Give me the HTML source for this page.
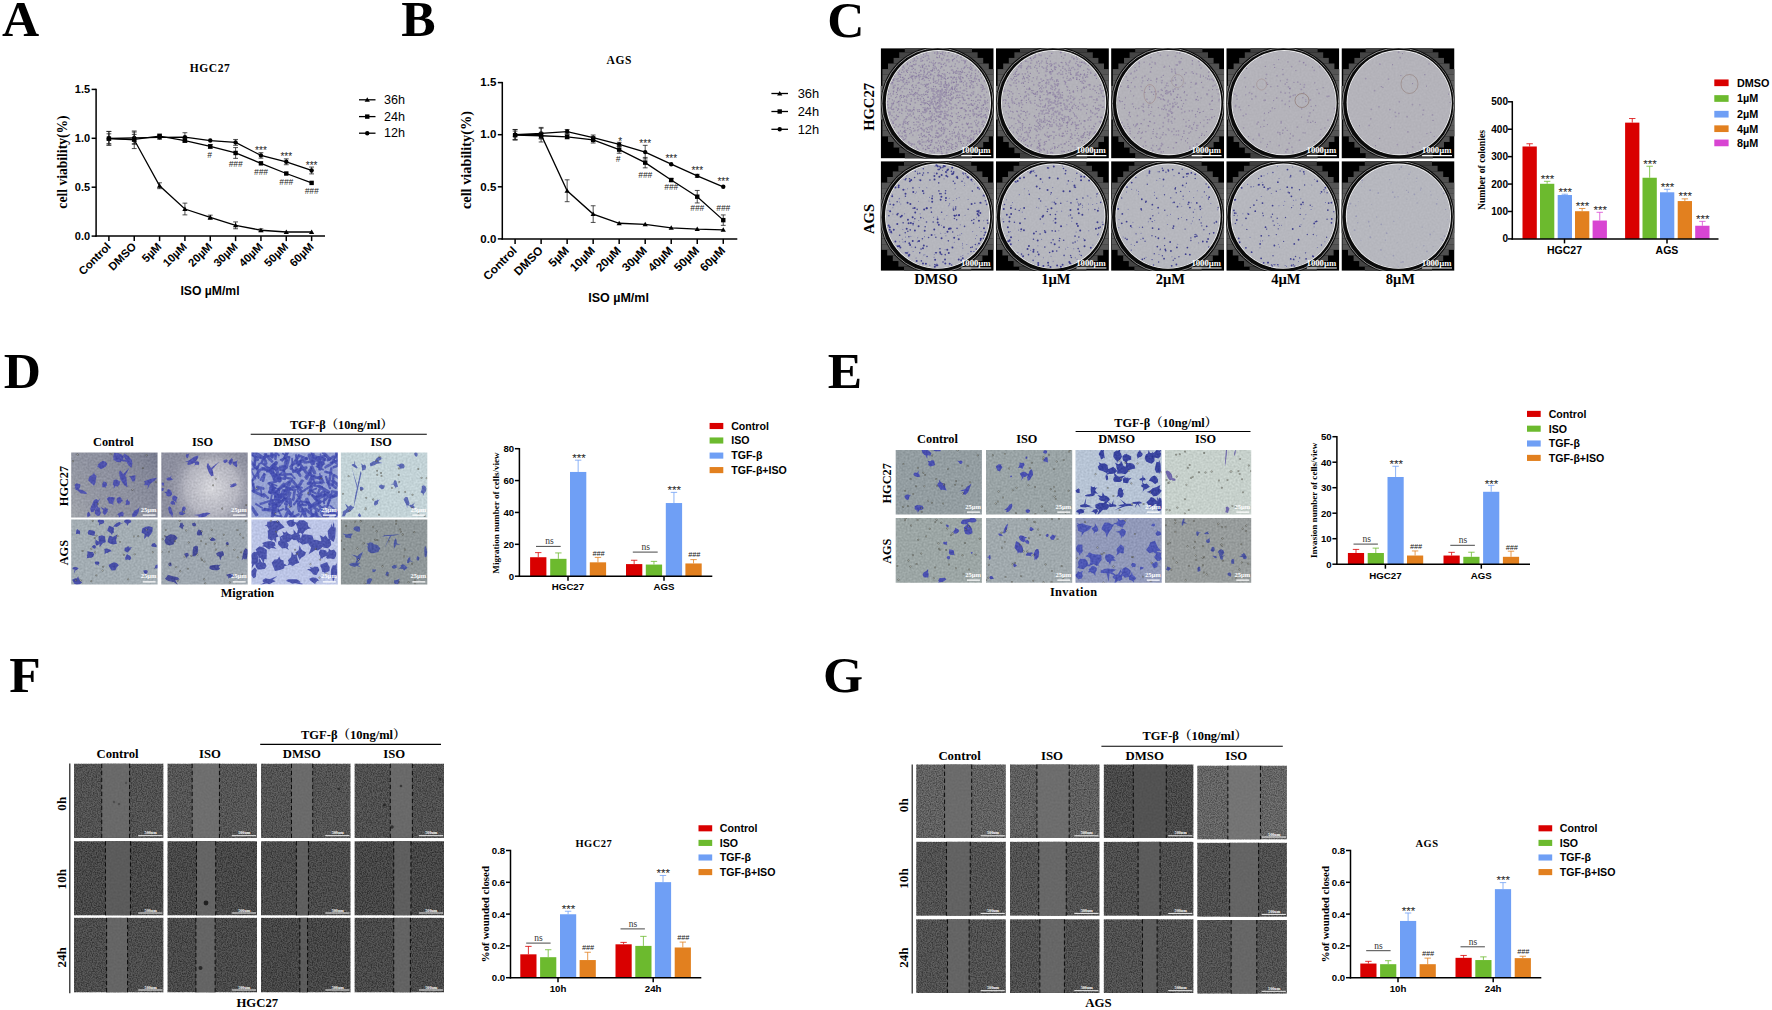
<!DOCTYPE html>
<html lang="en"><head><meta charset="utf-8"><title>Figure</title>
<style>
html,body{margin:0;padding:0;background:#fff}
svg{display:block}
.sn{font-family:"Liberation Sans", Arial, sans-serif;font-weight:400}
.sb{font-family:"Liberation Sans", Arial, sans-serif;font-weight:700}
.tn{font-family:"Liberation Serif", "Noto Serif CJK SC", "Times New Roman", serif;font-weight:400}
.tb{font-family:"Liberation Serif", "Noto Serif CJK SC", "Times New Roman", serif;font-weight:700}
</style></head><body>
<svg width="1772" height="1010" viewBox="0 0 1772 1010">
<defs>

<filter id="fW" x="0" y="0" width="1" height="1" color-interpolation-filters="sRGB">
<feTurbulence type="fractalNoise" baseFrequency="0.8" numOctaves="2" seed="3" result="n"/>
<feColorMatrix in="n" type="matrix" values="1.5 0 0 0 0  1.5 0 0 0 0  1.5 0 0 0 0  0 0 0 0 1" result="g"/>
<feComposite in="SourceGraphic" in2="g" operator="arithmetic" k1="0" k2="1" k3="0.24" k4="-0.18"/>
</filter>
<filter id="fW2" x="0" y="0" width="1" height="1" color-interpolation-filters="sRGB">
<feTurbulence type="fractalNoise" baseFrequency="0.85" numOctaves="2" seed="8" result="n"/>
<feColorMatrix in="n" type="matrix" values="1.5 0 0 0 0  1.5 0 0 0 0  1.5 0 0 0 0  0 0 0 0 1" result="g"/>
<feComposite in="SourceGraphic" in2="g" operator="arithmetic" k1="0" k2="1" k3="0.26" k4="-0.195"/>
</filter>
<filter id="fGap" x="0" y="0" width="1" height="1" color-interpolation-filters="sRGB">
<feTurbulence type="fractalNoise" baseFrequency="0.5" numOctaves="1" seed="5" result="n"/>
<feColorMatrix in="n" type="matrix" values="1 0 0 0 0  1 0 0 0 0  1 0 0 0 0  0 0 0 0 1" result="g"/>
<feComposite in="SourceGraphic" in2="g" operator="arithmetic" k1="0" k2="1" k3="0.06" k4="-0.03"/>
</filter>
<filter id="fMicro" x="0" y="0" width="1" height="1" color-interpolation-filters="sRGB">
<feTurbulence type="fractalNoise" baseFrequency="0.5" numOctaves="2" seed="2" result="n"/>
<feColorMatrix in="n" type="matrix" values="1 0 0 0 0  1 0 0 0 0  1 0 0 0 0  0 0 0 0 1" result="g"/>
<feComposite in="SourceGraphic" in2="g" operator="arithmetic" k1="0" k2="1" k3="0.16" k4="-0.08"/>
</filter>
<filter id="fPlate" x="0" y="0" width="1" height="1" color-interpolation-filters="sRGB">
<feTurbulence type="fractalNoise" baseFrequency="0.5" numOctaves="1" seed="9" result="n"/>
<feColorMatrix in="n" type="matrix" values="1 0 0 0 0  1 0 0 0 0  1 0 0 0 0  0 0 0 0 1" result="g"/>
<feComposite in="SourceGraphic" in2="g" operator="arithmetic" k1="0" k2="1" k3="0.05" k4="-0.025" result="c"/>
<feComposite in="c" in2="SourceGraphic" operator="in"/>
</filter>
<filter id="fSoft" x="-0.1" y="-0.1" width="1.2" height="1.2"><feGaussianBlur stdDeviation="0.35"/></filter>
<filter id="fSoft2" x="-0.05" y="-0.05" width="1.1" height="1.1"><feGaussianBlur stdDeviation="0.3"/></filter>

<linearGradient id="gD11" gradientUnits="userSpaceOnUse" x1="157" y1="452" x2="71" y2="517"><stop offset="0" stop-color="#6e7288" stop-opacity="0.75"/><stop offset="0.5" stop-color="#8a8e9c" stop-opacity="0.2"/><stop offset="1" stop-color="#b0b4b4" stop-opacity="0.6"/></linearGradient>
<radialGradient id="gD12" gradientUnits="userSpaceOnUse" cx="212" cy="488" r="48"><stop offset="0" stop-color="#dcdce0" stop-opacity="0.95"/><stop offset="0.55" stop-color="#c4c4cc" stop-opacity="0.7"/><stop offset="1" stop-color="#8a8c9c" stop-opacity="0"/></radialGradient>
</defs>
<rect width="1772" height="1010" fill="#fff"/>
<clipPath id="pc0"><rect x="880.7" y="48.2" width="113" height="110.2"/></clipPath>
<g clip-path="url(#pc0)">
<rect x="880.7" y="48.2" width="113" height="110.2" fill="#000"/>
<rect x="921.6" y="41.1" width="33.6" height="5.65" fill="#373737"/>
<rect x="904.8" y="46.7" width="67.2" height="5.65" fill="#3e3e3e"/>
<rect x="899.2" y="52.3" width="78.4" height="5.65" fill="#444444"/>
<rect x="893.6" y="57.9" width="89.6" height="5.65" fill="#4a4a4a"/>
<rect x="888" y="63.5" width="100.8" height="5.65" fill="#505050"/>
<rect x="882.4" y="69.1" width="112" height="5.65" fill="#555555"/>
<rect x="882.4" y="74.7" width="112" height="5.65" fill="#5a5a5a"/>
<rect x="882.4" y="80.3" width="112" height="5.65" fill="#5e5e5e"/>
<rect x="876.8" y="85.9" width="123.2" height="5.65" fill="#626262"/>
<rect x="876.8" y="91.5" width="123.2" height="5.65" fill="#656565"/>
<rect x="876.8" y="97.1" width="123.2" height="5.65" fill="#676767"/>
<rect x="876.8" y="102.7" width="123.2" height="5.65" fill="#676767"/>
<rect x="876.8" y="108.3" width="123.2" height="5.65" fill="#656565"/>
<rect x="876.8" y="113.9" width="123.2" height="5.65" fill="#626262"/>
<rect x="882.4" y="119.5" width="112" height="5.65" fill="#5e5e5e"/>
<rect x="882.4" y="125.1" width="112" height="5.65" fill="#5a5a5a"/>
<rect x="882.4" y="130.7" width="112" height="5.65" fill="#555555"/>
<rect x="888" y="136.3" width="100.8" height="5.65" fill="#505050"/>
<rect x="893.6" y="141.9" width="89.6" height="5.65" fill="#4a4a4a"/>
<rect x="899.2" y="147.5" width="78.4" height="5.65" fill="#444444"/>
<rect x="904.8" y="153.1" width="67.2" height="5.65" fill="#3e3e3e"/>
<rect x="921.6" y="158.7" width="33.6" height="5.65" fill="#373737"/>
<circle cx="937.6" cy="103.5" r="56.9" fill="#0c0c0c"/>
<circle cx="937.5" cy="103.6" r="55.6" fill="none" stroke="#909090" stroke-width="1.0"/>
<circle cx="938.4" cy="102.7" r="54.0" fill="#0a0a0a"/>
<circle cx="938.4" cy="102.7" r="52.6" fill="#f0f0f2"/>
<circle cx="938.4" cy="102.7" r="51.9" fill="#b4b3ba" filter="url(#fPlate)"/>
<path d="M920.4 67.02h0M953.83 59h0M942.07 88.97h0M893.23 103.46h0M891.13 95.92h0M930.69 136.1h0M899.95 74.42h0M951.42 148.46h0M946.28 92.14h0M975.04 81.2h0M918.83 135.01h0M905.77 111.04h0M952.6 89.66h0M943.28 58.02h0M956.84 95.3h0M919.41 111.44h0M933.62 82.24h0M968.49 123.04h0M912.25 110.31h0M940.98 141.04h0M961.85 81.03h0M930.03 128.98h0M902.83 101.57h0M891.31 119.89h0M965.44 110.16h0M976.77 83.66h0M958.36 112.34h0M946.57 98.22h0M935.75 119.48h0M893.5 123.29h0M971.3 80.69h0M926.73 119.94h0M889.61 98.79h0M900.52 76.91h0M927.26 140.66h0M895.54 97.51h0M943.45 141.88h0M971.03 139.9h0M915.75 94.04h0M923.97 141.96h0M905.31 75.31h0M911.15 101.16h0M947.51 78.45h0M925.04 109.48h0M984.71 122.17h0M939.98 114.72h0M956.41 57.12h0M979.23 131.31h0M976.68 133.14h0M927.4 92.38h0M897.88 116.42h0M908.64 68.19h0M922.05 56.97h0M897.67 88.76h0M950.06 66.78h0M913.08 87.1h0M924.52 64.15h0M934.92 101.05h0M922.32 78.66h0M972.01 68.1h0M941.29 66.58h0M942.81 54.36h0M941.27 151.6h0M975.53 122.75h0M913.99 89.08h0M904.37 130.49h0M941.73 131.22h0M920.99 74.39h0M974.44 133.98h0M970.93 127.22h0M910.47 104.5h0M923.64 54.56h0M913.79 122.38h0M985.06 97.31h0M984.9 88.87h0M909.83 74.78h0M907.4 72.49h0M951.08 143.61h0M973.19 100.6h0M954.03 133.32h0M895.96 119.11h0M980.28 131.55h0M963.96 100.45h0M905.54 132.25h0M921.28 133.44h0M986.6 92.05h0M928.32 148.36h0M961.37 68.97h0M902.24 136.07h0M923.11 107.67h0M986.52 118h0M941.12 147.02h0M931.64 140.69h0M971.73 73.17h0M913.04 81.54h0M911.88 111.53h0M913.81 94.42h0M923.46 98.42h0M946.92 144.02h0M930.29 145.39h0M938.57 105.95h0M940.8 53.51h0M932.28 70.31h0M904.91 99.99h0M961.41 108.47h0M920.62 104.58h0M944.07 131.75h0M898.14 108.86h0M912.7 79.9h0M966.23 103.49h0M944.71 129.27h0M980.56 96.9h0M949.9 103.27h0M939.64 122.4h0M933.53 106.1h0M936.16 147.82h0M958.76 141.18h0M944.48 148h0M973.15 65.62h0M899.73 96.78h0M894.71 76.19h0M894.77 120.02h0M967.42 143.28h0M903.08 124.79h0M954.78 66.21h0M928 101.4h0M903.8 95.7h0M939.99 86.26h0M907.31 84.15h0M943.92 96.61h0M951.07 103.95h0M898.01 78.74h0M914.94 64.84h0M930.45 144.75h0M971 78.03h0M945.61 123.18h0M957.63 95.07h0M952.14 133.53h0M933.68 86.26h0M943.82 146.31h0M914.68 64.81h0M941.15 75.97h0M919.19 82.77h0M964.92 81.23h0M938.41 69.78h0M962.22 107.92h0M906.66 100.12h0M970.99 95.77h0M937.89 136.9h0M927.47 103.38h0M922.32 136.66h0M959.53 116.6h0M928.66 87.12h0M894.53 127.32h0M913.42 68.28h0M976.27 120.13h0M916.11 76.35h0M917.25 98.56h0M903.4 97.16h0M986.7 107.51h0M918.94 88.04h0M935.81 102.98h0M907.84 103.18h0M896.47 92.43h0M918.39 75.39h0M947.15 105.68h0M964.01 118.8h0M960.47 141.44h0M927.11 84.93h0M961.31 117.34h0M978.46 115.71h0M962.3 134.61h0M901.54 105.13h0M938.85 136.93h0M969.54 136.06h0M946.99 142.85h0M957.09 122.46h0M900.9 88.46h0M944.38 115.76h0M951.3 121.16h0M937.31 51.94h0M968.82 128.07h0M938.7 106.3h0M954.68 58.35h0M962.6 77.37h0M894.91 78.74h0M961.84 72.57h0M937.78 90.7h0M936.25 121.47h0M965.68 114.65h0M952.99 59.52h0M902.37 77.55h0M963.26 82.71h0M945.33 52.87h0M893.5 79.07h0M955.98 122.34h0M956.36 81.33h0M940.09 99.09h0M934.96 63.71h0M978.63 71.96h0M889.09 98.51h0M933.23 79.06h0M908.83 111.03h0M901.79 105.16h0M971.13 103.59h0M977.94 123.48h0M910.95 143.35h0M936.98 54.14h0M887.67 101.85h0M933.37 82.46h0M901.68 86.75h0M919.6 137.47h0M981.98 124.47h0M979.44 81.22h0M925.34 91.75h0M924.16 95.35h0M916.49 147.22h0M912.78 78.76h0M939.52 71h0M925.46 149.32h0M977.67 134.58h0M951.78 144.95h0M983.44 107.73h0M962.15 97.68h0M964.22 117.47h0M916.55 56.61h0M935.56 86.72h0M917.73 127.13h0M954.34 82.35h0M944.26 91.9h0M904.4 68.12h0M938.1 74.09h0M933.29 65.87h0M922.25 60.91h0M911.74 78h0M945.51 142.28h0M963.92 93.79h0M929.6 105.17h0M925.82 86.16h0M893.64 79.96h0M938.75 115.95h0M975.48 73.67h0M915 76.99h0M928.16 97.17h0M978.84 99.97h0M927.31 146.32h0M971.68 139.03h0M940.69 121.31h0M983.52 125.36h0M953.46 129.76h0M934.04 107.96h0M911.07 145.62h0M953.27 82.65h0M900.38 77.33h0M952.33 123h0M940.9 111.17h0M926.96 74.45h0M948.73 52.67h0M918.12 98.68h0M985.3 117.48h0M977.62 100.18h0M911.29 76.85h0M938.23 120.53h0M930.23 77.89h0M955.5 146.15h0M921.85 94.58h0M957.06 71.84h0M968.76 127.14h0M938.9 72.57h0M971.1 75.19h0M909.93 129.32h0M917.44 148.89h0M937.97 70.74h0M910.12 94.22h0M955.29 148.56h0M902.26 91.81h0M893.45 91.8h0M982.51 85.25h0M955.2 90.29h0M925.51 85.5h0M915.9 87.52h0M923.75 135.56h0M971.31 95.8h0M892.33 99.99h0M925.39 145.57h0M907.03 88.83h0M929.28 134.57h0M981.33 77.87h0M963.67 143.43h0M921.95 79.43h0M985.18 114.66h0M914.09 124.84h0M919.64 79.77h0M980.96 116.39h0M911.2 100.16h0M926.8 77.26h0M931.24 102.03h0M969.32 127.07h0M971.39 130.58h0M949.36 85.1h0M919.96 88.58h0M907.47 128.54h0M890.76 108.08h0M914.37 60.19h0M897.15 102.54h0M959.84 97.28h0M911.23 94.2h0M950.7 120.49h0M963.74 138.16h0M955.2 63.98h0M973.24 81.62h0M945.24 89.72h0M962.73 71.96h0M912.59 76.67h0M946.4 84.95h0M939.15 75.25h0M969.92 118.37h0M935.82 135.31h0M899.48 70.97h0M986.74 111.2h0M982.36 89.64h0M975.82 97.5h0M913.87 131.09h0M948.23 114.96h0M909.54 89.28h0M901.75 72.45h0M913.35 112.86h0M953.9 72.39h0M956.62 70.52h0M919.21 72.39h0M968.58 107.61h0M927.7 107.82h0M952.62 60.92h0M904.03 122.67h0M929.18 80.55h0M918.74 149.02h0M919.22 109.5h0M923.8 94.16h0M924.48 71.75h0M961.7 72.41h0M930.61 135.44h0M928.82 141.83h0M934.4 68.21h0M888.82 107.97h0M952.78 144.58h0M896.4 115.19h0M925.2 103.16h0M902.21 80.55h0M940.56 146.19h0M898.42 101.73h0M907.47 64.54h0M936.64 57.05h0M981.95 91.24h0M979.71 115h0M971.57 67.98h0M967.61 74.3h0M928.64 138.1h0M972.04 70.3h0M909.59 92.45h0M940.23 90.8h0M899.88 76.85h0M961.38 143.3h0M891.5 109.07h0M948.57 107.82h0M951.38 82.9h0M930.23 111.14h0M930.81 118.93h0M932.96 96.4h0M889.69 114.85h0M937.33 75.64h0M965.34 131.31h0M934.14 69.95h0M935.66 62.54h0M900.43 95.61h0M896.67 96.77h0M939.44 55.77h0M952.34 60.01h0M962.26 131.07h0M939.57 57.15h0M938.8 90.22h0M962.12 134.89h0M937.57 149.37h0M894 87.46h0M964.58 67.83h0M978.93 79.7h0M970.66 66.27h0M938.63 145.61h0M908.59 78.47h0M939.01 84.21h0M956.76 143.11h0M904.55 131.81h0M899.06 105.84h0M952.33 88.37h0M976.52 108.34h0M946.58 141.8h0M951.66 91.89h0M968.82 78.66h0M988.53 110.61h0M924.12 129.75h0M932.5 69.66h0M971.09 77.52h0M947.18 119.43h0M950.26 95.77h0M939.7 143.12h0M900.79 74.83h0M898.17 88.1h0M910.22 111.24h0M947.51 72.47h0M951.07 100.13h0M912.19 66.86h0M897.09 116.83h0M976.35 131.54h0M928.38 78.61h0M944.77 87.4h0M953.28 96.95h0M983.08 126.57h0M912.7 143.94h0M891.8 105.92h0M928.79 75.89h0M888.56 107.9h0M907.69 113.75h0M939.11 117.17h0M970.43 69.45h0M918.92 82.29h0M967.32 124.71h0M963.46 99.15h0M963.11 97.84h0M910.39 62.36h0M921.59 128.21h0M958.34 137.99h0M960.03 78.78h0M943.9 96.16h0M967.88 105.08h0M914.41 117.21h0M913.91 75.73h0M963.56 85.01h0M977.25 85.18h0M911.74 144.35h0M951.76 122.41h0M935.28 137.42h0M958.6 139.24h0M931.98 125.66h0M945.59 83.05h0M908.96 115.23h0M922.55 66.1h0M958.09 116.38h0M958.53 126.9h0M894.02 111.95h0M924.44 135.15h0M898.25 72.62h0M973.94 134.59h0M952.11 135.92h0M951.84 80.97h0M964.7 72.55h0M919.92 94.91h0M916.18 124.75h0M924.91 84.39h0M985.82 103.08h0M974.31 114.79h0M890.47 93.8h0M931.91 130.6h0M922.74 123.62h0M942.27 73.73h0M971.08 69.01h0M887.75 101.76h0M937.53 133.03h0M906.16 102.15h0M922.78 136.61h0M916.3 73.54h0M958.79 102.53h0M898.53 116.65h0M958.55 132.02h0M951.47 87.94h0M928.31 91.93h0M908.37 78.5h0M979.4 102.82h0M926.06 141.94h0M911.17 98.7h0M941.62 128.71h0M964.26 117.65h0M922.92 84.98h0M903.17 137.77h0M954.97 127.43h0M904.63 96.45h0M966.35 110.79h0M900.18 98.82h0M977.76 75.92h0M906.88 82.41h0M959.16 137.82h0M903.1 67.54h0M912.6 84.97h0M940.67 68.05h0M920.83 70.94h0M897.69 90.87h0M962.24 96.05h0M907.35 116.8h0M898.22 72.7h0M926.99 55.07h0M928.08 132.44h0M958.17 102.75h0M951.93 98.95h0M901.79 113.3h0M928.66 127.32h0M980.1 95.55h0M945.96 128.16h0M930.34 74.96h0M961.11 141.54h0M966.41 123.15h0M974.42 121.05h0M952.87 97.99h0M919.29 115.81h0M897.3 94.48h0M967.26 124.48h0M951.65 77.16h0M930.59 98.12h0M950.82 93.44h0M956.31 146.67h0M906.01 118.49h0M966.83 91.33h0M937.36 151.21h0M891.2 107.13h0M903.74 131.5h0M983.43 104.66h0M897.63 110.32h0M942.59 124.91h0M939.65 116.93h0M972.02 104.92h0M929.24 148.48h0M908.77 121.54h0M927.41 129.55h0M923.63 57.39h0M915.34 92.45h0M888.66 94.38h0M930.28 122.96h0M923.29 78.7h0M910.24 127.38h0M983.36 105.47h0M909.67 133.51h0M927.36 73.27h0M900.51 130.97h0M970.04 116.43h0M935.25 109.04h0M923.39 116.89h0M970.98 135.01h0M935.14 81.68h0M943.33 64.39h0M972.51 87.86h0M974.24 78.93h0M925.74 77.51h0M930.85 70.6h0M916.04 76.64h0M918.15 100.61h0M931.09 116.73h0M954.68 88.64h0M979.87 131.73h0M901.65 136.56h0M954.34 77.15h0M911.18 130.94h0M922.71 67.2h0M979.7 132.51h0M949.48 131.45h0M955.62 142.96h0M967.84 137.33h0M907.47 122.4h0M941.55 127.42h0M932.12 141.81h0M944.03 78.63h0M911.23 65.84h0M937.69 57.57h0M935.04 66.36h0M937.52 102.51h0M942.44 139.79h0M935.13 109.09h0M955.29 137.51h0M925.62 94.4h0M952.41 116.61h0M890.22 113.91h0M957.06 146.8h0M939.49 101.13h0M960.7 115.5h0M921.91 139.66h0M924.72 100.1h0M941.01 130.35h0M908.84 96.08h0M930.47 108.22h0M971.79 81.53h0M971.89 92.86h0M938.78 79.37h0M939.06 151.24h0M954.2 132.54h0M921.12 84.01h0M917.88 111.54h0M952.18 131.75h0M977.81 107.34h0M892.38 82.3h0M981.47 113.81h0M954.55 132.24h0M980.28 114.12h0M950.33 115.66h0M958.47 112.54h0M956.9 73.32h0M955.47 98.4h0M965.25 61.96h0M966.46 145.02h0M954.31 89.3h0M971.37 131.98h0M944.75 77.97h0M918.17 94.71h0M919.85 95.61h0M952.89 147.04h0M892.88 109.6h0M970.12 110.4h0M981.18 97.23h0M888.74 91.17h0M947.8 147.43h0M987.54 100.19h0M929.45 62.03h0M953.17 73.29h0M960.82 76.36h0M962.27 70.75h0M960.23 139.03h0M961.88 60.21h0M951.55 124.08h0M934.37 146.89h0M919.09 126.15h0M904.26 139.59h0M937 57.71h0M924.87 110.36h0M932.14 120.78h0M902.11 133.09h0M924.43 117.51h0M951.66 94.32h0M926.72 131.95h0M945.23 81.48h0M959.17 136.16h0M921.23 113.52h0M948.74 83.14h0M931.1 142.37h0M925.8 121.59h0M948.8 143.18h0M969.82 80.55h0M930.48 111.55h0M970.69 142.3h0M970.26 140.23h0M945.75 79.59h0M974.29 134.08h0M957.27 144.99h0M922.75 60.29h0M943.89 133.09h0M907.78 128.27h0M949.32 120.86h0M934.86 72.71h0M913.33 128.37h0M968.21 98.58h0M966.22 75.4h0M946.53 143.27h0M977.76 104.93h0M936.01 111.83h0M906.63 71.25h0M905.77 123.25h0M924.38 109.28h0M928.43 104.46h0M898.15 116.27h0M967.77 67.56h0M948.34 86.85h0M940.39 53.7h0M975.81 101.3h0M945.27 78.34h0M966.93 95.13h0M907.84 70.07h0M944.26 140.58h0M934.14 148.4h0M948.42 92.21h0M913.59 109.29h0M952.77 149.35h0M955.75 91.78h0M933.12 67.92h0M913.45 87.58h0M967.67 124.12h0M956.48 82.14h0M947.75 129.06h0M898.07 84.7h0M913.57 64.29h0M936.49 68.83h0M911.67 66.23h0M960.6 71.54h0M901.58 97.31h0M973.38 115.82h0M933.53 86.33h0M971.42 100.4h0M951.5 66.19h0M960.24 108.15h0M914.53 93.68h0M903.21 79.31h0M973.1 85.79h0M904.45 101.78h0M919.81 143.9h0M955.6 73.18h0M936.1 80.85h0M913.65 72.21h0M897.27 81.18h0M961.55 81.6h0M969.78 86.44h0M972.36 105.42h0M906.29 96.08h0M980.5 73.91h0" stroke="#735f94" stroke-width="1.25" stroke-linecap="round" fill="none" opacity="0.6"/>
<path d="M945.69 65.71h0M905.71 130.34h0M960.03 71.7h0M949.49 102.24h0M915.29 72.66h0M949.89 123.93h0M970.24 111.18h0M962.18 93.31h0M961.05 57.26h0M970.15 85.86h0M973.34 139.95h0M937.69 53.18h0M980.32 100.31h0M976.42 78.81h0M906.31 136.59h0M924.82 68.31h0M925.23 112.4h0M887.77 104.73h0M932.86 104.3h0M899.64 124.63h0M970.75 140.05h0M920.1 124.28h0M926.28 128.38h0M984.8 102.17h0M939.76 105.82h0M942.22 53.71h0M912.9 135.11h0M958.73 71.54h0M889.11 112.86h0M946.22 105.04h0M959.11 62.11h0M976.17 124.89h0M937.75 102.78h0M915.88 64.07h0M928.76 65.6h0M947.78 139.6h0M902.35 110.14h0M963.6 68.39h0M927.03 94.57h0M973.12 105.32h0M927.73 147.8h0M966.7 86.2h0M911.87 85.85h0M931.82 151.88h0M970.6 138.23h0M892.77 104.48h0M912.78 94.74h0M951.96 88.84h0M941.55 58.68h0M931.56 103.19h0M983.05 116.31h0M970.01 141.98h0M952.87 78.76h0M956.64 79.54h0M942.72 146.07h0M950.79 77.21h0M940.48 95.92h0M984.48 80.98h0M918.51 117.78h0M899.6 112.34h0M985.01 104.11h0M914.73 99.27h0M941.86 66.77h0M917.31 93.15h0M916.76 76.48h0M896.28 107.43h0M973.12 113.94h0M945.57 118.07h0M907.86 124.2h0M934.4 107.61h0M949.93 99.53h0M919.03 76.36h0M909.95 103.97h0M926.46 111.46h0M975.38 75.98h0M944.19 101.82h0M917.5 130.51h0M976.34 96.57h0M893.64 91.24h0M932.26 126.76h0M898.46 74.61h0M903.09 86.04h0M923.32 120.62h0M950.29 138.47h0M971.23 104.52h0M962.8 127.56h0M964.94 100.17h0M967.52 124.01h0M965.55 111.47h0M938.18 149.99h0M945.75 94.31h0M967.39 140.8h0M949.37 90.39h0M933.52 98.4h0M961.2 81.54h0M927.23 108.36h0M926.6 84.51h0M967.74 138.43h0M938.35 96.98h0M906.13 82.67h0M902.12 110.41h0M946.74 60.59h0M981.34 84.7h0M973.49 137.26h0M930.88 144.66h0M945.04 102.43h0M942.33 153.63h0M940.18 104.46h0M957.33 91.41h0M923.86 112.38h0M923.18 148.48h0M956.44 105.28h0M897.41 89.87h0M928.27 108.97h0M945.97 141.52h0M985.87 101.34h0M932.28 115.43h0M941.48 134.98h0M904.75 84.11h0M939.69 62.89h0M978.72 122.11h0M978.07 94.61h0M903.28 81.23h0M939.59 103.2h0M906.52 70.24h0M951.7 113.24h0M952.35 55.92h0M929.35 132.1h0M918.65 122.19h0M973.37 111.51h0M955.58 71.7h0M938.18 108.14h0M914.49 117.7h0M941.62 153.5h0M946.01 93.61h0M964.92 62.5h0M940.7 135.72h0M949.95 134.03h0M966.05 84.59h0M960.42 87.76h0M904.61 78.85h0M946.81 87.26h0M933.27 91.01h0M946.85 149.67h0M932.23 114.98h0M919.47 143.46h0M970.68 82.64h0M948.88 149.71h0M937.95 148.66h0M912.13 91.44h0M960.73 74.23h0M918.9 141.06h0M936.8 132.62h0M912.17 69.33h0M923.93 70.67h0M944.69 63.34h0M941.85 91.01h0M928.51 58.29h0M899.9 136h0M923.2 76.63h0M906.84 80.58h0M955.19 86.49h0M903.23 123.74h0M896.77 79.16h0M932.61 137.07h0M969.56 67.87h0M923.37 125.44h0M925.82 149.55h0M938.89 74.83h0M933.57 64.98h0M959.5 78.25h0M979.24 111.65h0M924.91 76.77h0M949.46 73.32h0M939.73 107.05h0M914.94 130.47h0M926.63 118.8h0M945.32 83.36h0M927.15 60.39h0M905.39 138.57h0M920.11 119.33h0M898.44 109.04h0M924.24 102.74h0M917.65 58.34h0M919.11 74.74h0M900.19 124.85h0M916.16 92.83h0M980.19 130.8h0M900.81 79.86h0M955.12 87.52h0M929.46 118.96h0M958.76 76.99h0M973.83 87.59h0M951.57 70.17h0M962.32 124.43h0M903.86 71.84h0M918.27 90.51h0M891.31 83.38h0M952.54 69.96h0M973.09 109.87h0M960.54 77.63h0M931.75 121.54h0M972.56 130.96h0M974.59 113.67h0M898.66 132.48h0M963.9 60.4h0M958.3 91.83h0M963.7 136.3h0M916.04 60.79h0M984.02 94.93h0M982.37 122.28h0M962.79 136.42h0M951.49 97.87h0M892.85 122.96h0M931.08 103.91h0M959.12 133.95h0M913.99 107.44h0M986.37 116.75h0M942.89 77.12h0M893.37 88.17h0M929.37 72.18h0M919.04 65.56h0M959.55 120.11h0M911.61 76.3h0M939.97 97.08h0M982.94 87.52h0M917.9 142.01h0M901.8 109.17h0M921.39 134.93h0M943.33 129.32h0M904.59 119.72h0M948.49 98.73h0M965.6 136.55h0M899 81.17h0M924.14 72.7h0M893.47 80.31h0M907.44 123.31h0M933.09 63.15h0M920.46 99.5h0M924.4 68.78h0M895.88 124.89h0M987.48 109.21h0M898.42 101.56h0M931.68 71h0M942.8 52.45h0M981.28 117.47h0M951.46 147.18h0M954 77.29h0M912.44 65.77h0M973.1 81.88h0M906.28 116.81h0M904.52 131.79h0M972.17 127.47h0M920.69 70.46h0M971.65 84.32h0M924.96 107.93h0M925.04 136.57h0M945.23 115.8h0M971.08 123.71h0M937.83 102.65h0M903.39 82.22h0M946.69 59.8h0M957.61 68.32h0M932.59 150.71h0M932.22 71.1h0M973.23 139.01h0M967.72 95.08h0M916.25 119.22h0M939.89 94.65h0M921.91 96.43h0M955.38 136.02h0M917.52 96.89h0M944.88 87.18h0M920.38 98.66h0M985.6 114.95h0M956.43 113.85h0M917.66 109.97h0M984.68 100.73h0M953.46 82.19h0M922.4 142.06h0M956.66 97.32h0M896.01 119.1h0M925.32 110.95h0M929.85 105.76h0M945.02 92.11h0M978.26 107.62h0M913.21 61.31h0M941.55 77.31h0M937.3 108.22h0M910.45 110.13h0M898.85 104.05h0M947.44 59.8h0M929 59.11h0M932.22 139.85h0M943.57 124.63h0M964.66 63.31h0M927.36 69.1h0M985.42 109.14h0M966.5 65.58h0M911.51 89.65h0M888.85 112.34h0M909.08 82.25h0M959.6 95.13h0M978.12 115.08h0M976.43 109.13h0M904.47 127.78h0M922.19 129.64h0M956.85 135.98h0M899.84 89.72h0M949.01 61.78h0M943.39 133.67h0M956.31 77.62h0M907.04 97.26h0M972.96 111.02h0M898.58 133.43h0M906.23 108.24h0M916.94 121.83h0M926.22 66.34h0M976.77 106.63h0M957.77 134.2h0M922.29 67.03h0M938.58 140.83h0M905.93 135.23h0M956.75 91.72h0M935.92 67.78h0M973.67 91.81h0M976.52 114.03h0M895.06 85.25h0M909.41 142.97h0M947.52 56.06h0M904.65 88.49h0M935.11 110.57h0M926.94 87.75h0M934.25 152.41h0M955.87 79.47h0M915.24 102.7h0M914.08 109.75h0M941.28 149.4h0M944.6 130.39h0M976.46 130.73h0M952 116.46h0M924.39 80.38h0M968.58 140.8h0M983.23 121.23h0M918.37 129.61h0M962.88 103.61h0M952.22 87.41h0M943.59 93.09h0M893.48 86.06h0M936.51 89.14h0M912.18 75.6h0M922.99 65.46h0M933.61 97.13h0M945.42 82.51h0M918.11 83.13h0M961.56 107.94h0M983.11 86.4h0M981.45 111.22h0M946.63 152.52h0M923.78 130.75h0M931.07 140.34h0M894.22 101.12h0M979.19 79.79h0M904.12 78.99h0M959.29 73.91h0M928.14 72.08h0M948.92 139.91h0M953.54 71.7h0M948.72 59.71h0M970.03 141.08h0M922.17 65.57h0M906.53 106.48h0M976.77 117h0M920.69 128.18h0M953.62 93.02h0M956.69 86.12h0M893.17 93.94h0M891.95 115.61h0M921.49 102.12h0M948.4 77.87h0M934.66 52.99h0M981.86 109.26h0M950.05 125.61h0M920.94 61.15h0M903.26 66.18h0M965.71 60.78h0M970.49 94.85h0M942.35 111.74h0M944.02 118.78h0M948.78 85.41h0M963.04 77.95h0M960.01 129.61h0M966.61 83.21h0M933.61 80.04h0M940.78 147.76h0M935.92 118.58h0M966.42 88.65h0M964.62 60.79h0M893.45 102.89h0M944.05 70.18h0M983.34 88.97h0M902.56 69.73h0M962.7 145.77h0M966.82 76.39h0M987.69 102.59h0M952.31 86.78h0M969.11 98.62h0M920.4 143.94h0M898.32 126.55h0M893.99 117.57h0M928.37 139.91h0M893.43 109.26h0M929.19 145.54h0M983.87 115.69h0M910.2 77.35h0M914.11 95.93h0M910.95 72.37h0M964.89 117.28h0M909.44 109.81h0M903.32 139.81h0M976.14 78.92h0M964.11 135.69h0M916.18 85.48h0M936.92 142.66h0M903.82 121.38h0M948.37 97.9h0M946.5 141.83h0M908.74 141.9h0M924.13 131.3h0M975.53 70.23h0M902.71 126.82h0M957.08 60.82h0M922 145.47h0M960.51 141.74h0M911.28 132.55h0M957.76 55.47h0M938.89 75.27h0M931.3 62.32h0M919.65 141.39h0M899.61 101.41h0M901.18 95.39h0M905.59 121.65h0M902.42 127.05h0M938.47 63.08h0M923.44 102.32h0M981.19 87.31h0M977.56 126.35h0M915.2 69.71h0M914.35 58.64h0M891.71 103.59h0M929.01 108.49h0M957.63 118.35h0M942.89 107.69h0M976.63 124.96h0M928.11 84.13h0M930.14 151.03h0M926.86 90.99h0M929.2 66.22h0M949.42 146.27h0M913.33 114.03h0M925.83 76.21h0M907.58 63.47h0M973.46 131.72h0M958.25 84.75h0M953.34 107.7h0M974.52 103.74h0M911.26 115.94h0M963.27 90.32h0M960.08 91.82h0M941.08 114.23h0M956.51 84.52h0M951.57 107.1h0M910.12 114.2h0M914.38 144.47h0M935.67 125.34h0M940.65 100.31h0M909.91 66.12h0M982.07 105.64h0M940.85 105.51h0M970.42 75.99h0M904.91 135.6h0M934.34 117.06h0M926.26 136.64h0M970.88 64.17h0M903.02 77.3h0M897.81 88.05h0M969.39 104.88h0M933.58 60.59h0M958.33 97.52h0M936.19 133.18h0M964.85 66.92h0M956.81 89.1h0M940.51 75.89h0M925.19 86.36h0M926.25 53.42h0M907.83 109.91h0M960.7 79.66h0M920.41 76.32h0M952.31 139.38h0M907.91 94.85h0M968.27 114.75h0M925.28 56.09h0M932.53 89.13h0M960.12 81.77h0M928.99 117.84h0M970.17 87.61h0M926.68 110.74h0M925.35 119.62h0M920.97 58.83h0M964.57 90.37h0M941.04 102.35h0M979.41 128.97h0M889.92 112.18h0M934.57 98.83h0M973.11 94h0M935.7 142.59h0M932.25 101.81h0M939.61 135.88h0M955.81 127.27h0M928.35 55.75h0M956.78 108.2h0M965.92 130.28h0M899.37 74.16h0M964.29 109.28h0M892.92 121.2h0M959.97 100.94h0M892.9 122.22h0M930.01 111.28h0M921.47 104.56h0M915.37 78.41h0M919.29 77.66h0M975.08 108.39h0M939.52 94.55h0M892.53 82.72h0M975.88 133.56h0M974.85 77.87h0M942.17 89.8h0M934.74 101.57h0M946.96 88.98h0M969.21 72.07h0M981.26 108.44h0M892.53 83.72h0M941.78 93.39h0M945.04 84.67h0M936.56 130.68h0M935.56 126.56h0M941.43 79.16h0M922.7 111.88h0M924.89 112.54h0M945.38 107.13h0M936.98 96.57h0M940.16 95.71h0M934.77 94.61h0M946.34 90.48h0M940.97 81.74h0M933.57 78.08h0M937.06 111.94h0M940.47 92.59h0M942.55 94.99h0M940.92 105.2h0M942.07 59.93h0M929.57 113.43h0M937.67 137.62h0M936.81 91.63h0M948.52 109.84h0M951.26 109.09h0M937.02 112.61h0M933.06 93.36h0M934.64 97.05h0M943.67 92.79h0M940.58 92.5h0M944.38 55.39h0M936.99 103.47h0M931.1 117.36h0M939.86 121.76h0M944.91 111.24h0M937.39 82.85h0M936.91 93.14h0M940.09 93.06h0M959.07 74.44h0M946.35 92.98h0M936.76 115.91h0M938.42 80.78h0M941.2 97.49h0M924.48 103.95h0M931.26 88.48h0M941.66 105.62h0M936.44 136.33h0M941.24 90.62h0M940 98.71h0M923.5 74.83h0M929 134.6h0M937.16 96.16h0M934.58 116.8h0M938.59 128.69h0M943.73 127.69h0M937.61 106.86h0M935.48 97.93h0M926.71 91.17h0M931.98 90.01h0M946.61 104.99h0M946.67 114.77h0M944.61 117.17h0M934.31 113.85h0M936.23 92.01h0M946.46 136.16h0M931.8 129.17h0M944.01 86.81h0M940.24 106.78h0M940.93 94.86h0M929.73 101.21h0M944.21 113.56h0M942.86 118.75h0M931.71 100.01h0M940.7 117.06h0M939.45 109.19h0M939.3 135.07h0M923.67 100.3h0M955.1 104.56h0M926.05 102.89h0M928.73 89.58h0M939.91 128.77h0M941.52 111.65h0M945.27 103.98h0M932.62 99.1h0M940.67 96.17h0M933.9 94.82h0M928.28 83.93h0M937.79 94.79h0M938.65 123.68h0M940.42 100.17h0M930.49 83.05h0M940.93 86.41h0M941.29 83.13h0M939.31 99.51h0M945.11 94.28h0M935.89 104.72h0M938.77 128.34h0M936.67 91.92h0M936.25 108.46h0M939.98 112.04h0M929.08 141.23h0M950.8 100.19h0M930.26 103.23h0M941.2 64.18h0M938.49 76.52h0M941.49 123.3h0M945.36 76.06h0M947.71 115.52h0M935.97 108.91h0M948.62 95.27h0M938.29 91.55h0M946.19 65.47h0M947.96 84.87h0M944.64 74.11h0M932.09 90.92h0M943.98 74.18h0M942.46 90.31h0M946.76 95.61h0M941.68 97.89h0M950.48 94.81h0M938.23 133.15h0M938.92 111.92h0M933.43 103.97h0M923.12 102.42h0M934.04 76.12h0M928.86 119.37h0M941.27 75.9h0M950.62 89.32h0M935.92 104.73h0M930.74 74.24h0M933.38 120.03h0M944.81 74.86h0M946.51 101.26h0M941.77 101.54h0M941.19 84.34h0M932.28 89.2h0M935.92 110.83h0M930.21 126.78h0M934.14 91.07h0M943.14 107.8h0M936.12 83.19h0M931.66 74.56h0M946.1 118.42h0M950.98 108.86h0M940.64 113.09h0M944.81 96.46h0M940.77 135.94h0M926.99 77.7h0M931.91 113.03h0M946.4 95.16h0M942.93 99.91h0M940.42 91.86h0M938.22 100.62h0M946.02 137.22h0M926.17 109.42h0M938.37 116.54h0M945.55 113.47h0M943.85 85.15h0M926.91 128.03h0M946.55 85.11h0M947.1 111.62h0M921.86 115.42h0M931.75 119.79h0M933.81 88.53h0M927.98 97.15h0" stroke="#7d6a9c" stroke-width="1.8" stroke-linecap="round" fill="none" opacity="0.42"/>
<text class="tb" x="975.8" y="153.2" font-size="8.7" text-anchor="middle" fill="#fff">1000µm</text>
<line x1="961.3" y1="155.6" x2="991.2" y2="155.6" stroke="#fff" stroke-width="1.1"/>
</g>
<clipPath id="pc1"><rect x="995.9" y="48.2" width="113" height="110.2"/></clipPath>
<g clip-path="url(#pc1)">
<rect x="995.9" y="48.2" width="113" height="110.2" fill="#000"/>
<rect x="1036.8" y="41.1" width="33.6" height="5.65" fill="#373737"/>
<rect x="1020" y="46.7" width="67.2" height="5.65" fill="#3e3e3e"/>
<rect x="1014.4" y="52.3" width="78.4" height="5.65" fill="#444444"/>
<rect x="1008.8" y="57.9" width="89.6" height="5.65" fill="#4a4a4a"/>
<rect x="1003.2" y="63.5" width="100.8" height="5.65" fill="#505050"/>
<rect x="997.6" y="69.1" width="112" height="5.65" fill="#555555"/>
<rect x="997.6" y="74.7" width="112" height="5.65" fill="#5a5a5a"/>
<rect x="997.6" y="80.3" width="112" height="5.65" fill="#5e5e5e"/>
<rect x="992" y="85.9" width="123.2" height="5.65" fill="#626262"/>
<rect x="992" y="91.5" width="123.2" height="5.65" fill="#656565"/>
<rect x="992" y="97.1" width="123.2" height="5.65" fill="#676767"/>
<rect x="992" y="102.7" width="123.2" height="5.65" fill="#676767"/>
<rect x="992" y="108.3" width="123.2" height="5.65" fill="#656565"/>
<rect x="992" y="113.9" width="123.2" height="5.65" fill="#626262"/>
<rect x="997.6" y="119.5" width="112" height="5.65" fill="#5e5e5e"/>
<rect x="997.6" y="125.1" width="112" height="5.65" fill="#5a5a5a"/>
<rect x="997.6" y="130.7" width="112" height="5.65" fill="#555555"/>
<rect x="1003.2" y="136.3" width="100.8" height="5.65" fill="#505050"/>
<rect x="1008.8" y="141.9" width="89.6" height="5.65" fill="#4a4a4a"/>
<rect x="1014.4" y="147.5" width="78.4" height="5.65" fill="#444444"/>
<rect x="1020" y="153.1" width="67.2" height="5.65" fill="#3e3e3e"/>
<rect x="1036.8" y="158.7" width="33.6" height="5.65" fill="#373737"/>
<circle cx="1052.8" cy="103.5" r="56.9" fill="#0c0c0c"/>
<circle cx="1052.7" cy="103.6" r="55.6" fill="none" stroke="#909090" stroke-width="1.0"/>
<circle cx="1053.6" cy="102.7" r="54.0" fill="#0a0a0a"/>
<circle cx="1053.6" cy="102.7" r="52.6" fill="#f0f0f2"/>
<circle cx="1053.6" cy="102.7" r="51.9" fill="#b4b3ba" filter="url(#fPlate)"/>
<path d="M1095.21 102.51h0M1039.67 151.37h0M1072.36 108.57h0M1048.26 128.36h0M1093.57 126.09h0M1035.73 65.6h0M1017.27 111.65h0M1061.45 56.37h0M1042.58 127.98h0M1068.06 80.31h0M1080.42 81.36h0M1058.13 94.6h0M1084.76 120.74h0M1041.39 150.02h0M1075.03 122.2h0M1030.86 68.14h0M1061.28 136h0M1083.61 87.09h0M1016.8 104.33h0M1077.96 69.04h0M1034.38 57.07h0M1032.92 90.74h0M1021.63 83.22h0M1035.3 96.39h0M1013.58 78.19h0M1042.76 91h0M1048.51 137.15h0M1067.61 131.18h0M1034.67 67.14h0M1079.87 99.66h0M1059.6 120.14h0M1079.42 79.74h0M1039.57 145.37h0M1056.6 81.07h0M1066.91 78.14h0M1086.98 109.49h0M1038.64 147.66h0M1029.64 76.47h0M1009.64 107.66h0M1079.53 120.9h0M1044.68 134.15h0M1013.87 82.97h0M1068.4 150.46h0M1067.29 122.32h0M1081.67 91.92h0M1037.43 91.72h0M1084.85 87.34h0M1021.48 140.68h0M1056.85 104.87h0M1070.91 143.73h0M1016.15 86.22h0M1009.24 93.83h0M1053.82 138.67h0M1070.75 110.65h0M1043.76 110.23h0M1030.48 137.94h0M1083.08 137.28h0M1017.95 120.23h0M1079.57 102.76h0M1078.44 135.5h0M1068.81 141.4h0M1015.92 123.56h0M1074.43 114.18h0M1030.61 58.48h0M1064.16 135.84h0M1030.4 73.38h0M1025.38 61.19h0M1084.48 88.36h0M1073.98 58.98h0M1088.2 84.83h0M1016.68 79.71h0M1008.54 97.15h0M1059.21 134.11h0M1013.8 74.54h0M1066.83 86.36h0M1036.33 109.7h0M1024.77 132.69h0M1023.86 137.39h0M1085.15 106.49h0M1005.4 103.18h0M1045.82 58.04h0M1066.89 125.65h0M1062.28 92.49h0M1054.84 111.77h0M1025.63 140.27h0M1100.75 85.27h0M1051.34 65.27h0M1048.9 121.37h0M1074.9 98.07h0M1037.42 71.01h0M1043.67 80.48h0M1022.35 126.82h0M1055.26 96.43h0M1022.71 123.52h0M1022.61 78.75h0M1059.76 123.27h0M1076.34 125.13h0M1076.29 116.01h0M1029.46 87.92h0M1019.22 116.21h0M1038.81 143.48h0M1084.72 98.11h0M1018.23 131.06h0M1050.66 152.84h0M1051.17 135.6h0M1060.08 103.51h0M1023.89 77.35h0M1075.08 148.21h0M1102.71 96.24h0M1077.35 90.86h0M1085.47 137.59h0M1024.37 111.42h0M1087.36 131.93h0M1049.89 56.02h0M1093.36 106.19h0M1009.75 84.65h0M1066.33 142.08h0M1052.02 116.95h0M1023.52 76.48h0M1095.07 90.7h0M1013.13 112.02h0M1015.4 72.03h0M1049.14 111.44h0M1067.54 123.85h0M1047.43 58.5h0M1076.54 57.09h0M1050.6 92.5h0M1071.27 124.54h0M1027.01 117.98h0M1073.23 99.81h0M1063.73 58.01h0M1025.88 91.69h0M1083.04 135.79h0M1067.28 127.39h0M1024.94 120.27h0M1097.58 116.87h0M1096.45 78.47h0M1079.88 62.21h0M1021.61 134.08h0M1019.14 103.94h0M1013.31 132.03h0M1059.31 135.54h0M1053.85 114.95h0M1063.26 133.31h0M1058.25 81.34h0M1087.29 134.54h0M1049.31 64.08h0M1068.94 72.77h0M1046.35 62.88h0M1102.29 107.41h0M1038.53 61.21h0M1077.12 138.44h0M1040.07 82.54h0M1080.42 66.71h0M1064.48 151.61h0M1073.27 112.79h0M1055.66 98.16h0M1044.14 114.05h0M1068.78 145.26h0M1077.38 133.01h0M1072.08 138.47h0M1046.53 141.35h0M1047.65 123.8h0M1028.32 82.31h0M1038.12 84.76h0M1012.18 96.86h0M1079.43 79.62h0M1028.02 93.75h0M1036.09 130.34h0M1081.7 142.54h0M1083.71 105.97h0M1034.56 115.68h0M1040.02 106.51h0M1056.76 118.02h0M1057.53 147.46h0M1044.15 144.99h0M1031.87 144.25h0M1020.52 96.36h0M1072.7 122.18h0M1078.74 128.57h0M1027.9 77.88h0M1023.88 78.12h0M1101.05 117.34h0M1062.91 118.66h0M1063.6 122.62h0M1033.56 58.13h0M1039.45 66.14h0M1014.03 102.06h0M1030.45 130.24h0M1033.48 93.39h0M1072.97 97.07h0M1076.93 61.29h0M1097.78 86.59h0M1087.2 74.72h0M1089.88 133.65h0M1071.05 79.98h0M1069.88 111.59h0M1070.08 70.06h0M1102.93 90.74h0M1069.16 109.81h0M1039.66 125.45h0M1016.64 132.13h0M1028.22 89.03h0M1055.96 62.99h0M1027.88 132.95h0M1031.66 90.51h0M1080.66 74.49h0M1022.32 73.98h0M1041.76 88.94h0M1068.05 99.82h0M1070.32 137.08h0M1047.3 63.44h0M1049.51 124.32h0M1051.51 69.36h0M1026.08 96.6h0M1039.41 99.55h0M1098.22 108.3h0M1078.56 109.13h0M1098.95 105.24h0M1027 69.04h0M1090.87 73.31h0M1010.99 78.71h0M1096.94 98.71h0M1077.24 59.21h0M1048.8 84.08h0M1023.49 119.35h0M1039.42 63.83h0M1103.08 100.82h0M1069.23 104.2h0M1005 99.67h0M1078.17 106.49h0M1026.42 102.6h0M1064.32 118.15h0M1017.32 133.73h0M1090.12 89.18h0M1025.69 112.71h0M1047.37 65.96h0M1022.07 128.14h0M1062.11 147.61h0M1043.58 121.01h0M1026.32 100.35h0M1054.79 148.52h0M1052.79 152.97h0M1065.99 73.71h0M1087.73 72.24h0M1035.39 93.19h0M1037.57 119.94h0M1004.85 89.82h0M1019.06 136.22h0M1028.85 98.02h0M1059.92 124.34h0M1016.57 76.17h0M1055.87 111.02h0M1026.45 68.72h0M1062.35 97.84h0M1044.29 142.39h0M1070.13 139.51h0M1098.77 93.27h0M1032.1 81.13h0M1045.43 105.7h0M1089.25 134.08h0M1069.28 104.01h0M1014.42 76.51h0M1069.76 111.52h0M1084.37 143.45h0M1060.79 70.15h0M1073.23 77.73h0M1026.68 89.03h0M1056.04 120.83h0M1010 127.36h0M1066.3 99.81h0M1071.19 133.32h0M1003.48 100.18h0M1071.79 124.07h0M1068.68 70.02h0M1026.3 95.61h0M1044.31 149.87h0M1094.49 75.36h0M1077.64 88.36h0M1070.29 129.98h0M1015.54 74.35h0M1024.47 78.79h0M1044.01 94.6h0M1010.45 111.12h0M1098.81 110.57h0M1038.85 123.59h0M1047.18 69.53h0M1051.73 53.4h0M1071.58 68.05h0M1040.28 149.97h0M1080.86 136.99h0M1068.12 116.45h0M1022.56 129.9h0M1033.25 77.74h0M1086.46 113.04h0M1062.68 71.87h0M1004.03 106.26h0M1076.66 79.44h0M1020.2 122.72h0M1029.6 124.27h0M1036.77 104.98h0M1035.22 94.26h0M1051.44 78.02h0M1066.28 122.8h0M1029.37 132.52h0M1076.98 86.52h0M1052.76 70.85h0M1097.44 108.87h0M1073.29 90.97h0M1075.78 75.05h0M1083.97 133.56h0M1012.13 111.51h0M1022.05 123.93h0M1084.67 132.47h0M1026.13 61.14h0M1070.31 109.35h0M1016.62 71.3h0M1062.03 62.63h0M1067.29 76.22h0M1028.92 94.88h0M1056.99 125.64h0M1025.08 81.32h0M1067.89 122.24h0M1065.32 143.77h0M1023.41 83.4h0M1070.21 78.25h0M1018.58 74.73h0M1081.33 136.12h0M1083.68 83.25h0M1034.74 125.31h0M1008.19 113.86h0M1055 67.06h0M1049.69 71.81h0M1014.72 103.39h0M1055.78 88.68h0M1075.71 105.69h0M1081.75 62.46h0M1009.66 91.15h0M1051.92 77.42h0M1070.82 74.28h0M1035.02 100.34h0M1075.3 130.33h0M1040.48 97.27h0M1065.74 62.33h0M1049.08 116.68h0M1015.68 99.21h0M1065.8 82.26h0M1009.5 128.32h0M1081.27 96.3h0M1011.26 91.85h0M1007.74 81.04h0M1080.98 65.4h0M1019.26 105.96h0M1087.64 68.88h0M1020.25 129.78h0M1046.02 86.15h0M1015.1 76.42h0M1029.03 127.29h0M1050.82 149.34h0M1064.23 81.11h0M1050.05 124.78h0M1077.51 64.85h0M1037.13 76.94h0M1028.58 99.55h0M1089.83 84.43h0M1020.16 127.71h0M1037.41 70.76h0M1045.26 135.57h0M1090.7 110.35h0M1064.49 143.52h0M1099.8 85.03h0M1089.22 135.29h0M1029.68 88.99h0M1040.79 87.66h0M1041.16 62.87h0M1025.71 144.55h0M1044.46 116.58h0M1093.18 128.82h0M1027.47 145.58h0M1076.91 128.74h0M1085.59 77.48h0M1069.54 90.5h0M1088.32 65.25h0M1057.6 85.98h0M1086.37 86.89h0M1088.74 138.25h0M1071.68 118.28h0M1058.48 98.17h0M1037.18 131.61h0M1082.44 140.5h0M1024.38 86.39h0M1027.98 61.86h0M1083.91 74.81h0M1078.24 71.88h0M1049.72 92.67h0M1034.17 116.22h0M1093.94 99.68h0M1094.45 126.59h0M1034.34 140.92h0M1061.09 62.42h0M1062.54 136.35h0M1055.49 101.07h0M1045.06 141.58h0M1070.52 72.85h0M1039.53 88.73h0M1100.48 122.72h0M1006.07 111.99h0M1046.69 124.93h0M1046.38 61.04h0M1056.02 135.45h0M1083.12 88.05h0M1025.22 127.72h0M1084.44 73.98h0M1046.8 90.5h0M1075.05 146.62h0M1023.12 82.44h0M1036.13 126.43h0M1021.59 107.49h0M1053.63 119.91h0M1083.77 70.34h0M1095.52 107.95h0M1080.12 140.36h0M1039.47 146.03h0M1053.85 143.44h0M1054.7 146.91h0M1059.73 66.28h0M1067 133.71h0M1045.82 113.14h0M1028.98 79.81h0M1045.45 104.05h0M1050.36 61.04h0M1075.77 128.08h0M1026.73 77.72h0M1055.3 69.53h0M1064.12 144h0M1023.14 111.44h0M1076.16 128.17h0M1075.28 124.22h0M1030.35 137.28h0M1098.99 96.84h0M1083.94 120.85h0M1017.02 98.61h0M1036.84 129.94h0M1027.55 71.92h0M1018.98 93.52h0M1065.68 82.59h0M1019.05 73.93h0M1034.77 103.17h0M1021.26 100.63h0M1047.45 151.04h0M1052.19 148.16h0M1050.68 71.83h0M1063 66.38h0M1043.73 87.79h0M1045.95 87.57h0M1073.09 91.65h0M1061.02 52.26h0M1089.32 126.05h0M1038.73 115.98h0M1096.55 92.65h0M1046.71 82.08h0M1059.14 119.33h0M1017.35 88.99h0" stroke="#735f94" stroke-width="1.25" stroke-linecap="round" fill="none" opacity="0.6"/>
<path d="M1089.53 132.44h0M1062.8 120.81h0M1037.25 148.16h0M1058.65 92.74h0M1021.14 63.4h0M1094.23 133.41h0M1051.52 102.26h0M1039.64 143.08h0M1038.25 105.97h0M1097.48 116.92h0M1051.24 85.59h0M1042.06 113.85h0M1082.83 78.23h0M1040.36 91.22h0M1039.58 144.91h0M1057.58 79.79h0M1036.47 135.55h0M1018.87 122.11h0M1017.51 74.9h0M1077.46 125.2h0M1058.8 145.82h0M1046.86 71.32h0M1078.95 139.35h0M1041.92 61.12h0M1091.71 128.61h0M1063.51 151.43h0M1074.89 116h0M1020.99 113.87h0M1039.36 151.65h0M1046.9 91.55h0M1028.39 75.38h0M1074.64 69.5h0M1020.89 67.16h0M1038.37 126.94h0M1008.52 105.79h0M1047.42 132.43h0M1061.33 97.75h0M1092.58 113.02h0M1036.94 92.06h0M1096 108.92h0M1017.06 69.49h0M1041.67 122.19h0M1082.83 104.22h0M1044.82 120h0M1060.74 126.04h0M1044.28 149.71h0M1065.37 83.93h0M1040.99 79.09h0M1094.87 132.56h0M1083.05 135.53h0M1035.03 129.02h0M1029.31 114.03h0M1018.69 139.25h0M1052.45 79.72h0M1017.74 129.38h0M1061.09 144.32h0M1062.44 95.27h0M1081.92 62.12h0M1030.77 63.22h0M1091.54 96.75h0M1076.74 77.82h0M1077.14 117.9h0M1012.47 102.07h0M1076.27 73.52h0M1069.37 80h0M1040.37 145.62h0M1046.11 110.03h0M1085.13 129.12h0M1049.13 139.86h0M1043.51 148.69h0M1050.82 63.72h0M1079.06 66.41h0M1071.95 57.07h0M1103.5 106.88h0M1078.17 65h0M1067.59 90.08h0M1027.96 134.89h0M1005.9 100.44h0M1049.98 99.53h0M1075.95 126.12h0M1037.58 146.93h0M1021.44 65.56h0M1085.76 63.87h0M1021.5 102.71h0M1036.87 68.34h0M1097.54 100.03h0M1082.81 77.17h0M1095.77 74.2h0M1095.14 114.23h0M1066.97 106.07h0M1089.86 96.93h0M1084.83 121.3h0M1078.61 75.31h0M1049.85 135.7h0M1018.9 121.49h0M1059.13 93.01h0M1019.64 65.61h0M1050.56 102h0M1029.87 89.17h0M1059.12 129.46h0M1062.73 68.17h0M1093.06 89.18h0M1016.84 111.11h0M1101.31 90.95h0M1058.45 83.68h0M1015.17 80.65h0M1066.83 109.14h0M1099.41 121.65h0M1039.53 148.63h0M1067.3 107.12h0M1090.65 120.06h0M1039.33 113.41h0M1059.03 72.63h0M1054.36 63.68h0M1088.02 119.98h0M1072.43 146.31h0M1007.53 95.19h0M1060.6 52.5h0M1044.99 143.84h0M1062.75 135.85h0M1020.82 136.66h0M1029.83 141.59h0M1055.19 84.66h0M1101.27 93h0M1073.78 58.48h0M1013.79 127.87h0M1030.14 66.72h0M1039.72 119.24h0M1069.28 68.07h0M1076.7 107.94h0M1039.19 143.59h0M1028.57 66.08h0M1018.66 66.87h0M1062.65 133.45h0M1018.86 102.99h0M1061.21 108.88h0M1044.68 107.15h0M1045.7 75.8h0M1079.85 76.32h0M1086.71 76.28h0M1011.96 100.4h0M1042.1 85.89h0M1080.69 74.32h0M1070.97 136.91h0M1048.76 103.02h0M1096.9 113.33h0M1010.9 85.49h0M1011.58 117.91h0M1045.79 83.13h0M1054.84 147.32h0M1027.48 67.41h0M1033.71 84.74h0M1095.49 123.77h0M1046.33 68.56h0M1089.11 117.83h0M1018.5 115.49h0M1008.47 103.4h0M1036.77 62.07h0M1078.38 124.85h0M1054.69 68.78h0M1070.93 95.88h0M1070.08 60.95h0M1025.26 92.31h0M1036.73 78.81h0M1071.04 74.35h0M1043.46 121.96h0M1046.52 67.52h0M1009.7 107.1h0M1012.71 102.94h0M1052.42 71.43h0M1070.96 102.25h0M1085.16 81.44h0M1050.89 66.04h0M1051.93 64.58h0M1072.58 122.88h0M1061.59 151.38h0M1084.35 63.14h0M1035.41 57.09h0M1062.08 125.49h0M1038.06 122.68h0M1039.98 124.39h0M1011.85 125.81h0M1090.87 116.67h0M1075.76 63.37h0M1041.4 120.23h0M1038.64 140.99h0M1095.39 131.94h0M1090.91 111.72h0M1101.57 117.43h0M1099.37 109.43h0M1022.59 104.62h0M1051.86 86.08h0M1040.69 103.77h0M1062.6 74.34h0M1030.85 103h0M1054 94.4h0M1070.38 70.55h0M1056.85 79.79h0M1081.2 123.52h0M1082.32 104.48h0M1027.94 146.2h0M1054.71 89.94h0M1032.18 92.69h0M1074.93 135.26h0M1051.82 126.32h0M1024.26 97.8h0M1039.08 82.91h0M1039.24 128.73h0M1077.45 72.79h0M1026.39 131.76h0M1069.4 120.7h0M1067.42 122.48h0M1030.38 57.82h0M1039.35 54.91h0M1100.81 105.23h0M1070.99 150.38h0M1084.71 75.03h0M1036.93 62.7h0M1083.82 126.93h0M1052.34 89.34h0M1030.08 101.39h0M1075.27 143.11h0M1047.39 94.65h0M1021.24 67.73h0M1031.21 145.84h0M1089.65 85.48h0M1046.16 71.25h0M1081.47 89.89h0M1047.42 92.22h0M1063.34 77.69h0M1004.57 91.46h0M1040.49 129.4h0M1036.53 121.05h0M1066.33 70.86h0M1064.94 81.63h0M1022.96 139.02h0M1095.43 75.45h0M1062.39 110.33h0M1035.41 55.32h0M1035.75 117.46h0M1064.02 103.73h0M1015 73.35h0M1034.32 94.16h0M1039.62 143.82h0M1027.07 139.14h0M1027.39 111.62h0M1041.05 55.48h0M1083.89 134.43h0M1030.01 130.92h0M1051.47 152.47h0M1008.06 90.47h0M1025.78 115.47h0M1082 137.67h0M1058.54 91.18h0M1084.22 62.29h0M1029.07 128.52h0M1047.51 153.08h0M1011.79 98.8h0M1040.2 95.81h0M1054.4 81.17h0M1074.24 104.35h0M1054.68 102.06h0M1040.5 139.61h0M1023.91 141.29h0M1039.06 85.89h0M1065.33 109.17h0M1031.52 60.23h0M1100.12 89.35h0M1014.19 118.69h0M1056.87 85.08h0M1036.07 137.96h0M1037.11 94.26h0M1100.29 88.48h0M1043.59 68.15h0M1070.21 119.54h0M1048.12 93.08h0M1026.28 132.33h0M1049.23 136.62h0M1040.82 126.56h0M1100.67 121.33h0M1071.56 102.4h0M1050.77 71.79h0M1020.18 117.54h0M1073.41 78.04h0M1068.37 65.52h0M1065.15 69.14h0M1054.57 83.69h0M1058.78 65.3h0M1051.9 114.62h0M1016.27 83.15h0M1071.86 107.42h0M1065.53 131.31h0M1060.9 74.31h0M1047.73 136.44h0M1060.42 128.57h0M1039.7 97.43h0M1069.22 62.48h0M1065.03 54.99h0M1076.91 78.95h0M1088.94 69.71h0M1087.11 104.82h0M1047.47 136.45h0M1072.86 106.05h0M1090.64 72.35h0M1094.33 86.23h0M1066.29 63.95h0M1018.82 81.5h0M1030.99 145.63h0M1103.66 96.59h0M1083.83 80.31h0M1077.33 74.87h0M1058.93 114.18h0M1073.97 99.02h0M1082.84 98.2h0M1031.24 127.72h0M1087.45 76.92h0M1073.53 92.08h0M1025.4 73.81h0M1100 89.23h0M1054.61 102.83h0M1078.65 141.12h0M1038.98 73.03h0M1038.01 126.43h0M1069.75 93.1h0M1056.12 67.35h0M1096.38 99.82h0M1054.3 132.03h0M1022.72 125.44h0M1038.61 134.63h0M1012.14 79.8h0M1067.46 100.9h0M1041.02 110.74h0M1024.75 96.3h0M1028.45 136.5h0M1058.93 113.07h0M1066.48 64.42h0M1081.93 81.45h0M1090.68 131.97h0M1071.81 134.91h0M1047.13 120.42h0M1012.79 93.7h0M1054.58 66.84h0M1025.11 140.16h0M1042.15 66.82h0M1021.2 110.62h0M1021.91 100.15h0M1057.45 96.53h0M1053.98 137.12h0M1080.94 109.85h0M1057.47 73.84h0M1082.33 82.91h0M1076.79 74.93h0M1061.04 117.85h0M1040.48 100.65h0M1009.17 117.35h0M1073.15 67.28h0M1058.78 126.52h0M1064.37 119.98h0M1055.15 96.72h0M1053.63 107.82h0M1053.55 107.92h0M1048.3 101.56h0M1051.19 118.68h0M1045.07 122.34h0M1053.01 92.46h0M1053.75 102.86h0M1052 107.84h0M1049.63 72.72h0M1058.39 100.39h0M1065.06 107.23h0M1039.84 121.4h0M1048.87 109.9h0M1068.87 118.92h0M1046.08 99.3h0M1042.55 111.9h0M1057.47 83.81h0M1056.72 116.32h0M1059.16 89.72h0M1048.84 82.25h0M1044.71 106.05h0M1053.87 122.4h0M1055.49 95.49h0M1043.79 126.41h0M1054.73 100.32h0M1046.69 83.49h0M1057.95 84.73h0M1057.62 111.23h0M1050.98 74.01h0M1056.43 124.1h0M1047.93 79.96h0M1061.09 103.22h0M1049.31 121.13h0M1051.7 108.31h0M1050.84 88.43h0M1055.11 86.65h0M1041.4 91.93h0M1062.08 119h0M1068.54 117.26h0M1064.69 104.99h0M1050.61 108.56h0M1047.08 113h0M1050.52 105.12h0M1047.75 98.65h0M1060.34 97.29h0M1048.97 105.54h0M1059.65 97.78h0M1045.57 75.15h0M1044.4 118.44h0M1052.99 108.75h0M1060.98 105.56h0M1056.91 92.55h0M1042.55 111.24h0M1052.94 110.35h0M1046.29 98.54h0M1067.44 87.03h0M1054.27 122.45h0M1052.01 102.94h0M1038.98 113.65h0M1050.57 122.05h0M1052.98 94.75h0M1056.59 96.95h0M1050.07 126.27h0M1060.34 102.7h0M1059.15 114.45h0M1057.59 101.66h0M1054.1 107.6h0M1057.48 106.72h0M1049.82 99.68h0M1056.74 84.78h0M1053.54 113.32h0M1054.76 96.24h0M1053.44 93.01h0M1060.34 94.76h0M1042.18 81.18h0M1055.66 104.35h0M1050.36 79.48h0M1052.58 87.21h0M1049.1 100.91h0M1048.35 106.02h0M1048.53 93.35h0M1052.04 124.79h0M1064.41 116.35h0M1048.55 101.03h0M1059.86 114.1h0M1042.44 100.04h0M1048.53 113.18h0M1057.97 92.2h0M1068.28 96.44h0M1070.34 98.2h0M1053.02 131.86h0M1049.99 93.27h0M1063.71 100.32h0M1056.88 80.49h0M1065.86 116.95h0M1056.05 112.45h0M1050.17 93.25h0M1042.84 106.97h0M1062.08 114.88h0M1059.9 112.49h0M1047.3 79.78h0M1057.99 103.66h0M1060.35 96.51h0M1047.56 108.19h0" stroke="#7d6a9c" stroke-width="1.8" stroke-linecap="round" fill="none" opacity="0.42"/>
<text class="tb" x="1091" y="153.2" font-size="8.7" text-anchor="middle" fill="#fff">1000µm</text>
<line x1="1076.5" y1="155.6" x2="1106.4" y2="155.6" stroke="#fff" stroke-width="1.1"/>
</g>
<clipPath id="pc2"><rect x="1111.1" y="48.2" width="113" height="110.2"/></clipPath>
<g clip-path="url(#pc2)">
<rect x="1111.1" y="48.2" width="113" height="110.2" fill="#000"/>
<rect x="1152" y="41.1" width="33.6" height="5.65" fill="#373737"/>
<rect x="1135.2" y="46.7" width="67.2" height="5.65" fill="#3e3e3e"/>
<rect x="1129.6" y="52.3" width="78.4" height="5.65" fill="#444444"/>
<rect x="1124" y="57.9" width="89.6" height="5.65" fill="#4a4a4a"/>
<rect x="1118.4" y="63.5" width="100.8" height="5.65" fill="#505050"/>
<rect x="1112.8" y="69.1" width="112" height="5.65" fill="#555555"/>
<rect x="1112.8" y="74.7" width="112" height="5.65" fill="#5a5a5a"/>
<rect x="1112.8" y="80.3" width="112" height="5.65" fill="#5e5e5e"/>
<rect x="1107.2" y="85.9" width="123.2" height="5.65" fill="#626262"/>
<rect x="1107.2" y="91.5" width="123.2" height="5.65" fill="#656565"/>
<rect x="1107.2" y="97.1" width="123.2" height="5.65" fill="#676767"/>
<rect x="1107.2" y="102.7" width="123.2" height="5.65" fill="#676767"/>
<rect x="1107.2" y="108.3" width="123.2" height="5.65" fill="#656565"/>
<rect x="1107.2" y="113.9" width="123.2" height="5.65" fill="#626262"/>
<rect x="1112.8" y="119.5" width="112" height="5.65" fill="#5e5e5e"/>
<rect x="1112.8" y="125.1" width="112" height="5.65" fill="#5a5a5a"/>
<rect x="1112.8" y="130.7" width="112" height="5.65" fill="#555555"/>
<rect x="1118.4" y="136.3" width="100.8" height="5.65" fill="#505050"/>
<rect x="1124" y="141.9" width="89.6" height="5.65" fill="#4a4a4a"/>
<rect x="1129.6" y="147.5" width="78.4" height="5.65" fill="#444444"/>
<rect x="1135.2" y="153.1" width="67.2" height="5.65" fill="#3e3e3e"/>
<rect x="1152" y="158.7" width="33.6" height="5.65" fill="#373737"/>
<circle cx="1168" cy="103.5" r="56.9" fill="#0c0c0c"/>
<circle cx="1167.9" cy="103.6" r="55.6" fill="none" stroke="#909090" stroke-width="1.0"/>
<circle cx="1168.8" cy="102.7" r="54.0" fill="#0a0a0a"/>
<circle cx="1168.8" cy="102.7" r="52.6" fill="#f0f0f2"/>
<circle cx="1168.8" cy="102.7" r="51.9" fill="#b4b3ba" filter="url(#fPlate)"/>
<path d="M1188.85 127.27h0M1184.15 92.72h0M1175.91 104.28h0M1219.14 99.18h0M1203.46 76.19h0M1193.61 124.67h0M1207.57 78.96h0M1198.18 100.18h0M1149.64 89.26h0M1199.35 137.73h0M1204.02 120.02h0M1135.1 67.51h0M1175.75 73.27h0M1152.1 62.07h0M1133.52 124.88h0M1140.56 138.26h0M1151.33 138.35h0M1148.63 78.94h0M1158.05 52.84h0M1162.21 90.43h0M1127.87 124.14h0M1177.18 103.11h0M1142.86 80.9h0M1216.84 89.64h0M1200.44 122.68h0M1173.89 134.67h0M1133.48 106.77h0M1144.87 92.39h0M1137.25 123.99h0M1176.27 131.24h0M1181.91 112.84h0M1175.62 84.93h0M1212.53 89.53h0M1128.14 85.66h0M1189.89 146.78h0M1183.69 119.31h0M1163.22 98.79h0M1195.34 84.07h0M1128.92 114.93h0M1200.38 76.97h0M1187.57 142.82h0M1168.08 85.77h0M1163.24 132.66h0M1182.26 69.33h0M1125.47 97.85h0M1119.52 100.73h0M1159.81 149.13h0M1159.97 138.45h0M1197.39 111.52h0M1142 82.75h0M1167.93 91.98h0M1183.68 103.25h0M1150.71 113.62h0M1160.92 137.09h0M1203.24 111.48h0M1177.02 52.88h0M1156.9 78.34h0M1181.14 58.29h0M1173.12 89.98h0M1167.98 92.93h0M1128.14 126.36h0M1199.5 112.73h0M1129.53 112.83h0M1207.48 119.56h0M1145.96 145.63h0M1143 110.57h0M1156.42 81.85h0M1195.5 114.61h0M1151.61 107.1h0M1212.58 109.52h0M1211.06 109.45h0M1164.71 108.04h0M1181.4 100.45h0M1182.52 106.11h0M1189.75 148.38h0M1183.94 133.39h0M1142.03 90.56h0M1140.84 123.63h0M1171.74 113.49h0M1150.97 111.56h0M1170.44 91.02h0M1153.07 133.71h0M1135.58 108.68h0M1168.09 147.3h0M1134.38 137.53h0M1158.29 107.59h0M1151.38 67.52h0M1131.37 82.63h0M1189.32 110.92h0M1130.15 133.51h0M1169.55 66.23h0M1201.55 135.48h0M1200.52 75.02h0M1196.03 130.62h0M1182.47 136.68h0M1149.74 121.45h0M1187.64 138.35h0M1175.63 79.77h0M1143.42 107.07h0M1208.58 76.36h0M1188.96 120.4h0M1130.15 131.15h0M1196.02 82.91h0M1127.73 80.4h0M1196.56 99.3h0M1201.03 67.91h0M1128.59 87.27h0M1125.2 128.54h0M1127.03 119.85h0M1126.23 76.83h0M1185.52 140.88h0M1159.52 97.55h0M1120.88 86.41h0M1142.44 132.2h0M1190.69 131.76h0M1172.04 123.08h0M1130.7 90.95h0M1147.64 80.44h0M1193.25 73.49h0M1150.95 80.46h0M1206 116.85h0M1166.82 90.42h0M1163.65 109.53h0M1205.85 77.8h0M1144.13 62.14h0M1169 130.14h0M1133.7 95.8h0M1218.94 100.78h0M1156.78 137.39h0M1208.87 90.04h0M1130.32 116.66h0M1193.37 145.95h0M1185.16 83.05h0M1170.33 81.01h0M1163.28 99.44h0M1212.37 100.45h0M1211.84 117.04h0M1206.87 93.84h0M1204.35 135.35h0M1155.95 136.29h0M1139.53 128.51h0M1165.58 93.61h0M1137.79 133.37h0M1192.4 60.7h0M1156.05 93.98h0M1176.62 142.59h0M1214.29 116.31h0M1155.06 62.58h0M1124.73 104.63h0M1177.31 97.31h0M1218.11 93.87h0M1153.57 94.33h0M1178.1 107.07h0M1161.22 77.15h0M1149.93 102.04h0M1163.31 151.68h0M1175.25 72.75h0M1153.04 131.57h0M1208.58 75.76h0M1197.45 96.73h0M1172.63 106.06h0M1185.92 122.03h0M1156.57 145.53h0M1201.5 82.46h0M1124.54 108.15h0M1184.57 74.53h0M1122.18 101.38h0M1181.63 80.13h0M1163.25 75.41h0M1136.7 70.14h0M1201.06 97.93h0M1190.82 87.12h0M1200.16 112.49h0M1184.54 91.74h0M1175.12 71.08h0M1172.12 116.88h0M1127.94 85.78h0M1141.27 137.77h0M1119.02 97.04h0M1206.47 131.58h0M1191.16 82.41h0M1141.44 123.58h0M1148.22 125.5h0M1153.47 129.33h0M1176.26 134.94h0M1173.43 91.28h0" stroke="#735f94" stroke-width="1.25" stroke-linecap="round" fill="none" opacity="0.6"/>
<path d="M1196.38 83.8h0M1138.98 131.73h0M1173.94 128.83h0M1167.71 55.34h0M1196.52 73.89h0M1144.17 119.63h0M1195.8 116.64h0M1163 126.49h0M1186.06 72.65h0M1172.39 112.7h0M1192.18 71.81h0M1149.46 86.65h0M1127.5 87.21h0M1192.26 110.63h0M1135.38 126.38h0M1129.63 128.37h0M1143.43 104.23h0M1145.3 141.95h0M1213.6 80.56h0M1194.34 122.69h0M1175.05 77.65h0M1150.51 71.88h0M1161.67 143.39h0M1209.65 79.43h0M1139.38 63.53h0M1155.23 63.82h0M1136.06 77.16h0M1176.81 97.2h0M1148.87 105.35h0M1196.82 125.6h0M1152.81 145.42h0M1198.57 109.01h0M1166.3 85.28h0M1179.87 61.68h0M1142.04 106.34h0M1202.96 87.43h0M1168.63 119.59h0M1137.36 115.63h0M1161.16 152.01h0M1136.88 124.27h0M1171.69 69.43h0M1198.93 61.44h0M1181.37 139.59h0M1130.64 73.82h0M1195.87 99.66h0M1212.97 86.14h0M1158.37 149.46h0M1152.84 150.36h0M1208.76 72.07h0M1173.48 147.79h0M1196.82 128.18h0M1179.1 61.82h0M1197.78 125.51h0M1150.14 121.57h0M1159.66 128.33h0M1156.99 133.69h0M1165.9 134.62h0M1148.48 107.31h0M1120.28 101.6h0M1186.92 95.04h0M1189.66 125.95h0M1179.63 53.21h0M1212.12 96.42h0M1178.51 134.86h0M1212.07 79.25h0M1139.15 66.57h0M1209.45 119.54h0M1177.29 65.01h0M1159.94 148.33h0M1203.67 126.38h0M1122.02 122.67h0M1168.08 101.81h0M1132.54 103.95h0M1199.67 65.04h0M1207.24 94.52h0M1144.9 76.05h0M1164.69 117.77h0M1175.94 142.56h0M1169.97 103.99h0M1149.71 64.27h0M1160.44 55.14h0M1211.81 101.1h0M1207.51 122.88h0M1192.29 129.12h0M1148.53 126.12h0M1138.76 108.31h0M1178.54 130.86h0M1134.85 86.77h0M1201.94 133.83h0M1139.18 62.5h0M1191.66 127.78h0M1183.94 131.27h0M1170.43 109.07h0M1211.83 117.85h0M1184.74 111.77h0M1168.18 128.95h0M1176.22 64.78h0M1161.22 94.66h0M1161.88 108.93h0M1154.67 91.57h0M1161.32 89.56h0M1158.09 97.48h0M1178.18 89.11h0M1146.92 99.15h0M1150.8 57.56h0M1142.34 77.64h0M1189.05 133.03h0M1165.7 91.2h0M1141.57 133.18h0M1129.39 112.28h0M1164.63 66.43h0M1123.88 126.39h0M1185.73 99.99h0M1180.72 61.79h0M1177.85 94.62h0M1143.21 146.51h0M1192.33 64.04h0M1141.1 86.62h0M1176.25 84.79h0M1162.63 134.73h0M1136.28 125.2h0M1151.49 148.13h0M1214.97 85.07h0M1179.64 62.92h0M1159.65 115.3h0M1182.92 86.61h0M1174.98 69.09h0M1148.98 114.8h0M1209.75 104.26h0M1143.73 111.48h0M1145.87 131.55h0M1133.65 78.38h0M1162.53 144.41h0M1134.61 71.26h0M1131.16 73.44h0M1151.66 91.98h0M1195.34 92.87h0M1166.25 92.12h0M1196.82 143.91h0M1161.19 145.75h0M1171.39 121.3h0M1156.67 79.35h0M1154.45 123h0M1164.79 105.42h0M1169.97 110.93h0M1163.34 122.73h0M1168.33 100.38h0M1166.98 83.13h0M1173.73 106.24h0M1171.91 131.41h0M1162.88 96.02h0M1168.85 114.8h0M1167.59 116.1h0M1171.92 71.71h0M1164.14 67.21h0M1166.85 93.83h0M1172.83 103.51h0M1168.36 121.51h0M1172.86 80.4h0M1164.09 106.11h0M1180.44 97.44h0M1167.64 105.08h0M1174.15 99.22h0M1170.81 93.76h0M1165.04 87.61h0M1173.3 91.53h0M1172.56 107.4h0M1175.46 56.42h0M1162.2 80.58h0M1167.68 113.98h0M1186.12 126.2h0M1178.08 107h0M1166.16 109.55h0M1153.91 116.07h0M1168.86 110.89h0M1161.76 82.63h0M1164.4 99.98h0M1171.19 94.84h0M1171.19 111.94h0M1160.87 99.02h0M1158.15 91.65h0M1174.99 88.9h0M1181.54 109.05h0M1174.88 102.42h0M1174.72 118.77h0M1169.53 91.95h0" stroke="#7d6a9c" stroke-width="1.8" stroke-linecap="round" fill="none" opacity="0.42"/>
<ellipse cx="1150" cy="94" rx="6" ry="9.5" fill="none" stroke="#9a7a7a" stroke-width="0.6" opacity="0.8"/>
<ellipse cx="1177.5" cy="81" rx="6" ry="6.5" fill="none" stroke="#9a8a90" stroke-width="0.6" opacity="0.8"/>
<text class="tb" x="1206.2" y="153.2" font-size="8.7" text-anchor="middle" fill="#fff">1000µm</text>
<line x1="1191.7" y1="155.6" x2="1221.6" y2="155.6" stroke="#fff" stroke-width="1.1"/>
</g>
<clipPath id="pc3"><rect x="1226.3" y="48.2" width="113" height="110.2"/></clipPath>
<g clip-path="url(#pc3)">
<rect x="1226.3" y="48.2" width="113" height="110.2" fill="#000"/>
<rect x="1267.2" y="41.1" width="33.6" height="5.65" fill="#373737"/>
<rect x="1250.4" y="46.7" width="67.2" height="5.65" fill="#3e3e3e"/>
<rect x="1244.8" y="52.3" width="78.4" height="5.65" fill="#444444"/>
<rect x="1239.2" y="57.9" width="89.6" height="5.65" fill="#4a4a4a"/>
<rect x="1233.6" y="63.5" width="100.8" height="5.65" fill="#505050"/>
<rect x="1228" y="69.1" width="112" height="5.65" fill="#555555"/>
<rect x="1228" y="74.7" width="112" height="5.65" fill="#5a5a5a"/>
<rect x="1228" y="80.3" width="112" height="5.65" fill="#5e5e5e"/>
<rect x="1222.4" y="85.9" width="123.2" height="5.65" fill="#626262"/>
<rect x="1222.4" y="91.5" width="123.2" height="5.65" fill="#656565"/>
<rect x="1222.4" y="97.1" width="123.2" height="5.65" fill="#676767"/>
<rect x="1222.4" y="102.7" width="123.2" height="5.65" fill="#676767"/>
<rect x="1222.4" y="108.3" width="123.2" height="5.65" fill="#656565"/>
<rect x="1222.4" y="113.9" width="123.2" height="5.65" fill="#626262"/>
<rect x="1228" y="119.5" width="112" height="5.65" fill="#5e5e5e"/>
<rect x="1228" y="125.1" width="112" height="5.65" fill="#5a5a5a"/>
<rect x="1228" y="130.7" width="112" height="5.65" fill="#555555"/>
<rect x="1233.6" y="136.3" width="100.8" height="5.65" fill="#505050"/>
<rect x="1239.2" y="141.9" width="89.6" height="5.65" fill="#4a4a4a"/>
<rect x="1244.8" y="147.5" width="78.4" height="5.65" fill="#444444"/>
<rect x="1250.4" y="153.1" width="67.2" height="5.65" fill="#3e3e3e"/>
<rect x="1267.2" y="158.7" width="33.6" height="5.65" fill="#373737"/>
<circle cx="1283.2" cy="103.5" r="56.9" fill="#0c0c0c"/>
<circle cx="1283.1" cy="103.6" r="55.6" fill="none" stroke="#909090" stroke-width="1.0"/>
<circle cx="1284" cy="102.7" r="54.0" fill="#0a0a0a"/>
<circle cx="1284" cy="102.7" r="52.6" fill="#f0f0f2"/>
<circle cx="1284" cy="102.7" r="51.9" fill="#b4b3ba" filter="url(#fPlate)"/>
<path d="M1262.98 138.58h0M1303.33 62.68h0M1303.05 132.75h0M1274.65 67.47h0M1300.25 84.22h0M1246.57 68.43h0M1274.03 64.57h0M1272.26 107.95h0M1289.33 92.86h0M1266.61 146.99h0M1311.11 106.35h0M1313.39 110.11h0M1244.91 77.7h0M1265.81 93.25h0M1287.91 61.91h0M1305.03 132.91h0M1314.26 141.64h0M1265.33 66.47h0M1310.73 122.44h0M1270.87 86.69h0M1248.6 136.62h0M1279.98 134.59h0M1267.62 84.43h0M1285.35 127.8h0M1323.11 87.7h0M1303.77 92.86h0M1320.94 129.28h0M1289.65 88.65h0M1260.88 142.04h0M1314.75 82.79h0M1315.68 105.66h0M1289.52 106.74h0M1274.83 108.56h0M1301.63 117.09h0M1315.35 122.38h0M1312.5 67.2h0M1287.19 130.33h0M1248.87 105.51h0M1324.96 127.99h0M1273.57 100.55h0M1312.88 121.14h0M1263.99 126.39h0M1282.65 133.18h0M1270.09 141.7h0M1302.87 97.66h0M1290.41 133.86h0M1286.98 149.74h0M1305.88 101.62h0M1319.76 66.81h0M1267.41 124.56h0M1317.05 89.71h0M1240.7 109.85h0M1265.8 78.29h0M1278.65 59.59h0M1289.99 97.02h0M1264.42 113.2h0M1268.34 151.29h0M1245.54 86.92h0M1245.79 94.78h0M1260.87 57.37h0M1286.88 82.32h0M1301.76 108.94h0M1293.95 82.25h0M1308 122.03h0M1305.9 99.75h0M1280.31 80.82h0M1237 99.23h0M1295.88 70.62h0M1320.14 135.01h0M1282.81 69.56h0M1260.61 126.98h0M1268.59 112.68h0M1267.45 144.46h0" stroke="#735f94" stroke-width="1.25" stroke-linecap="round" fill="none" opacity="0.6"/>
<path d="M1266.55 82.81h0M1293.14 135.98h0M1239.34 107.09h0M1287.56 149.4h0M1290.2 88.45h0M1291.93 147.04h0M1259.14 135.5h0M1234.78 94.15h0M1270.43 111.06h0M1257.08 124h0M1299.59 61.32h0M1304.09 87.2h0M1279.79 132.81h0M1287.32 79.7h0M1285.89 151.89h0M1307.53 120.05h0M1319.05 93.39h0M1290.02 138.34h0M1253.25 139.38h0M1235.41 106.49h0M1291.65 66.55h0M1327.13 96.5h0M1251.81 93.66h0M1293.34 95.45h0M1305.79 65.08h0M1259.01 134.13h0M1309.98 112.81h0M1277 75.84h0M1292.99 151.82h0M1303.88 62.6h0M1255.69 96.49h0M1265.18 100.16h0M1249.49 92.71h0M1304.47 84.72h0M1314.29 70.44h0M1243.28 115.7h0M1279.19 145.43h0M1243.64 127.87h0M1301.36 89.45h0M1246.01 114.13h0M1310.39 99.9h0M1281.19 121.68h0M1295.18 94.86h0M1251.92 98.98h0M1289.09 143.22h0M1334.57 108.5h0M1266.48 74.36h0M1297.33 127.07h0M1258.22 122.15h0M1328.85 96.22h0M1299.55 140.16h0M1253.68 86.91h0M1264.19 100.3h0M1309.02 116.04h0M1327.93 120.04h0M1236.64 95.71h0M1235.66 105.36h0M1280.83 92.24h0M1288.47 86.9h0M1290.38 96.72h0M1277.62 86.16h0M1283.01 130.18h0M1289.3 101.03h0M1277.78 132.44h0M1282.09 100.68h0M1281.09 122.92h0M1285.21 93.08h0M1285.27 84.07h0M1276.76 98.01h0M1264.21 120.29h0M1297.67 82.18h0M1283.03 74.42h0M1285.18 104.24h0" stroke="#7d6a9c" stroke-width="1.8" stroke-linecap="round" fill="none" opacity="0.42"/>
<ellipse cx="1261.6" cy="84.5" rx="5" ry="5.5" fill="none" stroke="#a08a8a" stroke-width="0.6" opacity="0.8"/>
<ellipse cx="1302" cy="100.5" rx="7" ry="7" fill="none" stroke="#7a5a50" stroke-width="0.6" opacity="0.8"/>
<text class="tb" x="1321.4" y="153.2" font-size="8.7" text-anchor="middle" fill="#fff">1000µm</text>
<line x1="1306.9" y1="155.6" x2="1336.8" y2="155.6" stroke="#fff" stroke-width="1.1"/>
</g>
<clipPath id="pc4"><rect x="1341.5" y="48.2" width="113" height="110.2"/></clipPath>
<g clip-path="url(#pc4)">
<rect x="1341.5" y="48.2" width="113" height="110.2" fill="#000"/>
<rect x="1382.4" y="41.1" width="33.6" height="5.65" fill="#373737"/>
<rect x="1365.6" y="46.7" width="67.2" height="5.65" fill="#3e3e3e"/>
<rect x="1360" y="52.3" width="78.4" height="5.65" fill="#444444"/>
<rect x="1354.4" y="57.9" width="89.6" height="5.65" fill="#4a4a4a"/>
<rect x="1348.8" y="63.5" width="100.8" height="5.65" fill="#505050"/>
<rect x="1343.2" y="69.1" width="112" height="5.65" fill="#555555"/>
<rect x="1343.2" y="74.7" width="112" height="5.65" fill="#5a5a5a"/>
<rect x="1343.2" y="80.3" width="112" height="5.65" fill="#5e5e5e"/>
<rect x="1337.6" y="85.9" width="123.2" height="5.65" fill="#626262"/>
<rect x="1337.6" y="91.5" width="123.2" height="5.65" fill="#656565"/>
<rect x="1337.6" y="97.1" width="123.2" height="5.65" fill="#676767"/>
<rect x="1337.6" y="102.7" width="123.2" height="5.65" fill="#676767"/>
<rect x="1337.6" y="108.3" width="123.2" height="5.65" fill="#656565"/>
<rect x="1337.6" y="113.9" width="123.2" height="5.65" fill="#626262"/>
<rect x="1343.2" y="119.5" width="112" height="5.65" fill="#5e5e5e"/>
<rect x="1343.2" y="125.1" width="112" height="5.65" fill="#5a5a5a"/>
<rect x="1343.2" y="130.7" width="112" height="5.65" fill="#555555"/>
<rect x="1348.8" y="136.3" width="100.8" height="5.65" fill="#505050"/>
<rect x="1354.4" y="141.9" width="89.6" height="5.65" fill="#4a4a4a"/>
<rect x="1360" y="147.5" width="78.4" height="5.65" fill="#444444"/>
<rect x="1365.6" y="153.1" width="67.2" height="5.65" fill="#3e3e3e"/>
<rect x="1382.4" y="158.7" width="33.6" height="5.65" fill="#373737"/>
<circle cx="1398.4" cy="103.5" r="56.9" fill="#0c0c0c"/>
<circle cx="1398.3" cy="103.6" r="55.6" fill="none" stroke="#909090" stroke-width="1.0"/>
<circle cx="1399.2" cy="102.7" r="54.0" fill="#0a0a0a"/>
<circle cx="1399.2" cy="102.7" r="52.6" fill="#f0f0f2"/>
<circle cx="1399.2" cy="102.7" r="51.9" fill="#b4b3ba" filter="url(#fPlate)"/>
<path d="M1433.02 120.38h0M1412.55 83.56h0M1375.4 145.71h0M1402.48 53.62h0M1382.9 87.26h0M1359.5 125.78h0M1430.82 132.27h0M1429.02 63.95h0M1434.19 136.35h0M1400.85 75.58h0M1448.55 94.01h0M1426.91 133.52h0M1407.48 152.47h0M1424.81 74.72h0M1381.27 86.5h0M1392.55 64.69h0M1450.04 102.3h0M1419.83 104.76h0M1426.51 86h0M1390.35 127.68h0M1419.91 142.32h0M1379.71 138.29h0" stroke="#735f94" stroke-width="1.25" stroke-linecap="round" fill="none" opacity="0.6"/>
<path d="M1423.44 110.19h0M1389.81 109.55h0M1379.92 64.2h0M1422.85 114.53h0M1369.15 125.39h0M1432.5 114.88h0M1371.34 109.3h0M1388.44 79.09h0M1412.72 146.92h0M1365.69 78.6h0M1400.15 57.64h0M1378.99 106.8h0M1397.34 144.56h0M1407.11 116.75h0M1407.9 131.86h0M1370.82 118.85h0M1398.6 52.23h0M1374.56 90.66h0M1399.34 101.85h0M1398.87 113.38h0M1395.94 116.41h0M1395.25 112.3h0M1412.44 104.59h0" stroke="#7d6a9c" stroke-width="1.8" stroke-linecap="round" fill="none" opacity="0.42"/>
<ellipse cx="1409.5" cy="84" rx="8.5" ry="9.5" fill="none" stroke="#8a7068" stroke-width="0.6" opacity="0.8"/>
<text class="tb" x="1436.6" y="153.2" font-size="8.7" text-anchor="middle" fill="#fff">1000µm</text>
<line x1="1422.1" y1="155.6" x2="1452" y2="155.6" stroke="#fff" stroke-width="1.1"/>
</g>
<clipPath id="pc5"><rect x="880.7" y="161.2" width="113" height="109.6"/></clipPath>
<g clip-path="url(#pc5)">
<rect x="880.7" y="161.2" width="113" height="109.6" fill="#000"/>
<rect x="920.8" y="154.6" width="33.6" height="5.65" fill="#373737"/>
<rect x="904" y="160.2" width="67.2" height="5.65" fill="#3e3e3e"/>
<rect x="898.4" y="165.8" width="78.4" height="5.65" fill="#444444"/>
<rect x="892.8" y="171.4" width="89.6" height="5.65" fill="#4a4a4a"/>
<rect x="887.2" y="177" width="100.8" height="5.65" fill="#505050"/>
<rect x="881.6" y="182.6" width="112" height="5.65" fill="#555555"/>
<rect x="881.6" y="188.2" width="112" height="5.65" fill="#5a5a5a"/>
<rect x="881.6" y="193.8" width="112" height="5.65" fill="#5e5e5e"/>
<rect x="876" y="199.4" width="123.2" height="5.65" fill="#626262"/>
<rect x="876" y="205" width="123.2" height="5.65" fill="#656565"/>
<rect x="876" y="210.6" width="123.2" height="5.65" fill="#676767"/>
<rect x="876" y="216.2" width="123.2" height="5.65" fill="#676767"/>
<rect x="876" y="221.8" width="123.2" height="5.65" fill="#656565"/>
<rect x="876" y="227.4" width="123.2" height="5.65" fill="#626262"/>
<rect x="881.6" y="233" width="112" height="5.65" fill="#5e5e5e"/>
<rect x="881.6" y="238.6" width="112" height="5.65" fill="#5a5a5a"/>
<rect x="881.6" y="244.2" width="112" height="5.65" fill="#555555"/>
<rect x="887.2" y="249.8" width="100.8" height="5.65" fill="#505050"/>
<rect x="892.8" y="255.4" width="89.6" height="5.65" fill="#4a4a4a"/>
<rect x="898.4" y="261" width="78.4" height="5.65" fill="#444444"/>
<rect x="904" y="266.6" width="67.2" height="5.65" fill="#3e3e3e"/>
<rect x="920.8" y="272.2" width="33.6" height="5.65" fill="#373737"/>
<circle cx="936.8" cy="217" r="56.9" fill="#0c0c0c"/>
<circle cx="936.7" cy="217.1" r="55.6" fill="none" stroke="#909090" stroke-width="1.0"/>
<circle cx="937.6" cy="216.2" r="54.0" fill="#0a0a0a"/>
<circle cx="937.6" cy="216.2" r="52.6" fill="#f0f0f2"/>
<circle cx="937.6" cy="216.2" r="51.9" fill="#b6b7be" filter="url(#fPlate)"/>
<g filter="url(#fSoft2)">
<path d="M936.87 165.39h0M978.54 211.83h0M937.71 222.46h0M916.68 261.12h0M950.73 228.49h0M943.75 165.9h0M906.97 252.99h0M971.6 204.09h0M913.08 223.78h0M910.38 204.11h0M952.23 167.72h0M914.91 230.53h0M940.12 252.33h0M907.94 219.75h0M911.21 180.12h0M908.8 255.7h0M895.46 187.49h0M940.64 167.82h0M892.2 196.23h0M944.81 166.22h0M940.63 199.85h0M926.93 208.35h0M941.55 238.36h0M908.62 223.2h0M910.13 244.97h0M959.03 215.11h0M958.72 239.18h0M954.89 215.74h0M932.19 201.63h0M888.7 225.48h0M897.25 214.57h0M961.22 260.26h0M937.61 219.28h0M919.14 240.98h0M907.57 202.8h0M925.88 263.79h0M945.32 263.56h0M947.28 249.75h0M945.99 171.91h0M924.7 230.81h0M980.34 202.79h0M977.86 187.85h0M936.27 265.34h0M949.7 263.8h0M895.41 241.39h0M967.56 177.08h0M922.99 248.31h0M977.6 213.95h0M901.9 215.84h0M962.76 258.15h0M934.39 176.12h0M980.71 239.05h0M948.79 253.08h0M947.27 170.25h0M903.33 189.64h0M938.84 224.64h0M934.54 179.5h0M941.43 196.68h0M893.54 204.81h0M912.73 241.12h0M900.66 216.83h0M977.33 211.17h0M889.66 229.7h0M905.51 193.66h0M937.77 166.16h0M909.33 254.78h0M900.37 247.54h0M941.62 175.11h0M932.09 198.56h0M957.16 177.4h0M985.33 232.5h0M899.21 246.03h0M934.81 266.86h0M898.59 187.17h0M948.89 228.89h0M913.29 192.1h0M897.88 246.13h0M943.96 227.29h0M898.75 185.42h0M939.36 176.74h0M953.24 173.23h0M937.33 265.31h0M922.97 263.6h0M910.89 222.89h0M924.16 209.51h0M945.98 197.94h0M918.6 226.32h0M934.25 229.46h0M912.66 217.23h0M909.33 243.29h0M922.84 191.02h0M893.78 229.65h0M968.2 177.41h0M931.61 234.89h0M923.8 245.51h0M946.32 175.65h0M945.04 259.56h0M980.36 213.02h0M915.25 212.55h0M936.35 165.32h0M906.71 228.83h0M935.11 259.85h0M947.49 231.78h0M890.16 211.26h0M948.01 169.62h0M978.96 220.79h0M958.72 259.61h0M952.45 247.6h0M889.81 227.37h0M983.99 228.23h0M897.25 223.96h0M920.42 180.35h0M891.22 232.2h0M978.96 243.6h0M971.4 179.7h0M936.78 173.41h0M978.71 215.44h0M954.18 237.64h0M914.66 208.06h0M909.85 181.23h0" stroke="#2e2e88" stroke-width="2" stroke-linecap="round" fill="none" opacity="0.88"/>
<path d="M953.75 171.91h0M917.74 173.87h0M975.37 244.53h0M923.3 168.76h0M954.44 218.43h0M957.58 178.27h0M973.53 223.17h0M959.06 215.43h0M942.94 167.38h0M953.32 181.27h0M915.42 247.34h0M948.33 240.87h0M971.76 220.55h0M972.32 191.11h0M923.45 172.97h0M956.57 215.16h0M956.65 219.74h0M912.94 187.89h0M921.35 260.91h0M897.16 201.82h0M888.89 215.71h0M923.68 193.33h0M926.25 208.56h0M940.35 253.79h0M952.69 232.04h0M981.01 238.61h0M934.81 264.57h0M951.41 171.39h0M962 181.19h0M983.32 238.35h0M970.75 247.51h0M954.86 183.33h0M919.76 252.87h0M984.15 235.2h0M985.35 200.69h0M973.87 219.56h0M931.46 212.13h0M914.84 218.8h0M968.13 209.26h0M984.18 196.05h0M891.12 231.5h0M913.11 208.18h0M930.98 207.85h0M939.72 193.79h0M905.96 178.65h0M922.4 238.82h0M915.27 171.25h0M917.17 209.35h0M941.02 193.81h0M928.57 237.47h0M933.16 222.03h0M953.18 208.95h0M976.23 249.08h0M905.24 232.75h0M979.3 189.01h0M905.2 179.86h0M945.61 190.78h0M955.55 208.91h0M953.61 210.16h0M905.48 252.85h0M951.8 174.13h0M974.82 203.23h0M938.92 190.89h0M899.64 235.31h0M971 251.59h0M949.43 228.42h0M929.92 179.99h0M914.58 177.56h0M945.23 254.64h0M945.45 193.39h0M907.86 231.29h0M919.78 173.28h0M939.95 248.71h0M905.45 196.32h0M910.23 229.89h0M980.5 240.55h0M898.02 213.44h0M926.48 222.03h0M938.15 169.53h0M945.74 200.57h0M925.18 226.74h0M903.13 222.84h0M987.81 223.13h0M939.86 166.44h0M936.46 252.78h0M963.04 173.26h0M928 172.78h0M908.89 236.81h0M957 228.21h0M983.64 195.29h0M927.1 256.47h0M964.54 226.42h0M921.06 249.1h0M972.32 247.08h0M926.89 246.41h0M941.65 254.39h0M987.36 220.4h0M965.45 173.62h0M909.5 178.8h0M955.75 207.04h0M943.02 262.04h0M941.65 212.32h0M957.02 176.5h0M922.62 175.08h0M890.18 204.27h0M905.24 241.67h0M935.55 252.82h0M920.79 217.65h0M932.37 195.98h0M926.55 207.99h0M935.86 237.27h0M954.17 215.52h0M986.58 204.39h0M951.63 264.94h0M939.36 169.39h0M938.73 182.92h0M978.95 210.53h0M947.57 176.63h0M952.71 174.17h0M918.13 241.21h0" stroke="#2e2e88" stroke-width="1.6" stroke-linecap="round" fill="none" opacity="0.82"/>
<path d="M979.45 227.16h0M905.46 237.02h0M892.89 207.71h0M934.27 254.26h0M962.56 243.27h0M949.73 203.44h0M940.72 233.27h0M972.18 181.56h0M903 241.97h0M973.34 251.46h0M888.19 225.26h0M936.87 263.75h0M944.24 218.95h0M919.3 187.6h0M949.26 198.26h0M945.08 249.65h0M966.17 175.37h0M910.87 236.24h0M960.24 224.8h0M917.23 241.95h0M903.97 179.56h0M920.12 213.85h0M963.07 172.56h0M913.03 225.32h0M907.57 188.77h0M923.66 255.05h0M913.98 221.72h0M982.78 195.92h0M888.09 210.29h0M916.07 258.08h0M917.61 237.8h0M911.88 247.05h0M934.09 257.27h0M961.61 233.62h0M937.48 217h0M913.18 251.42h0M957.77 235.47h0M945.08 233.21h0M891.94 233.07h0M934.28 173.02h0M968.05 253.82h0M981.7 203.09h0M983.66 220.75h0M984.36 234.43h0M959.14 197.6h0M945.87 235.68h0M899.55 198.33h0M944.05 178.86h0M935.05 166.57h0M889.34 231.94h0M899.66 241.68h0M918.74 220.5h0M949.57 204.67h0M929.58 197.36h0M976.68 235.53h0M966.82 244.47h0M892.9 213.99h0M948.63 205.66h0M941.47 225.23h0M915.34 193.19h0M899.37 201.92h0M917.54 171.9h0M937.85 166.66h0M934.83 234.77h0M899.09 198.85h0M974.17 251.52h0M972.71 231.62h0M986.11 202h0M906.84 175.85h0M955.22 188.75h0M908.16 254.15h0M957.13 228.62h0M974.69 183.95h0M946.85 215.41h0M940.98 193.48h0M975.46 238.62h0M938.45 224.72h0M933.52 217.16h0M976.55 217.8h0M956 177.32h0M918.55 201.29h0M924.44 236.64h0M902.81 229.4h0M924.86 254.77h0M919.2 179.85h0M928.97 200.9h0M960.92 256.49h0M964.82 183.07h0M904.61 213.77h0M953.24 207.11h0M956.6 198.63h0M963.54 174.38h0M916.53 192.07h0M942.55 170.37h0M929.77 265.32h0M946.98 173.05h0M962.86 248.13h0M904.87 189.76h0M889.33 200.05h0M900.86 204.07h0M896.58 245.72h0M968.1 199.49h0M977.67 244.91h0M964.56 185.42h0M908.12 252.05h0M902.33 239.26h0M888.26 226.75h0M959.95 234.99h0M890.88 230.51h0M923.43 218.15h0M981.11 231.49h0M965.07 215.17h0M889.73 201.54h0M926.78 187.7h0M962.85 255.6h0M962.58 244.93h0M953.25 200.46h0M892.33 194.76h0M954.28 242.32h0M963.45 178.79h0" stroke="#4a4aa0" stroke-width="1.05" stroke-linecap="round" fill="none" opacity="0.7"/>
</g>
<text class="tb" x="975.8" y="265.6" font-size="8.7" text-anchor="middle" fill="#fff">1000µm</text>
<line x1="961.3" y1="268" x2="991.2" y2="268" stroke="#fff" stroke-width="1.1"/>
</g>
<clipPath id="pc6"><rect x="995.9" y="161.2" width="113" height="109.6"/></clipPath>
<g clip-path="url(#pc6)">
<rect x="995.9" y="161.2" width="113" height="109.6" fill="#000"/>
<rect x="1036" y="154.6" width="33.6" height="5.65" fill="#373737"/>
<rect x="1019.2" y="160.2" width="67.2" height="5.65" fill="#3e3e3e"/>
<rect x="1013.6" y="165.8" width="78.4" height="5.65" fill="#444444"/>
<rect x="1008" y="171.4" width="89.6" height="5.65" fill="#4a4a4a"/>
<rect x="1002.4" y="177" width="100.8" height="5.65" fill="#505050"/>
<rect x="996.8" y="182.6" width="112" height="5.65" fill="#555555"/>
<rect x="996.8" y="188.2" width="112" height="5.65" fill="#5a5a5a"/>
<rect x="996.8" y="193.8" width="112" height="5.65" fill="#5e5e5e"/>
<rect x="991.2" y="199.4" width="123.2" height="5.65" fill="#626262"/>
<rect x="991.2" y="205" width="123.2" height="5.65" fill="#656565"/>
<rect x="991.2" y="210.6" width="123.2" height="5.65" fill="#676767"/>
<rect x="991.2" y="216.2" width="123.2" height="5.65" fill="#676767"/>
<rect x="991.2" y="221.8" width="123.2" height="5.65" fill="#656565"/>
<rect x="991.2" y="227.4" width="123.2" height="5.65" fill="#626262"/>
<rect x="996.8" y="233" width="112" height="5.65" fill="#5e5e5e"/>
<rect x="996.8" y="238.6" width="112" height="5.65" fill="#5a5a5a"/>
<rect x="996.8" y="244.2" width="112" height="5.65" fill="#555555"/>
<rect x="1002.4" y="249.8" width="100.8" height="5.65" fill="#505050"/>
<rect x="1008" y="255.4" width="89.6" height="5.65" fill="#4a4a4a"/>
<rect x="1013.6" y="261" width="78.4" height="5.65" fill="#444444"/>
<rect x="1019.2" y="266.6" width="67.2" height="5.65" fill="#3e3e3e"/>
<rect x="1036" y="272.2" width="33.6" height="5.65" fill="#373737"/>
<circle cx="1052" cy="217" r="56.9" fill="#0c0c0c"/>
<circle cx="1051.9" cy="217.1" r="55.6" fill="none" stroke="#909090" stroke-width="1.0"/>
<circle cx="1052.8" cy="216.2" r="54.0" fill="#0a0a0a"/>
<circle cx="1052.8" cy="216.2" r="52.6" fill="#f0f0f2"/>
<circle cx="1052.8" cy="216.2" r="51.9" fill="#b6b7be" filter="url(#fPlate)"/>
<g filter="url(#fSoft2)">
<path d="M1061.05 226.16h0M1011.01 237.18h0M1069.83 191.14h0M1080.2 230.57h0M1010.82 244.3h0M1017.63 180.99h0M1009.64 240.3h0M1009.58 217.19h0M1036.7 186.45h0M1024.14 207.91h0M1097.45 222.18h0M1045.32 232.3h0M1008.28 241.17h0M1084.35 176.8h0M1055.45 218.79h0M1090.78 247.81h0M1011.13 214.01h0M1009.33 221.44h0M1081.17 176.55h0M1038.28 264.98h0M1063.44 191.32h0M1055.53 203.79h0M1010.91 208.09h0M1042.49 216.81h0M1084.72 240.36h0M1074.44 185.5h0M1037.68 240.53h0M1089.07 180.53h0M1098.69 227.9h0M1097.86 210.87h0M1081.06 180.36h0M1003.74 209.03h0M1020 223.14h0M1027.56 248.88h0M1070.46 210.1h0M1049.48 177.85h0M1043.39 265.99h0M1038.71 254.57h0M1047.53 190.01h0M1033.56 249.77h0M1019.97 178.15h0M1057.13 265.5h0M1038.21 262.94h0M1055.47 222.7h0M1082.36 214.71h0M1095.91 228.83h0M1057.79 178.49h0M1040.56 178.91h0M1007.83 227.14h0M1023.93 230.19h0M1051.46 208.16h0M1023.09 256.16h0M1084.54 246.3h0M1052.74 251.31h0M1060.86 266.63h0M1048.04 262.78h0M1043.18 215.79h0M1053.77 166.41h0M1050.47 266.99h0M1028.94 245.95h0M1033.36 251.78h0M1030.31 172.8h0M1024 177.56h0M1076.83 223.87h0M1030.89 171.85h0M1078.77 213.37h0M1021.25 229.3h0M1054.67 244.2h0M1033.86 233.43h0M1006.8 214.79h0M1078.06 209.2h0M1070.13 263.13h0M1062.58 264.68h0M1036.23 175.68h0M1069.31 262.07h0M1077.92 226.01h0" stroke="#2e2e88" stroke-width="2" stroke-linecap="round" fill="none" opacity="0.88"/>
<path d="M1009.75 241.04h0M1014.44 222.24h0M1028.51 254.64h0M1078.16 248.59h0M1047.82 209.26h0M1081.27 255.49h0M1074.4 187.11h0M1033.33 171.06h0M1079.39 251.33h0M1094.89 209.49h0M1040.3 219.12h0M1031.78 171.24h0M1075.04 236.15h0M1003.57 221.77h0M1024.96 218.81h0M1100.24 227.17h0M1008.79 232.12h0M1056.73 251h0M1097.86 234.77h0M1078.89 205.05h0M1059.76 238.48h0M1063.65 240.32h0M1071.36 257.43h0M1055.47 214.56h0M1029.29 194.34h0M1068.37 180.89h0M1053.11 239.76h0M1004.49 204.51h0M1048.62 168.04h0M1036.17 231.49h0M1051.27 192.77h0M1072.02 218.03h0M1065.34 173.65h0M1051.15 242.68h0M1037.63 251.97h0M1047.29 211.57h0M1039.76 188.61h0M1065.79 170.67h0M1096.91 194.01h0M1060.78 203.19h0M1019.18 210.55h0M1070.62 255.6h0M1102.93 224.52h0M1015.38 209.23h0M1044.68 230.83h0M1064.09 255.4h0M1016.02 182.07h0M1072.97 243.02h0M1015.26 181.61h0M1082.91 198.01h0M1047.6 167.88h0M1039.11 198.72h0M1100.7 202.41h0M1033.46 239.18h0M1049.65 252.48h0M1044.84 247.08h0M1078.87 237.12h0M1033.12 260.35h0M1021.52 254.1h0M1070.47 214.99h0M1076.86 173.29h0M1059.14 247.26h0M1050.3 214.62h0M1076.87 199.32h0M1040.09 233.95h0M1040.66 201h0M1063.5 168.55h0M1075.16 242.06h0M1075.42 187.34h0M1054.28 202.3h0M1048.46 265.31h0M1080.52 204.05h0M1059.24 240.7h0M1070.98 202.88h0M1052.14 230.85h0M1055.34 231.13h0" stroke="#2e2e88" stroke-width="1.6" stroke-linecap="round" fill="none" opacity="0.82"/>
<path d="M1092.7 204.54h0M1041.61 239.37h0M1038.78 208.01h0M1036.66 207.2h0M1058.88 230.74h0M1079.85 254.43h0M1052.72 187.47h0M1088.78 230.73h0M1067.13 184.03h0M1021.82 255.01h0M1057.07 198.33h0M1077.33 201.97h0M1078.3 203.48h0M1080.18 174.7h0M1071.76 221.17h0M1043.33 257.82h0M1062.65 166.08h0M1043.82 223.75h0M1047.25 265.67h0M1019.27 194.64h0M1067.11 201.26h0M1075.67 178.78h0M1027.92 171.75h0M1072.28 181.5h0M1066.85 224.8h0M1068.74 215.86h0M1087.22 195.86h0M1071.12 263.62h0M1045.97 206.18h0M1037.96 245.79h0M1050.5 194.13h0M1080.73 176.91h0M1020.87 231.17h0M1024.31 188.66h0M1035.26 256.33h0M1082.59 205.36h0M1022.26 212.14h0M1011.03 205.4h0M1088.06 195.91h0M1007.02 235.68h0M1083.55 238.83h0M1028.55 190.74h0M1052.13 202.03h0M1006.48 199.72h0M1092.92 244.99h0M1082.6 207.15h0M1090.88 197.94h0M1061.68 211.13h0M1073.77 248.76h0M1053.3 220.65h0M1017.95 252.47h0M1077.37 240.72h0M1018.44 230.12h0M1056.91 211.64h0M1002.95 219.09h0M1042.67 182.14h0M1018.42 240.22h0M1034.78 172.44h0M1010.3 231.53h0M1051.06 256.17h0M1075.33 257.8h0M1088.48 209.7h0M1088.44 203.91h0M1096.68 196.69h0M1012.48 202.43h0M1098.64 208.1h0M1030.71 250.35h0M1102.22 222.13h0M1096.8 203.55h0M1076.11 232.05h0M1034.14 170.68h0M1020.36 208.69h0M1067.86 247.18h0M1065.62 249.06h0M1098.39 233.21h0M1077.06 259.34h0M1097.48 193.61h0M1053.17 261.18h0" stroke="#4a4aa0" stroke-width="1.05" stroke-linecap="round" fill="none" opacity="0.7"/>
</g>
<text class="tb" x="1091" y="265.6" font-size="8.7" text-anchor="middle" fill="#fff">1000µm</text>
<line x1="1076.5" y1="268" x2="1106.4" y2="268" stroke="#fff" stroke-width="1.1"/>
</g>
<clipPath id="pc7"><rect x="1111.1" y="161.2" width="113" height="109.6"/></clipPath>
<g clip-path="url(#pc7)">
<rect x="1111.1" y="161.2" width="113" height="109.6" fill="#000"/>
<rect x="1151.2" y="154.6" width="33.6" height="5.65" fill="#373737"/>
<rect x="1134.4" y="160.2" width="67.2" height="5.65" fill="#3e3e3e"/>
<rect x="1128.8" y="165.8" width="78.4" height="5.65" fill="#444444"/>
<rect x="1123.2" y="171.4" width="89.6" height="5.65" fill="#4a4a4a"/>
<rect x="1117.6" y="177" width="100.8" height="5.65" fill="#505050"/>
<rect x="1112" y="182.6" width="112" height="5.65" fill="#555555"/>
<rect x="1112" y="188.2" width="112" height="5.65" fill="#5a5a5a"/>
<rect x="1112" y="193.8" width="112" height="5.65" fill="#5e5e5e"/>
<rect x="1106.4" y="199.4" width="123.2" height="5.65" fill="#626262"/>
<rect x="1106.4" y="205" width="123.2" height="5.65" fill="#656565"/>
<rect x="1106.4" y="210.6" width="123.2" height="5.65" fill="#676767"/>
<rect x="1106.4" y="216.2" width="123.2" height="5.65" fill="#676767"/>
<rect x="1106.4" y="221.8" width="123.2" height="5.65" fill="#656565"/>
<rect x="1106.4" y="227.4" width="123.2" height="5.65" fill="#626262"/>
<rect x="1112" y="233" width="112" height="5.65" fill="#5e5e5e"/>
<rect x="1112" y="238.6" width="112" height="5.65" fill="#5a5a5a"/>
<rect x="1112" y="244.2" width="112" height="5.65" fill="#555555"/>
<rect x="1117.6" y="249.8" width="100.8" height="5.65" fill="#505050"/>
<rect x="1123.2" y="255.4" width="89.6" height="5.65" fill="#4a4a4a"/>
<rect x="1128.8" y="261" width="78.4" height="5.65" fill="#444444"/>
<rect x="1134.4" y="266.6" width="67.2" height="5.65" fill="#3e3e3e"/>
<rect x="1151.2" y="272.2" width="33.6" height="5.65" fill="#373737"/>
<circle cx="1167.2" cy="217" r="56.9" fill="#0c0c0c"/>
<circle cx="1167.1" cy="217.1" r="55.6" fill="none" stroke="#909090" stroke-width="1.0"/>
<circle cx="1168" cy="216.2" r="54.0" fill="#0a0a0a"/>
<circle cx="1168" cy="216.2" r="52.6" fill="#f0f0f2"/>
<circle cx="1168" cy="216.2" r="51.9" fill="#b6b7be" filter="url(#fPlate)"/>
<g filter="url(#fSoft2)">
<path d="M1208.07 239.02h0M1172.66 169.58h0M1183.4 177.05h0M1152.36 204.7h0M1202.82 241.5h0M1171.69 265.82h0M1179 173.16h0M1136.97 242.11h0M1165.26 249.36h0M1188.04 173.65h0M1188.84 202.49h0M1163.53 179.51h0M1127.02 239.36h0M1182.66 185.43h0M1173.03 228.03h0M1165.63 250.54h0M1141.81 199.25h0M1122.32 213.96h0M1195.32 174.37h0M1163.05 170.45h0M1191.37 172.9h0M1149.35 172.94h0M1170.15 242.02h0M1213.7 232.78h0M1173.63 226.03h0M1142.31 259.3h0M1196.85 236.1h0M1164.06 258.69h0M1152.56 228.03h0M1170.96 250.99h0M1126.98 187.08h0M1189.92 207.59h0M1195.05 236.72h0M1187.38 247.55h0M1209.19 197.15h0M1176.42 264.52h0M1196.81 202.97h0M1176.91 247.38h0M1208.77 187.25h0M1131.73 182.56h0M1121.76 223.33h0M1157.34 246.62h0M1186.74 173.82h0M1130.75 226.01h0M1185.64 254.17h0M1150.45 218.61h0M1177.51 206.69h0M1158.38 238.24h0M1189.85 254.65h0M1216.41 221.94h0M1200.1 206.47h0M1118.15 208.9h0M1206.94 241.75h0M1158.13 207.67h0M1146.02 201.39h0M1141.13 208.97h0M1168.47 170.81h0M1175.18 188.78h0M1174.09 202.34h0M1126.61 221.72h0M1158.75 229.07h0M1149.51 171.24h0M1206.67 226.3h0" stroke="#2e2e88" stroke-width="1.8" stroke-linecap="round" fill="none" opacity="0.88"/>
<path d="M1156.7 198.2h0M1174.95 258.44h0M1151.98 235.75h0M1164.59 245.59h0M1135.86 177.54h0M1147.29 184.2h0M1190.85 237.9h0M1159.19 171.79h0M1143.1 238.47h0M1162.29 168.24h0M1193.36 212.09h0M1199.37 219.66h0M1176.21 192.81h0M1164.47 194.69h0M1185.08 229.1h0M1218.11 207.64h0M1145.66 202.35h0M1180.7 191.42h0M1162.37 255.76h0M1165.93 172.15h0M1200.37 209.48h0M1182.19 169.24h0M1186.96 176.62h0M1204.38 191.91h0M1152.23 221.58h0M1152.07 259.6h0M1154.26 253.7h0M1186.4 183.18h0M1144.46 258.48h0M1214.27 223.02h0M1173.21 260.24h0M1201.14 222.99h0M1131.2 250.11h0M1183.16 196.16h0M1170.78 197.85h0M1195.84 234.48h0M1188.04 204.41h0M1209.47 233.71h0M1168.06 169.77h0M1201.81 225.87h0M1142.51 227.24h0M1178.94 256.82h0M1164.77 210.22h0M1208.75 247.03h0M1121.74 197.98h0M1175.49 187.82h0M1153.54 264.94h0M1145.04 241.22h0M1203.89 229.72h0M1160.39 249.17h0M1152.86 215.78h0M1136.03 233.85h0M1195.21 178.5h0M1186.73 219.69h0M1178.35 218.69h0M1206.08 183.96h0M1155.58 236.66h0M1158.68 261.94h0M1164.63 238.18h0M1208.45 199.05h0M1141.49 210.06h0M1190.92 240.46h0M1125.22 238.29h0" stroke="#2e2e88" stroke-width="1.4" stroke-linecap="round" fill="none" opacity="0.82"/>
<path d="M1201.46 216.97h0M1123.17 237h0M1181.54 217.41h0M1210.84 203.57h0M1217.62 209.72h0M1167.26 215.19h0M1197.25 190.65h0M1138.59 194.11h0M1140.81 239.19h0M1158.71 213.1h0M1192.56 221.01h0M1157.95 171.76h0M1193.67 197.42h0M1171.96 256.67h0M1128.14 209.22h0M1199.88 207.85h0M1206.59 195.44h0M1183.17 199.32h0M1159.97 250.04h0M1191.17 223.68h0M1156.76 180.21h0M1170.53 214.17h0M1152.02 209.45h0M1164.1 238.69h0M1193.43 217.59h0M1167.39 224.46h0M1173.99 175.64h0M1142.93 238.04h0M1177.76 244.32h0M1194.73 174.19h0M1148.3 221.77h0M1181.74 206.29h0M1191.21 202.69h0M1131.8 227.38h0M1141.07 233.21h0M1216.23 221.09h0M1185.24 187.03h0M1179.71 203.78h0M1194.59 234.57h0M1136.44 190.04h0M1131.66 189.35h0M1118.81 227.64h0M1189.47 191.55h0M1154.36 195.27h0M1154.73 220.4h0M1158.98 254.56h0M1172.66 202.84h0M1139.38 227.23h0M1131.15 244.37h0M1198.68 242.89h0M1163.24 186.05h0M1188.06 202.99h0M1154.51 192.31h0M1194.81 209.34h0M1132.96 222.29h0M1201.84 208.21h0M1126.49 191.92h0M1146.03 257.17h0M1202.1 196.92h0M1119 219.62h0M1138.54 191.57h0M1134.56 245.43h0M1159.84 178.41h0M1147.08 175.83h0" stroke="#4a4aa0" stroke-width="1.05" stroke-linecap="round" fill="none" opacity="0.7"/>
</g>
<text class="tb" x="1206.2" y="265.6" font-size="8.7" text-anchor="middle" fill="#fff">1000µm</text>
<line x1="1191.7" y1="268" x2="1221.6" y2="268" stroke="#fff" stroke-width="1.1"/>
</g>
<clipPath id="pc8"><rect x="1226.3" y="161.2" width="113" height="109.6"/></clipPath>
<g clip-path="url(#pc8)">
<rect x="1226.3" y="161.2" width="113" height="109.6" fill="#000"/>
<rect x="1266.4" y="154.6" width="33.6" height="5.65" fill="#373737"/>
<rect x="1249.6" y="160.2" width="67.2" height="5.65" fill="#3e3e3e"/>
<rect x="1244" y="165.8" width="78.4" height="5.65" fill="#444444"/>
<rect x="1238.4" y="171.4" width="89.6" height="5.65" fill="#4a4a4a"/>
<rect x="1232.8" y="177" width="100.8" height="5.65" fill="#505050"/>
<rect x="1227.2" y="182.6" width="112" height="5.65" fill="#555555"/>
<rect x="1227.2" y="188.2" width="112" height="5.65" fill="#5a5a5a"/>
<rect x="1227.2" y="193.8" width="112" height="5.65" fill="#5e5e5e"/>
<rect x="1221.6" y="199.4" width="123.2" height="5.65" fill="#626262"/>
<rect x="1221.6" y="205" width="123.2" height="5.65" fill="#656565"/>
<rect x="1221.6" y="210.6" width="123.2" height="5.65" fill="#676767"/>
<rect x="1221.6" y="216.2" width="123.2" height="5.65" fill="#676767"/>
<rect x="1221.6" y="221.8" width="123.2" height="5.65" fill="#656565"/>
<rect x="1221.6" y="227.4" width="123.2" height="5.65" fill="#626262"/>
<rect x="1227.2" y="233" width="112" height="5.65" fill="#5e5e5e"/>
<rect x="1227.2" y="238.6" width="112" height="5.65" fill="#5a5a5a"/>
<rect x="1227.2" y="244.2" width="112" height="5.65" fill="#555555"/>
<rect x="1232.8" y="249.8" width="100.8" height="5.65" fill="#505050"/>
<rect x="1238.4" y="255.4" width="89.6" height="5.65" fill="#4a4a4a"/>
<rect x="1244" y="261" width="78.4" height="5.65" fill="#444444"/>
<rect x="1249.6" y="266.6" width="67.2" height="5.65" fill="#3e3e3e"/>
<rect x="1266.4" y="272.2" width="33.6" height="5.65" fill="#373737"/>
<circle cx="1282.4" cy="217" r="56.9" fill="#0c0c0c"/>
<circle cx="1282.3" cy="217.1" r="55.6" fill="none" stroke="#909090" stroke-width="1.0"/>
<circle cx="1283.2" cy="216.2" r="54.0" fill="#0a0a0a"/>
<circle cx="1283.2" cy="216.2" r="52.6" fill="#f0f0f2"/>
<circle cx="1283.2" cy="216.2" r="51.9" fill="#b6b7be" filter="url(#fPlate)"/>
<g filter="url(#fSoft2)">
<path d="M1289.26 192.84h0M1306.08 258.79h0M1291.93 187.66h0M1291.42 196.29h0M1287.49 169.54h0M1239.66 242.24h0M1292.72 228.99h0M1294.26 243.95h0M1317.25 181.27h0M1316.68 221.31h0M1248.49 214.21h0M1313.28 256.45h0M1328.68 203.12h0M1238.71 238.46h0M1251.64 252.15h0M1245.98 218.34h0M1312.74 256.06h0M1293.64 259.47h0M1236.8 220.02h0M1272.59 205.53h0M1261.26 235.83h0M1261.14 258.3h0M1262.82 184.79h0M1302.94 202.41h0M1241.72 187.83h0M1303.74 171.79h0M1291.63 265.52h0M1263.68 262.85h0M1325.41 187.65h0M1268.01 262.72h0M1260.14 243.96h0M1253.94 205.11h0M1290.72 258.89h0M1277.89 182.21h0M1321.5 191.81h0M1314.16 223.38h0M1327.83 210.1h0M1261.33 176.04h0M1259.01 184.72h0M1264.25 187.13h0M1234.84 199.93h0M1234.72 213.07h0M1287.28 187.19h0M1331.4 202.69h0M1274.39 245.48h0M1255.24 211.2h0M1245.93 247.87h0M1233.94 210.4h0M1265.54 227.17h0M1331.47 222.84h0M1298.55 239.74h0M1301.1 204.42h0M1268.04 188.87h0M1235.34 199.53h0M1262.51 203.11h0M1331.72 218.89h0" stroke="#2e2e88" stroke-width="1.8" stroke-linecap="round" fill="none" opacity="0.88"/>
<path d="M1273.03 221.07h0M1285.51 217.46h0M1251.03 186.87h0M1272.24 266.01h0M1290.66 176.82h0M1278.27 228.84h0M1313.29 234.56h0M1288.19 192.16h0M1269.97 188h0M1333.81 211.75h0M1276.34 234.62h0M1294.22 266.09h0M1295.49 256.49h0M1277.66 264.76h0M1272.93 172.46h0M1293.31 264.72h0M1234.15 215.37h0M1271.52 264.88h0M1307.29 234.45h0M1266.65 229.11h0M1327.06 219.18h0M1300.16 214.4h0M1299.92 226.38h0M1263.3 215.63h0M1315.34 221.73h0M1250.35 207.61h0M1276.29 191.27h0M1290.73 175.53h0M1304.67 185.06h0M1236.01 213.3h0M1274.18 225.29h0M1326.6 237.26h0M1258.64 178.58h0M1310.24 205.24h0M1274.85 264.82h0M1273.01 255.78h0M1304.21 173.95h0M1272.45 214.28h0M1327.09 192.73h0M1235.32 223.47h0M1305.55 252.87h0M1300.08 170.94h0M1291.56 207.62h0M1262.64 213.14h0M1246.83 229.39h0M1271.23 216.97h0M1268 262.54h0M1299.6 257.89h0M1268.85 235.67h0M1258.26 184.89h0M1323.96 189.73h0M1283.6 241.35h0M1277.2 218.28h0M1256.83 200.24h0M1299.47 189.79h0M1321.48 245.02h0" stroke="#2e2e88" stroke-width="1.4" stroke-linecap="round" fill="none" opacity="0.82"/>
<path d="M1311.71 185.04h0M1317.33 247.51h0M1281.41 225.31h0M1285.18 265.41h0M1277.8 223.46h0M1267.44 173.81h0M1311.06 209.55h0M1316.67 235.78h0M1278.32 244.58h0M1242.17 225.04h0M1277.45 166.28h0M1259.99 247.85h0M1262.61 240.84h0M1314.07 226.87h0M1295.08 265.82h0M1279.51 225.45h0M1261.27 196.4h0M1283.69 205.46h0M1298.44 261.5h0M1271.32 193.56h0M1292.69 167.08h0M1237.5 215.71h0M1260.44 241.07h0M1299.57 226.01h0M1301.03 224.84h0M1284.76 201.33h0M1295.93 199.99h0M1247.68 184.38h0M1279.45 247.05h0M1280.21 189.34h0M1293.13 205.31h0M1253.69 186.61h0M1264.01 175.78h0M1278.38 266.08h0M1273.31 264.44h0M1278.99 205.78h0M1247.69 213.38h0M1242.92 213.79h0M1293.6 200.31h0M1312.1 206.44h0M1314.56 179.27h0M1325.53 202.47h0M1300.84 198.74h0M1305.86 214.62h0M1289.62 176.98h0M1262.2 182.19h0M1303.87 218.85h0M1300.55 208.19h0M1303.16 204.19h0M1267.14 189.94h0M1320.33 193.62h0M1279.08 178.54h0M1286.45 266.35h0M1324.42 191.86h0M1301.94 168.95h0M1250.04 237.17h0M1324.91 241.78h0M1278.14 264.45h0" stroke="#4a4aa0" stroke-width="1.05" stroke-linecap="round" fill="none" opacity="0.7"/>
</g>
<text class="tb" x="1321.4" y="265.6" font-size="8.7" text-anchor="middle" fill="#fff">1000µm</text>
<line x1="1306.9" y1="268" x2="1336.8" y2="268" stroke="#fff" stroke-width="1.1"/>
</g>
<clipPath id="pc9"><rect x="1341.5" y="161.2" width="113" height="109.6"/></clipPath>
<g clip-path="url(#pc9)">
<rect x="1341.5" y="161.2" width="113" height="109.6" fill="#000"/>
<rect x="1381.6" y="154.6" width="33.6" height="5.65" fill="#373737"/>
<rect x="1364.8" y="160.2" width="67.2" height="5.65" fill="#3e3e3e"/>
<rect x="1359.2" y="165.8" width="78.4" height="5.65" fill="#444444"/>
<rect x="1353.6" y="171.4" width="89.6" height="5.65" fill="#4a4a4a"/>
<rect x="1348" y="177" width="100.8" height="5.65" fill="#505050"/>
<rect x="1342.4" y="182.6" width="112" height="5.65" fill="#555555"/>
<rect x="1342.4" y="188.2" width="112" height="5.65" fill="#5a5a5a"/>
<rect x="1342.4" y="193.8" width="112" height="5.65" fill="#5e5e5e"/>
<rect x="1336.8" y="199.4" width="123.2" height="5.65" fill="#626262"/>
<rect x="1336.8" y="205" width="123.2" height="5.65" fill="#656565"/>
<rect x="1336.8" y="210.6" width="123.2" height="5.65" fill="#676767"/>
<rect x="1336.8" y="216.2" width="123.2" height="5.65" fill="#676767"/>
<rect x="1336.8" y="221.8" width="123.2" height="5.65" fill="#656565"/>
<rect x="1336.8" y="227.4" width="123.2" height="5.65" fill="#626262"/>
<rect x="1342.4" y="233" width="112" height="5.65" fill="#5e5e5e"/>
<rect x="1342.4" y="238.6" width="112" height="5.65" fill="#5a5a5a"/>
<rect x="1342.4" y="244.2" width="112" height="5.65" fill="#555555"/>
<rect x="1348" y="249.8" width="100.8" height="5.65" fill="#505050"/>
<rect x="1353.6" y="255.4" width="89.6" height="5.65" fill="#4a4a4a"/>
<rect x="1359.2" y="261" width="78.4" height="5.65" fill="#444444"/>
<rect x="1364.8" y="266.6" width="67.2" height="5.65" fill="#3e3e3e"/>
<rect x="1381.6" y="272.2" width="33.6" height="5.65" fill="#373737"/>
<circle cx="1397.6" cy="217" r="56.9" fill="#0c0c0c"/>
<circle cx="1397.5" cy="217.1" r="55.6" fill="none" stroke="#909090" stroke-width="1.0"/>
<circle cx="1398.4" cy="216.2" r="54.0" fill="#0a0a0a"/>
<circle cx="1398.4" cy="216.2" r="52.6" fill="#f0f0f2"/>
<circle cx="1398.4" cy="216.2" r="51.9" fill="#b6b7be" filter="url(#fPlate)"/>
<g filter="url(#fSoft2)">
<path d="M1370.37 237.25h0M1394.71 197.09h0M1378.24 192.98h0M1436.6 203.83h0M1430.21 234.42h0M1380.98 249.96h0M1350.49 203.68h0M1402.93 261.96h0M1356.28 216.16h0M1354.64 230.15h0M1370.14 190.16h0M1401.32 166.99h0M1443.75 193.31h0M1393.4 255.7h0M1386.65 233.17h0M1444.46 236.09h0M1442.7 240.21h0M1414.39 194.32h0M1381.28 224.36h0M1362.06 180.27h0M1368.69 221.76h0M1392.73 192.13h0M1426.94 251.41h0" stroke="#7070a8" stroke-width="1.8" stroke-linecap="round" fill="none" opacity="0.4"/>
<path d="M1393.83 221.26h0M1376.75 217.03h0M1408.38 192.24h0M1398.01 196.79h0M1355.72 205.73h0M1445.65 209.42h0M1409.01 174.19h0M1423.89 245.79h0M1416.84 178.18h0M1399.34 169.25h0M1357.74 222.77h0M1422.18 227.08h0M1369.67 226.06h0M1441.4 188.93h0M1441.05 238.79h0M1385.46 240.11h0M1421.07 188.27h0M1431.01 194.93h0M1406.57 190.34h0M1389.69 179.61h0M1420.63 190.01h0M1417.08 203.04h0M1401.1 262.24h0" stroke="#7070a8" stroke-width="1.4" stroke-linecap="round" fill="none" opacity="0.4"/>
<path d="M1397.83 266.09h0M1361.42 186.25h0M1398.38 266.64h0M1384.83 256.9h0M1399.71 217.76h0M1397.2 242.72h0M1447.48 219.72h0M1360.95 240.39h0M1437.53 199.43h0M1430.37 191.23h0M1433.81 231.37h0M1371.59 204.55h0M1433.23 246.59h0M1416.2 181.57h0M1362.54 182.55h0M1410.56 171.98h0M1391.27 182.79h0M1348.78 208.42h0M1358.33 201.4h0M1355.91 216.35h0M1407.59 178.3h0M1348.67 206.57h0M1416.22 247.5h0M1406.84 199.16h0" stroke="#8888b4" stroke-width="1.05" stroke-linecap="round" fill="none" opacity="0.4"/>
</g>
<text class="tb" x="1436.6" y="265.6" font-size="8.7" text-anchor="middle" fill="#fff">1000µm</text>
<line x1="1422.1" y1="268" x2="1452" y2="268" stroke="#fff" stroke-width="1.1"/>
</g>
<text class="tb" x="873.9" y="106.9" font-size="14.6" text-anchor="middle" transform="rotate(-90 873.9 106.9)">HGC27</text>
<text class="tb" x="873.9" y="219" font-size="14.6" text-anchor="middle" transform="rotate(-90 873.9 219)">AGS</text>
<text class="tb" x="936" y="283.9" font-size="14.5" text-anchor="middle">DMSO</text>
<text class="tb" x="1055.9" y="283.9" font-size="14.5" text-anchor="middle">1µM</text>
<text class="tb" x="1170.3" y="283.9" font-size="14.5" text-anchor="middle">2µM</text>
<text class="tb" x="1285.9" y="283.9" font-size="14.5" text-anchor="middle">4µM</text>
<text class="tb" x="1400.3" y="283.9" font-size="14.5" text-anchor="middle">8µM</text>
<clipPath id="mc1"><rect x="71.2" y="452.5" width="86.4" height="65.1"/></clipPath>
<g clip-path="url(#mc1)">
<g filter="url(#fMicro)">
<rect x="69.2" y="450.5" width="90.4" height="69.1" fill="#8f92a0"/>
<rect x="71.2" y="452.5" width="86.4" height="65.1" fill="url(#gD11)"/>
<g fill="#4b4fae" opacity="0.94" filter="url(#fSoft)">
<path d="M113.29 456.17L114.22 452.73L118.39 453.21L121.79 454.62L123.94 457.59L122.34 460.05L120.6 462.29L116.92 462.1L113.46 459.7ZM131.55 467.91L127.91 464.79L126.36 460.65L123.06 455.57L124.65 453.58L128.34 455.98L131.65 459.74L132.5 463.32L132.04 465.05ZM105.73 466.74L103.55 468.04L100.97 469.35L98.91 467.77L97.56 465.04L100.04 462.41L102.95 460.79L105.66 461.8L107.41 464ZM127.51 487.13L124.23 485.26L120.75 480.09L119.24 474.7L119.19 471.42L120.51 470.39L123 473.41L126.33 477.17L126.89 481.88ZM96.62 476.02L95.82 479.85L95.63 482.54L94.04 485.77L91.09 483.16L88.08 480.36L89.3 476.71L91.33 475.51L93.55 473.86ZM135.32 479.27L134.31 481.57L131.99 481.15L131.28 478.96L130.85 477.29L131.84 475.97L133.22 475.53L135.35 475.06L135.4 477.43ZM117.26 486.78L114.99 485.53L112.67 484.86L113.24 482.22L113.69 479.89L115.77 479.45L117.67 480.05L120.13 481.68L119.38 484.86ZM152.16 482.52L147.54 485.14L143.98 485.14L144.97 483L144.15 481.17L149.53 479.29L153.1 478.21L157.07 477.67L154.93 480.24ZM105.67 487.09L104.03 487.3L102.4 487.28L102.08 485.34L102.47 483.38L103.7 481.17L105.47 481.89L106.69 483.06L107.15 485.24ZM80.49 484.8L80.06 487.14L79.26 488.67L77.88 490.37L75.59 489.97L75.48 487.4L74.54 485.04L76.36 483.31L78.57 483.67ZM86.74 494.06L83.46 493.61L80.84 493.52L79.05 491.87L76.93 490.13L78.66 489.34L81.41 489.84L83.67 490.87L86.34 492.32ZM106.6 498.71L108.99 496.77L111.64 497.11L114.77 497.38L114.18 500.48L113.06 502.23L111.49 503.72L109.03 503.62L108.28 501.33ZM116.65 499.36L117.56 497.81L119.55 496.72L121.59 498.17L121.65 500.76L120.78 502.9L118.82 503.67L117.33 502.39L116.66 500.96ZM126.71 499.94L128.25 501.23L129.85 501.6L129.88 503.26L129.25 504.87L127.54 504.84L125.59 505.01L125.9 503L125.6 501.49ZM96.48 498.93L98.17 500.58L98.19 504.84L95.69 508.6L93.43 511.88L90.95 512.22L90.23 508.65L92.04 504.13L93.94 499.89ZM95.77 508.54L97.52 507.03L99.7 507.7L100.05 510.33L100.86 512.86L99.52 515.64L96.83 515.7L94.92 513.63L94.92 510.78ZM102.48 512.07L104.08 509.77L105.07 507.05L106.39 508.49L107.93 508.93L107.69 511.59L106.39 513.44L104.84 515.34L103.48 514.09ZM120.61 515.92L118.86 515.8L117.29 514.63L118.53 513.26L119.92 512.5L122.14 511.59L123.7 513.08L123.62 514.75L123.05 516.55ZM134.1 517.04L132.17 516.8L132.25 513.98L134.3 510.63L136.78 509.62L138.8 509.2L138.85 511.41L137.73 513.76L136.18 516.29ZM88.22 511.69L89.5 512.74L90.16 513.79L90.54 515.18L89.7 516.22L88.64 516.48L87.53 516.09L86.8 514.73L87.29 513.19Z"/>
<path d="M117.11 459.94L124.62 461.74L120.11 455.47Z"/><path d="M129.32 459.47L120.85 459.7L128.7 462.88Z"/><path d="M102.03 463.01L96.75 466.96L103.3 467.65Z"/><path d="M124.19 478.11L129.5 467.42L121.35 476.13Z"/><path d="M95.33 479.63L94.23 472.18L90.59 478.77Z"/><path d="M133.8 476.2L129.07 476.21L132.54 479.43Z"/><path d="M113.84 481.96L113.66 488.82L117.83 483.37Z"/><path d="M148.42 480.86L147.41 489.27L151.19 481.69Z"/><path d="M103.01 485.34L105.91 488.26L105.65 484.15Z"/><path d="M76.89 485.3L74.39 488.61L78.53 488.35Z"/><path d="M81.38 492.73L86.95 494.02L82.35 490.63Z"/><path d="M108.83 501.49L113.36 505.18L113.14 499.34Z"/><path d="M118.42 502.13L123.84 501L118.8 498.69Z"/><path d="M129.06 502.65L127.3 498.85L126.18 502.89Z"/><path d="M95.66 506.68L100.41 498.52L93.03 504.41Z"/><path d="M99.73 510.91L97.27 505.3L95.89 511.27Z"/><path d="M106.39 510L100.47 506.73L104.49 512.18Z"/><path d="M119.41 513.61L118.45 518.54L121.97 514.95Z"/><path d="M137.18 513.92L139.96 506.57L134.71 512.42Z"/><path d="M87.74 514.09L87.26 518.09L89.86 515.02Z"/>
</g>
<path d="M156.05 481.96h0M77.65 454.55h0M146.61 455.2h0M132.43 489.64h0M97.9 504.03h0M72.85 461.35h0M110.5 454.11h0M142.88 467.96h0" stroke="#26261f" stroke-width="2" stroke-linecap="round" fill="none" opacity="0.55"/>
<path d="M156.05 481.96h0M77.65 454.55h0M146.61 455.2h0M132.43 489.64h0M97.9 504.03h0M72.85 461.35h0M110.5 454.11h0M142.88 467.96h0" stroke="#e8e8dc" stroke-width="0.8" stroke-linecap="round" fill="none" opacity="0.8"/>
</g>
<text class="tb" x="148.7" y="511.6" font-size="6.5" text-anchor="middle" fill="#fff">25µm</text>
<line x1="142.7" y1="515" x2="155.6" y2="515" stroke="#fff" stroke-width="1.25"/>
</g>
<clipPath id="mc2"><rect x="161.3" y="452.5" width="86.4" height="65.1"/></clipPath>
<g clip-path="url(#mc2)">
<g filter="url(#fMicro)">
<rect x="159.3" y="450.5" width="90.4" height="69.1" fill="#8c8e9e"/>
<rect x="161.3" y="452.5" width="86.4" height="65.1" fill="url(#gD12)"/>
<g fill="#4b4fae" opacity="0.94" filter="url(#fSoft)">
<path d="M196.88 459.71L194.85 462.59L190.85 464.41L187.63 465.08L187.36 463.18L189.75 459.92L194.47 456.4L198.3 455.56L198.3 457.54ZM199.24 463.38L198.85 464.71L197.15 464.75L195.83 464.59L194.92 463.72L194.57 462.41L195.91 461.56L197.55 461.32L199.12 461.98ZM210.1 466.72L212.67 470.36L213.67 475.64L212.28 475.81L211.21 476.28L208.98 472.74L206.71 466.9L207.22 464.25L207.97 462.7ZM227.09 460.54L227.29 461.86L226.15 462.5L225.02 463.25L223.68 462.61L223.35 461.18L223.76 459.82L225.1 459.65L226.52 459.17ZM228.97 460.68L230.33 459.51L231.72 458.08L232.92 459.43L232.64 461.83L231.85 463.32L230.94 464.78L229.67 464.63L228.74 463.13ZM234.55 461.78L236.28 461.21L236.91 463.44L237.31 465.17L236.86 467.13L234.96 466.14L233.7 465.18L232.53 463.55L232.68 461.49ZM172.13 478.68L172.92 479.88L170.38 480.21L168.76 480.47L166.79 480.21L166.51 479.19L166.53 478.06L168.65 477.54L170.81 477.84ZM233.13 487.06L230.88 487.39L230.02 486.34L231.87 485.02L233.19 483.62L235.7 483.14L236.56 484.17L236.57 485.31L234.84 486.31ZM167.04 491.56L167.96 488.78L170.27 490.01L171.51 491.85L172.3 494.29L170.52 496.06L168.39 496.43L166.24 495.62L166.51 493.16ZM177.58 497.56L176.6 499.71L175.76 501.36L174.32 500.95L172.95 500.35L172 498.33L172.7 495.92L174.54 495.56L175.94 496.33ZM174.3 501.95L175.34 503.38L173.69 504.1L172.59 504.67L171.36 504.2L170.12 503.09L170.94 501.64L172.06 500.74L173.66 500.47ZM173.17 514.21L172.33 515.36L171.06 514.84L169.41 513.13L168.34 509.64L168.35 507.09L169.3 506.25L170.94 507.52L172.1 510.88ZM182.55 507.2L183.77 506.19L185.05 507.1L186.01 508.51L185.14 509.98L184.52 511.51L183.03 511.61L181.78 510.47L182.15 508.66ZM182.58 515.15L179.69 514.85L179.22 513.61L178.97 512.75L179.67 511.67L182.13 511.85L183.64 512.39L185.8 513.12L184.25 514.09ZM197.83 517.4L198.84 515.9L199.45 514.81L202.23 513.33L207.23 512.6L210.65 513.3L207.56 515.09L206.09 516.46L201.73 517.62ZM187.68 457.92L186.88 458.01L186.29 457.21L185.66 455.98L186.2 454.57L187.19 453.9L188 454.87L188.48 455.93L188.37 457.22ZM164.03 483.53L164.09 484.32L164.15 485.64L162.89 485.57L161.74 485.36L161.6 484.21L161.71 483.21L162.54 482.55L163.57 482.69ZM161.83 487.46L162.67 488.2L163.36 488.75L163.68 490.05L163 490.99L162.25 491.12L161.62 490.7L161.05 489.85L161.54 488.89Z"/>
<path d="M193.26 459.05L184.81 461.85L193.71 461.91Z"/><path d="M196.24 462.35L193.98 465.6L197.67 464.16Z"/><path d="M210.92 471.02L219.3 461.49L209.33 469.35Z"/><path d="M225.52 462.32L228.59 460.78L225.24 460.03Z"/><path d="M230.83 460.71L227.31 462.15L231.01 463.02Z"/><path d="M236.3 464.72L237.68 459.84L233.86 463.17Z"/><path d="M170.02 479.73L171.78 475.36L168.42 478.66Z"/><path d="M233.91 484.5L229.3 484.43L233.48 486.38Z"/><path d="M169.27 491.19L164.17 491.91L168.34 494.93Z"/><path d="M173.42 499.13L176.47 503.02L176.11 498.09Z"/><path d="M171.8 503.91L175.61 505.04L173.57 501.63Z"/><path d="M169.5 511.42L172.96 519.06L171.71 510.76Z"/><path d="M182.72 508.55L182.2 512.65L184.84 509.47Z"/><path d="M182.63 513.41L182.74 509.11L180.77 512.93Z"/><path d="M203.21 514.09L193.49 515.08L203.17 516.4Z"/><path d="M188.06 456.84L189.43 452.89L186.43 455.8Z"/><path d="M163.55 483.28L161.53 482.99L162.41 484.83Z"/><path d="M162.77 490.2L164.67 487.71L161.81 488.99Z"/>
</g>
<path d="M222.18 508.53h0M215.68 478.83h0M213.11 485.33h0M246.2 504.89h0M183.61 511.83h0" stroke="#26261f" stroke-width="2" stroke-linecap="round" fill="none" opacity="0.55"/>
<path d="M222.18 508.53h0M215.68 478.83h0M213.11 485.33h0M246.2 504.89h0M183.61 511.83h0" stroke="#e8e8dc" stroke-width="0.8" stroke-linecap="round" fill="none" opacity="0.8"/>
</g>
<text class="tb" x="238.8" y="511.6" font-size="6.5" text-anchor="middle" fill="#fff">25µm</text>
<line x1="232.8" y1="515" x2="245.7" y2="515" stroke="#fff" stroke-width="1.25"/>
</g>
<clipPath id="mc3"><rect x="251.4" y="452.5" width="86.4" height="65.1"/></clipPath>
<g clip-path="url(#mc3)">
<g filter="url(#fMicro)">
<rect x="249.4" y="450.5" width="90.4" height="69.1" fill="#97a3d2"/>
<line x1="319.16" y1="500.88" x2="312.28" y2="505.41" stroke="#434db0" stroke-width="3.39" stroke-linecap="round" opacity="0.8"/>
<line x1="331.56" y1="494.02" x2="323.28" y2="501.44" stroke="#434db0" stroke-width="2.41" stroke-linecap="round" opacity="0.8"/>
<line x1="311.75" y1="453.25" x2="315.92" y2="460.94" stroke="#434db0" stroke-width="1.62" stroke-linecap="round" opacity="0.8"/>
<line x1="283.43" y1="490.91" x2="280.82" y2="497.25" stroke="#434db0" stroke-width="3.49" stroke-linecap="round" opacity="0.8"/>
<line x1="311.25" y1="470.3" x2="306.65" y2="478.68" stroke="#434db0" stroke-width="2.67" stroke-linecap="round" opacity="0.8"/>
<line x1="287.35" y1="512.81" x2="282.77" y2="522.38" stroke="#434db0" stroke-width="3.12" stroke-linecap="round" opacity="0.8"/>
<line x1="338.01" y1="448.89" x2="334.14" y2="459.09" stroke="#434db0" stroke-width="2.11" stroke-linecap="round" opacity="0.8"/>
<line x1="282.82" y1="453.48" x2="289.37" y2="458.09" stroke="#434db0" stroke-width="1.8" stroke-linecap="round" opacity="0.8"/>
<line x1="273.79" y1="506.98" x2="272.37" y2="515.93" stroke="#434db0" stroke-width="3.53" stroke-linecap="round" opacity="0.8"/>
<line x1="302.88" y1="512.07" x2="298.06" y2="522.49" stroke="#434db0" stroke-width="1.75" stroke-linecap="round" opacity="0.8"/>
<line x1="296.87" y1="501.05" x2="309.19" y2="502.81" stroke="#434db0" stroke-width="1.92" stroke-linecap="round" opacity="0.8"/>
<line x1="292.09" y1="458.57" x2="292.23" y2="468.45" stroke="#434db0" stroke-width="1.72" stroke-linecap="round" opacity="0.8"/>
<line x1="333.48" y1="475.01" x2="332.66" y2="484.76" stroke="#434db0" stroke-width="2.33" stroke-linecap="round" opacity="0.8"/>
<line x1="276.78" y1="491.58" x2="275.4" y2="498.72" stroke="#434db0" stroke-width="3.03" stroke-linecap="round" opacity="0.8"/>
<line x1="275.06" y1="451.55" x2="278.9" y2="455.27" stroke="#434db0" stroke-width="1.91" stroke-linecap="round" opacity="0.8"/>
<line x1="321.81" y1="476.15" x2="311.39" y2="479.62" stroke="#434db0" stroke-width="1.7" stroke-linecap="round" opacity="0.8"/>
<line x1="330.87" y1="512.58" x2="342.79" y2="515.39" stroke="#434db0" stroke-width="2.46" stroke-linecap="round" opacity="0.8"/>
<line x1="289.35" y1="512.67" x2="295.98" y2="519.04" stroke="#434db0" stroke-width="3.47" stroke-linecap="round" opacity="0.8"/>
<line x1="319.6" y1="482.61" x2="308.09" y2="483.37" stroke="#434db0" stroke-width="2.81" stroke-linecap="round" opacity="0.8"/>
<line x1="260.88" y1="489.86" x2="261.8" y2="496.42" stroke="#434db0" stroke-width="1.7" stroke-linecap="round" opacity="0.8"/>
<line x1="296.1" y1="455.51" x2="297.95" y2="465.68" stroke="#434db0" stroke-width="2.51" stroke-linecap="round" opacity="0.8"/>
<line x1="272.64" y1="484.97" x2="275.45" y2="495.84" stroke="#434db0" stroke-width="2.66" stroke-linecap="round" opacity="0.8"/>
<line x1="339.91" y1="511.96" x2="335.28" y2="517.08" stroke="#434db0" stroke-width="1.83" stroke-linecap="round" opacity="0.8"/>
<line x1="330.04" y1="499.92" x2="327.02" y2="507.2" stroke="#434db0" stroke-width="2.14" stroke-linecap="round" opacity="0.8"/>
<line x1="312.02" y1="484.45" x2="309.16" y2="494.1" stroke="#434db0" stroke-width="3.11" stroke-linecap="round" opacity="0.8"/>
<line x1="273.95" y1="468.31" x2="261.65" y2="469.1" stroke="#434db0" stroke-width="3.36" stroke-linecap="round" opacity="0.8"/>
<line x1="252.04" y1="453.3" x2="257.58" y2="459.62" stroke="#434db0" stroke-width="2.85" stroke-linecap="round" opacity="0.8"/>
<line x1="257.48" y1="487.12" x2="263.03" y2="488.4" stroke="#434db0" stroke-width="2.95" stroke-linecap="round" opacity="0.8"/>
<line x1="297.26" y1="489.52" x2="300.69" y2="497.65" stroke="#434db0" stroke-width="2.02" stroke-linecap="round" opacity="0.8"/>
<line x1="283.54" y1="499.63" x2="278.65" y2="502.35" stroke="#434db0" stroke-width="1.84" stroke-linecap="round" opacity="0.8"/>
<line x1="323.82" y1="490.88" x2="318.81" y2="495.33" stroke="#434db0" stroke-width="2.45" stroke-linecap="round" opacity="0.8"/>
<line x1="271.65" y1="500.54" x2="275.74" y2="509.91" stroke="#434db0" stroke-width="3.58" stroke-linecap="round" opacity="0.8"/>
<line x1="283.83" y1="483.79" x2="275.2" y2="492.64" stroke="#434db0" stroke-width="2.46" stroke-linecap="round" opacity="0.8"/>
<line x1="285.9" y1="457.74" x2="280.7" y2="459.89" stroke="#434db0" stroke-width="1.77" stroke-linecap="round" opacity="0.8"/>
<line x1="302.18" y1="480.98" x2="298.12" y2="487.15" stroke="#434db0" stroke-width="3.15" stroke-linecap="round" opacity="0.8"/>
<line x1="259.35" y1="463.92" x2="256.6" y2="468.85" stroke="#434db0" stroke-width="2.21" stroke-linecap="round" opacity="0.8"/>
<line x1="312.1" y1="495.29" x2="315.98" y2="500.06" stroke="#434db0" stroke-width="2.32" stroke-linecap="round" opacity="0.8"/>
<line x1="309.15" y1="474.43" x2="319.1" y2="478.28" stroke="#434db0" stroke-width="2.74" stroke-linecap="round" opacity="0.8"/>
<line x1="334.86" y1="512.55" x2="326.67" y2="514.83" stroke="#434db0" stroke-width="3.21" stroke-linecap="round" opacity="0.8"/>
<line x1="275.8" y1="467.25" x2="279.67" y2="479.11" stroke="#434db0" stroke-width="3.39" stroke-linecap="round" opacity="0.8"/>
<line x1="271.23" y1="472.44" x2="274.47" y2="479.65" stroke="#434db0" stroke-width="2.39" stroke-linecap="round" opacity="0.8"/>
<line x1="286.02" y1="459.62" x2="283.75" y2="470.77" stroke="#434db0" stroke-width="2.68" stroke-linecap="round" opacity="0.8"/>
<line x1="318.96" y1="486.22" x2="328.37" y2="492.05" stroke="#434db0" stroke-width="3.36" stroke-linecap="round" opacity="0.8"/>
<line x1="275.95" y1="449.28" x2="275.49" y2="458.62" stroke="#434db0" stroke-width="2.73" stroke-linecap="round" opacity="0.8"/>
<line x1="337.15" y1="493.3" x2="332.65" y2="496.48" stroke="#434db0" stroke-width="2.69" stroke-linecap="round" opacity="0.8"/>
<line x1="314.22" y1="456.59" x2="324.76" y2="459.35" stroke="#434db0" stroke-width="3.4" stroke-linecap="round" opacity="0.8"/>
<line x1="253.79" y1="491.39" x2="263.65" y2="496.18" stroke="#434db0" stroke-width="2.9" stroke-linecap="round" opacity="0.8"/>
<line x1="276" y1="463.77" x2="269.21" y2="469.93" stroke="#434db0" stroke-width="3.13" stroke-linecap="round" opacity="0.8"/>
<line x1="290.64" y1="473.98" x2="280.31" y2="475.01" stroke="#434db0" stroke-width="2.59" stroke-linecap="round" opacity="0.8"/>
<line x1="301.57" y1="494.54" x2="294.08" y2="504.32" stroke="#434db0" stroke-width="2.42" stroke-linecap="round" opacity="0.8"/>
<line x1="327.91" y1="493.36" x2="317.66" y2="498.45" stroke="#434db0" stroke-width="3.27" stroke-linecap="round" opacity="0.8"/>
<line x1="330.14" y1="510.7" x2="326.22" y2="519.01" stroke="#434db0" stroke-width="3.02" stroke-linecap="round" opacity="0.8"/>
<line x1="319.95" y1="476.96" x2="321.48" y2="482.94" stroke="#434db0" stroke-width="3.08" stroke-linecap="round" opacity="0.8"/>
<line x1="334.16" y1="475.28" x2="339.89" y2="478.61" stroke="#434db0" stroke-width="2.45" stroke-linecap="round" opacity="0.8"/>
<line x1="272.96" y1="514.94" x2="280.3" y2="516.32" stroke="#434db0" stroke-width="1.83" stroke-linecap="round" opacity="0.8"/>
<line x1="305.06" y1="501.54" x2="309.71" y2="504.48" stroke="#434db0" stroke-width="2.52" stroke-linecap="round" opacity="0.8"/>
<line x1="298.95" y1="511.36" x2="304.78" y2="512.03" stroke="#434db0" stroke-width="1.97" stroke-linecap="round" opacity="0.8"/>
<line x1="273.26" y1="464.04" x2="267.1" y2="471.61" stroke="#434db0" stroke-width="2.05" stroke-linecap="round" opacity="0.8"/>
<line x1="262.65" y1="467.94" x2="272.12" y2="473.65" stroke="#434db0" stroke-width="2.22" stroke-linecap="round" opacity="0.8"/>
<line x1="298.54" y1="502.16" x2="299" y2="509.23" stroke="#434db0" stroke-width="3.37" stroke-linecap="round" opacity="0.8"/>
<line x1="331.33" y1="468.51" x2="329.45" y2="481.03" stroke="#434db0" stroke-width="2.57" stroke-linecap="round" opacity="0.8"/>
<line x1="276.12" y1="454.8" x2="264.87" y2="456.67" stroke="#434db0" stroke-width="2.37" stroke-linecap="round" opacity="0.8"/>
<line x1="292.78" y1="481.17" x2="301.19" y2="490.99" stroke="#434db0" stroke-width="2.92" stroke-linecap="round" opacity="0.8"/>
<line x1="271.59" y1="449.24" x2="272.27" y2="457.18" stroke="#434db0" stroke-width="3.19" stroke-linecap="round" opacity="0.8"/>
<line x1="310.27" y1="490.47" x2="315.78" y2="493.44" stroke="#434db0" stroke-width="2.24" stroke-linecap="round" opacity="0.8"/>
<line x1="274.07" y1="504.05" x2="273.56" y2="514.13" stroke="#434db0" stroke-width="3.59" stroke-linecap="round" opacity="0.8"/>
<line x1="269.46" y1="484.76" x2="279.39" y2="489.85" stroke="#434db0" stroke-width="1.6" stroke-linecap="round" opacity="0.8"/>
<line x1="324.77" y1="506.09" x2="319.97" y2="509.09" stroke="#434db0" stroke-width="2.14" stroke-linecap="round" opacity="0.8"/>
<line x1="313.03" y1="454.46" x2="313.58" y2="463.19" stroke="#434db0" stroke-width="3.51" stroke-linecap="round" opacity="0.8"/>
<line x1="298.81" y1="503.7" x2="305.36" y2="512.93" stroke="#434db0" stroke-width="2.43" stroke-linecap="round" opacity="0.8"/>
<line x1="333.46" y1="456.69" x2="327.76" y2="460.15" stroke="#434db0" stroke-width="2.69" stroke-linecap="round" opacity="0.8"/>
<line x1="300.05" y1="460.87" x2="293.58" y2="464.64" stroke="#434db0" stroke-width="2.22" stroke-linecap="round" opacity="0.8"/>
<line x1="257.42" y1="467.07" x2="258.52" y2="477.73" stroke="#434db0" stroke-width="2.32" stroke-linecap="round" opacity="0.8"/>
<line x1="309.35" y1="455.28" x2="312.18" y2="463.49" stroke="#434db0" stroke-width="3.53" stroke-linecap="round" opacity="0.8"/>
<line x1="319.08" y1="494.92" x2="327.1" y2="495.23" stroke="#434db0" stroke-width="3.02" stroke-linecap="round" opacity="0.8"/>
<line x1="271.58" y1="486.7" x2="272.25" y2="491.74" stroke="#434db0" stroke-width="3.58" stroke-linecap="round" opacity="0.8"/>
<line x1="321.78" y1="462.54" x2="319.17" y2="469.38" stroke="#434db0" stroke-width="2.35" stroke-linecap="round" opacity="0.8"/>
<line x1="296.05" y1="468.36" x2="300.03" y2="475.46" stroke="#434db0" stroke-width="2.93" stroke-linecap="round" opacity="0.8"/>
<line x1="276.09" y1="462.66" x2="271.02" y2="468.37" stroke="#434db0" stroke-width="3.49" stroke-linecap="round" opacity="0.8"/>
<line x1="297.1" y1="494.6" x2="302.96" y2="504.63" stroke="#434db0" stroke-width="1.78" stroke-linecap="round" opacity="0.8"/>
<line x1="266.39" y1="454.12" x2="260.74" y2="463.17" stroke="#434db0" stroke-width="1.96" stroke-linecap="round" opacity="0.8"/>
<line x1="286.98" y1="504.24" x2="285.34" y2="509.72" stroke="#434db0" stroke-width="2.05" stroke-linecap="round" opacity="0.8"/>
<line x1="264.17" y1="457.91" x2="265.78" y2="463.25" stroke="#434db0" stroke-width="3.44" stroke-linecap="round" opacity="0.8"/>
<line x1="290.78" y1="480.82" x2="285.81" y2="490.79" stroke="#434db0" stroke-width="3.24" stroke-linecap="round" opacity="0.8"/>
<line x1="284.05" y1="471.61" x2="285.44" y2="476.54" stroke="#434db0" stroke-width="2.4" stroke-linecap="round" opacity="0.8"/>
<line x1="315.93" y1="513.27" x2="307.81" y2="519.58" stroke="#434db0" stroke-width="2.82" stroke-linecap="round" opacity="0.8"/>
<line x1="250.58" y1="469.56" x2="255.43" y2="478.54" stroke="#434db0" stroke-width="1.81" stroke-linecap="round" opacity="0.8"/>
<line x1="288.59" y1="482.08" x2="279.46" y2="489.24" stroke="#434db0" stroke-width="2.82" stroke-linecap="round" opacity="0.8"/>
<line x1="269.56" y1="500.99" x2="260.6" y2="503.81" stroke="#434db0" stroke-width="2.31" stroke-linecap="round" opacity="0.8"/>
<line x1="298.64" y1="456.68" x2="290.63" y2="466.78" stroke="#434db0" stroke-width="2.63" stroke-linecap="round" opacity="0.8"/>
<line x1="308.1" y1="503.25" x2="318.32" y2="510.54" stroke="#434db0" stroke-width="2.85" stroke-linecap="round" opacity="0.8"/>
<line x1="265.04" y1="454.58" x2="271.95" y2="461.26" stroke="#434db0" stroke-width="2.99" stroke-linecap="round" opacity="0.8"/>
<line x1="278" y1="509.04" x2="281.68" y2="516.93" stroke="#434db0" stroke-width="1.85" stroke-linecap="round" opacity="0.8"/>
<line x1="339.98" y1="459.94" x2="331.05" y2="462.72" stroke="#434db0" stroke-width="2.72" stroke-linecap="round" opacity="0.8"/>
<line x1="306.02" y1="467.89" x2="293.61" y2="471.53" stroke="#434db0" stroke-width="3.24" stroke-linecap="round" opacity="0.8"/>
<line x1="306.48" y1="458.57" x2="300.26" y2="462.4" stroke="#434db0" stroke-width="3.39" stroke-linecap="round" opacity="0.8"/>
<line x1="275.01" y1="488.2" x2="269.42" y2="491.48" stroke="#434db0" stroke-width="2.7" stroke-linecap="round" opacity="0.8"/>
<line x1="252.55" y1="451.13" x2="263.43" y2="458.04" stroke="#434db0" stroke-width="3.48" stroke-linecap="round" opacity="0.8"/>
<line x1="311.08" y1="467.85" x2="305.49" y2="477.21" stroke="#434db0" stroke-width="2.36" stroke-linecap="round" opacity="0.8"/>
<line x1="299.25" y1="504.66" x2="305.83" y2="505" stroke="#434db0" stroke-width="2.54" stroke-linecap="round" opacity="0.8"/>
<line x1="264.45" y1="474.53" x2="263.06" y2="480.77" stroke="#434db0" stroke-width="2.64" stroke-linecap="round" opacity="0.8"/>
<line x1="271.63" y1="485.1" x2="276.73" y2="493.86" stroke="#434db0" stroke-width="1.68" stroke-linecap="round" opacity="0.8"/>
<line x1="314.23" y1="461.3" x2="304.51" y2="462.55" stroke="#434db0" stroke-width="2.54" stroke-linecap="round" opacity="0.8"/>
<line x1="290.05" y1="488.53" x2="283.85" y2="497.69" stroke="#434db0" stroke-width="3.1" stroke-linecap="round" opacity="0.8"/>
<line x1="298.54" y1="514.37" x2="288.2" y2="520.13" stroke="#434db0" stroke-width="2.42" stroke-linecap="round" opacity="0.8"/>
<line x1="293.3" y1="487.99" x2="284.49" y2="490.69" stroke="#434db0" stroke-width="2.65" stroke-linecap="round" opacity="0.8"/>
<line x1="287.29" y1="509.07" x2="290.2" y2="513.67" stroke="#434db0" stroke-width="3.05" stroke-linecap="round" opacity="0.8"/>
<line x1="330.83" y1="494.9" x2="327.51" y2="505.4" stroke="#434db0" stroke-width="2.21" stroke-linecap="round" opacity="0.8"/>
<line x1="298.71" y1="455.41" x2="306.64" y2="458.68" stroke="#434db0" stroke-width="2.61" stroke-linecap="round" opacity="0.8"/>
<line x1="288.32" y1="452.11" x2="283.03" y2="459.65" stroke="#434db0" stroke-width="2.08" stroke-linecap="round" opacity="0.8"/>
<line x1="275.82" y1="476.38" x2="279.91" y2="480.12" stroke="#434db0" stroke-width="3.42" stroke-linecap="round" opacity="0.8"/>
<line x1="338.73" y1="494.13" x2="331.08" y2="497.54" stroke="#434db0" stroke-width="3.21" stroke-linecap="round" opacity="0.8"/>
<line x1="271.84" y1="495.13" x2="269.29" y2="507.08" stroke="#434db0" stroke-width="1.8" stroke-linecap="round" opacity="0.8"/>
<line x1="320.6" y1="454.3" x2="319.12" y2="466.82" stroke="#434db0" stroke-width="1.6" stroke-linecap="round" opacity="0.8"/>
<line x1="271.04" y1="469.64" x2="273.91" y2="474.33" stroke="#434db0" stroke-width="3.39" stroke-linecap="round" opacity="0.8"/>
<line x1="319.74" y1="474" x2="323.96" y2="482.72" stroke="#434db0" stroke-width="1.69" stroke-linecap="round" opacity="0.8"/>
<line x1="251.54" y1="507.29" x2="256.64" y2="514.69" stroke="#434db0" stroke-width="3.47" stroke-linecap="round" opacity="0.8"/>
<line x1="332.9" y1="481.04" x2="338.77" y2="485.49" stroke="#434db0" stroke-width="3.45" stroke-linecap="round" opacity="0.8"/>
<line x1="332.3" y1="463.32" x2="325.46" y2="467.14" stroke="#434db0" stroke-width="2.54" stroke-linecap="round" opacity="0.8"/>
<line x1="269.56" y1="509.72" x2="262.94" y2="509.82" stroke="#434db0" stroke-width="2.86" stroke-linecap="round" opacity="0.8"/>
<line x1="265.06" y1="509.34" x2="270.83" y2="510.26" stroke="#434db0" stroke-width="3.05" stroke-linecap="round" opacity="0.8"/>
<line x1="283.35" y1="508.98" x2="273.53" y2="513.24" stroke="#434db0" stroke-width="1.87" stroke-linecap="round" opacity="0.8"/>
<line x1="311.05" y1="510.78" x2="312.01" y2="516.33" stroke="#434db0" stroke-width="2.05" stroke-linecap="round" opacity="0.8"/>
<line x1="275.31" y1="496.89" x2="280.57" y2="500.62" stroke="#434db0" stroke-width="2.07" stroke-linecap="round" opacity="0.8"/>
<line x1="306.81" y1="499.22" x2="310.83" y2="508.7" stroke="#434db0" stroke-width="3.37" stroke-linecap="round" opacity="0.8"/>
<line x1="298.73" y1="462.38" x2="306" y2="472.44" stroke="#434db0" stroke-width="2.93" stroke-linecap="round" opacity="0.8"/>
<line x1="269.14" y1="492.37" x2="281.5" y2="495.95" stroke="#434db0" stroke-width="2.48" stroke-linecap="round" opacity="0.8"/>
<line x1="292.2" y1="486.36" x2="301.89" y2="487.75" stroke="#434db0" stroke-width="2.17" stroke-linecap="round" opacity="0.8"/>
<line x1="269.57" y1="503.81" x2="276.58" y2="505.77" stroke="#434db0" stroke-width="3.11" stroke-linecap="round" opacity="0.8"/>
<line x1="273.13" y1="467.46" x2="272.16" y2="473.88" stroke="#434db0" stroke-width="3.39" stroke-linecap="round" opacity="0.8"/>
<line x1="336.08" y1="449.23" x2="337.4" y2="460.15" stroke="#434db0" stroke-width="2.37" stroke-linecap="round" opacity="0.8"/>
<line x1="327.7" y1="482.51" x2="335.68" y2="487.57" stroke="#434db0" stroke-width="2.89" stroke-linecap="round" opacity="0.8"/>
<line x1="286.02" y1="492.48" x2="278.93" y2="498.23" stroke="#434db0" stroke-width="2.61" stroke-linecap="round" opacity="0.8"/>
<line x1="324.85" y1="490.75" x2="324.04" y2="503.34" stroke="#434db0" stroke-width="1.95" stroke-linecap="round" opacity="0.8"/>
<line x1="319.91" y1="460.01" x2="317.62" y2="466.5" stroke="#434db0" stroke-width="2.48" stroke-linecap="round" opacity="0.8"/>
<line x1="320.92" y1="501.6" x2="315.46" y2="505.81" stroke="#434db0" stroke-width="2.58" stroke-linecap="round" opacity="0.8"/>
<line x1="270.51" y1="487.62" x2="270.52" y2="492.91" stroke="#434db0" stroke-width="2.79" stroke-linecap="round" opacity="0.8"/>
<line x1="316.12" y1="488.53" x2="310.19" y2="491.03" stroke="#434db0" stroke-width="1.9" stroke-linecap="round" opacity="0.8"/>
<line x1="252.07" y1="480.62" x2="253.81" y2="488.97" stroke="#434db0" stroke-width="2.13" stroke-linecap="round" opacity="0.8"/>
<line x1="324.97" y1="455.85" x2="315.82" y2="458.59" stroke="#434db0" stroke-width="2.69" stroke-linecap="round" opacity="0.8"/>
<line x1="316.44" y1="466.33" x2="323.15" y2="469.65" stroke="#434db0" stroke-width="1.68" stroke-linecap="round" opacity="0.8"/>
<line x1="278.84" y1="489.39" x2="278.28" y2="496.49" stroke="#434db0" stroke-width="2.78" stroke-linecap="round" opacity="0.8"/>
<line x1="256.02" y1="504.11" x2="262.06" y2="507.73" stroke="#434db0" stroke-width="1.92" stroke-linecap="round" opacity="0.8"/>
<line x1="313.22" y1="504.89" x2="308.92" y2="508.3" stroke="#434db0" stroke-width="2.42" stroke-linecap="round" opacity="0.8"/>
<line x1="285.54" y1="466.34" x2="280.23" y2="466.83" stroke="#434db0" stroke-width="2.58" stroke-linecap="round" opacity="0.8"/>
<line x1="313.29" y1="514.8" x2="321.06" y2="518.6" stroke="#434db0" stroke-width="3.09" stroke-linecap="round" opacity="0.8"/>
<line x1="257.67" y1="467.13" x2="251.9" y2="469.2" stroke="#434db0" stroke-width="2.39" stroke-linecap="round" opacity="0.8"/>
<line x1="274.59" y1="479.5" x2="279.71" y2="480.76" stroke="#434db0" stroke-width="3.59" stroke-linecap="round" opacity="0.8"/>
<line x1="314.71" y1="497.97" x2="319.98" y2="502.61" stroke="#434db0" stroke-width="2.7" stroke-linecap="round" opacity="0.8"/>
<line x1="276.15" y1="481.71" x2="268.41" y2="483.38" stroke="#434db0" stroke-width="2.27" stroke-linecap="round" opacity="0.8"/>
<line x1="332.1" y1="491.76" x2="340.26" y2="492.78" stroke="#434db0" stroke-width="2.9" stroke-linecap="round" opacity="0.8"/>
<line x1="259.88" y1="469.96" x2="253.04" y2="479.72" stroke="#434db0" stroke-width="2.78" stroke-linecap="round" opacity="0.8"/>
<line x1="326.04" y1="477.07" x2="329.92" y2="488.16" stroke="#434db0" stroke-width="2.36" stroke-linecap="round" opacity="0.8"/>
<line x1="317.42" y1="463.65" x2="320.4" y2="469.39" stroke="#434db0" stroke-width="2.7" stroke-linecap="round" opacity="0.8"/>
<line x1="262.14" y1="463.03" x2="268.97" y2="468.48" stroke="#434db0" stroke-width="2.22" stroke-linecap="round" opacity="0.8"/>
<line x1="293.21" y1="512.13" x2="286.85" y2="522.2" stroke="#434db0" stroke-width="2.01" stroke-linecap="round" opacity="0.8"/>
<line x1="286.72" y1="453.98" x2="282.25" y2="460.5" stroke="#434db0" stroke-width="2.15" stroke-linecap="round" opacity="0.8"/>
<line x1="250.24" y1="461.36" x2="255.77" y2="467.34" stroke="#434db0" stroke-width="3.45" stroke-linecap="round" opacity="0.8"/>
<line x1="311.88" y1="467.17" x2="314.51" y2="472.81" stroke="#434db0" stroke-width="3.47" stroke-linecap="round" opacity="0.8"/>
<line x1="286.44" y1="497.67" x2="278.52" y2="507.03" stroke="#434db0" stroke-width="1.64" stroke-linecap="round" opacity="0.8"/>
<line x1="273.4" y1="475.97" x2="285.05" y2="479.08" stroke="#434db0" stroke-width="2.25" stroke-linecap="round" opacity="0.8"/>
<line x1="313.97" y1="485.61" x2="322.01" y2="487.01" stroke="#434db0" stroke-width="2.08" stroke-linecap="round" opacity="0.8"/>
<line x1="255.7" y1="459.81" x2="254.15" y2="464.83" stroke="#434db0" stroke-width="2.22" stroke-linecap="round" opacity="0.8"/>
<line x1="283.19" y1="485.71" x2="292.89" y2="490.12" stroke="#434db0" stroke-width="2.12" stroke-linecap="round" opacity="0.8"/>
<line x1="311.11" y1="494.39" x2="317.05" y2="497.35" stroke="#434db0" stroke-width="2.16" stroke-linecap="round" opacity="0.8"/>
<line x1="310.9" y1="473.3" x2="315.06" y2="484.47" stroke="#434db0" stroke-width="2.05" stroke-linecap="round" opacity="0.8"/>
<line x1="274.56" y1="473.29" x2="278.71" y2="476.63" stroke="#434db0" stroke-width="1.65" stroke-linecap="round" opacity="0.8"/>
<line x1="311.15" y1="485.72" x2="300.58" y2="492.96" stroke="#434db0" stroke-width="2.2" stroke-linecap="round" opacity="0.8"/>
<line x1="305.24" y1="509.03" x2="313.42" y2="515.63" stroke="#434db0" stroke-width="2.93" stroke-linecap="round" opacity="0.8"/>
<line x1="330.2" y1="505.65" x2="337.65" y2="512.41" stroke="#434db0" stroke-width="1.78" stroke-linecap="round" opacity="0.8"/>
<line x1="284.39" y1="477.29" x2="292.32" y2="478.8" stroke="#434db0" stroke-width="2.26" stroke-linecap="round" opacity="0.8"/>
<line x1="290.74" y1="468.75" x2="297.96" y2="472.68" stroke="#434db0" stroke-width="2.55" stroke-linecap="round" opacity="0.8"/>
<line x1="263.71" y1="493.84" x2="267.9" y2="497.77" stroke="#434db0" stroke-width="2.28" stroke-linecap="round" opacity="0.8"/>
<line x1="289.25" y1="457.19" x2="286.53" y2="467.44" stroke="#434db0" stroke-width="2.71" stroke-linecap="round" opacity="0.8"/>
<line x1="310.57" y1="450.27" x2="313.22" y2="457.73" stroke="#434db0" stroke-width="1.73" stroke-linecap="round" opacity="0.8"/>
<line x1="286.27" y1="451.21" x2="286.4" y2="460.9" stroke="#434db0" stroke-width="2.54" stroke-linecap="round" opacity="0.8"/>
<line x1="275.65" y1="468.71" x2="283.4" y2="469.28" stroke="#434db0" stroke-width="3.38" stroke-linecap="round" opacity="0.8"/>
<line x1="301.91" y1="466.75" x2="298.64" y2="472.35" stroke="#434db0" stroke-width="2.54" stroke-linecap="round" opacity="0.8"/>
<line x1="302.55" y1="510.28" x2="306.57" y2="519.01" stroke="#434db0" stroke-width="3.48" stroke-linecap="round" opacity="0.8"/>
<line x1="319.59" y1="489.49" x2="316.52" y2="497.19" stroke="#434db0" stroke-width="2.43" stroke-linecap="round" opacity="0.8"/>
<line x1="279" y1="505.02" x2="271.52" y2="507.99" stroke="#434db0" stroke-width="3.42" stroke-linecap="round" opacity="0.8"/>
<line x1="254.78" y1="457.61" x2="254.61" y2="465.08" stroke="#434db0" stroke-width="2.32" stroke-linecap="round" opacity="0.8"/>
<line x1="333" y1="460.31" x2="338.62" y2="464.2" stroke="#434db0" stroke-width="2.96" stroke-linecap="round" opacity="0.8"/>
<line x1="272.22" y1="448.52" x2="271.11" y2="456.6" stroke="#434db0" stroke-width="2.08" stroke-linecap="round" opacity="0.8"/>
<line x1="294.8" y1="489.89" x2="293.3" y2="499.77" stroke="#434db0" stroke-width="2.72" stroke-linecap="round" opacity="0.8"/>
<line x1="321.27" y1="512.2" x2="325.15" y2="518.94" stroke="#434db0" stroke-width="3.37" stroke-linecap="round" opacity="0.8"/>
<line x1="281.5" y1="494.82" x2="275.45" y2="503.4" stroke="#434db0" stroke-width="3.53" stroke-linecap="round" opacity="0.8"/>
<line x1="324.29" y1="458.74" x2="320.96" y2="467.02" stroke="#434db0" stroke-width="2.73" stroke-linecap="round" opacity="0.8"/>
<line x1="286.59" y1="467.81" x2="280.06" y2="474.39" stroke="#434db0" stroke-width="2.07" stroke-linecap="round" opacity="0.8"/>
<line x1="269.08" y1="471.24" x2="276.8" y2="476.07" stroke="#434db0" stroke-width="1.85" stroke-linecap="round" opacity="0.8"/>
<line x1="251.82" y1="455.29" x2="261.91" y2="458.65" stroke="#434db0" stroke-width="1.83" stroke-linecap="round" opacity="0.8"/>
<line x1="290.23" y1="499.62" x2="290.61" y2="505.91" stroke="#434db0" stroke-width="3.33" stroke-linecap="round" opacity="0.8"/>
<line x1="323.39" y1="452.74" x2="329.72" y2="459.22" stroke="#434db0" stroke-width="3.19" stroke-linecap="round" opacity="0.8"/>
<line x1="281.52" y1="495.29" x2="289.06" y2="502.92" stroke="#434db0" stroke-width="2.25" stroke-linecap="round" opacity="0.8"/>
<line x1="285.36" y1="499.17" x2="275.13" y2="504.69" stroke="#434db0" stroke-width="2.73" stroke-linecap="round" opacity="0.8"/>
<line x1="289.93" y1="493.13" x2="285.54" y2="503.92" stroke="#434db0" stroke-width="3.2" stroke-linecap="round" opacity="0.8"/>
<line x1="263.96" y1="474.09" x2="260.48" y2="479.99" stroke="#434db0" stroke-width="1.97" stroke-linecap="round" opacity="0.8"/>
<line x1="258.86" y1="489.44" x2="246.31" y2="491.79" stroke="#434db0" stroke-width="1.87" stroke-linecap="round" opacity="0.8"/>
<line x1="312.45" y1="476.05" x2="309.17" y2="483.54" stroke="#434db0" stroke-width="3.47" stroke-linecap="round" opacity="0.8"/>
<line x1="338.68" y1="453.34" x2="334.99" y2="458" stroke="#434db0" stroke-width="1.68" stroke-linecap="round" opacity="0.8"/>
<line x1="279.09" y1="500.04" x2="273.13" y2="500.16" stroke="#434db0" stroke-width="2.26" stroke-linecap="round" opacity="0.8"/>
<line x1="253.48" y1="483.83" x2="253.9" y2="491.81" stroke="#434db0" stroke-width="2.22" stroke-linecap="round" opacity="0.8"/>
<line x1="318.01" y1="503.93" x2="323.12" y2="510.26" stroke="#434db0" stroke-width="2.84" stroke-linecap="round" opacity="0.8"/>
<line x1="315.73" y1="511.4" x2="319.33" y2="521.32" stroke="#434db0" stroke-width="2.69" stroke-linecap="round" opacity="0.8"/>
<line x1="318.04" y1="460.53" x2="323.03" y2="463.59" stroke="#434db0" stroke-width="3.47" stroke-linecap="round" opacity="0.8"/>
<line x1="269.59" y1="482.89" x2="276.65" y2="485.69" stroke="#434db0" stroke-width="1.64" stroke-linecap="round" opacity="0.8"/>
<line x1="301.67" y1="458.53" x2="298.92" y2="465.17" stroke="#434db0" stroke-width="2.06" stroke-linecap="round" opacity="0.8"/>
<line x1="291.21" y1="474.35" x2="294.92" y2="478.29" stroke="#434db0" stroke-width="1.73" stroke-linecap="round" opacity="0.8"/>
<line x1="325.39" y1="471.85" x2="331.66" y2="473.43" stroke="#434db0" stroke-width="2.57" stroke-linecap="round" opacity="0.8"/>
<line x1="341.61" y1="463.87" x2="333.5" y2="467.46" stroke="#434db0" stroke-width="2.43" stroke-linecap="round" opacity="0.8"/>
<g fill="#434db0" opacity="0.94" filter="url(#fSoft)">
<path d=""/>
</g>
<path d="M321.13 478.28h0M256.38 488.34h0M308.15 493.06h0M275.34 513.62h0M326.1 517.23h0M289.69 506.78h0" stroke="#26261f" stroke-width="2" stroke-linecap="round" fill="none" opacity="0.55"/>
<path d="M321.13 478.28h0M256.38 488.34h0M308.15 493.06h0M275.34 513.62h0M326.1 517.23h0M289.69 506.78h0" stroke="#e8e8dc" stroke-width="0.8" stroke-linecap="round" fill="none" opacity="0.8"/>
</g>
<text class="tb" x="328.9" y="511.6" font-size="6.5" text-anchor="middle" fill="#fff">25µm</text>
<line x1="322.9" y1="515" x2="335.8" y2="515" stroke="#fff" stroke-width="1.25"/>
</g>
<clipPath id="mc4"><rect x="340.9" y="452.5" width="86.4" height="65.1"/></clipPath>
<g clip-path="url(#mc4)">
<g filter="url(#fMicro)">
<rect x="338.9" y="450.5" width="90.4" height="69.1" fill="#c3d3d7"/>
<g fill="#5664b0" opacity="0.94" filter="url(#fSoft)">
<path d="M373.37 461.22L376.33 460.3L378.87 460.02L379.2 461.25L377.55 462.98L374.79 464.91L370.56 466.44L369.87 464.86L369.93 463.17ZM380.19 457.17L381.51 457.31L380.89 459.13L378.56 461.21L376.2 462.21L375.47 461.33L375.02 460.18L376.85 457.93L379.38 456.3ZM366.05 467.27L365.61 469.47L363.86 469.92L361.92 470.76L362.08 468.25L361.53 466.47L363.01 465.28L364.48 464.61L365.68 465.52ZM351.86 465.52L351.65 464.42L352.55 464.1L354.15 463.98L356.37 465.76L357.22 466.92L357.63 467.93L356.62 468.38L354.19 466.88ZM400.84 463.53L402.51 463.5L403.9 464.48L404.73 466.28L404.02 468.33L402.11 468.43L400.14 468.84L399.09 466.87L399.39 464.75ZM353.62 507.96L354.36 501.81L354.94 496.59L357.62 485.07L360.66 470.69L360.98 472.24L361.49 472.91L358.49 486.81L356.28 497.09ZM349.74 511.65L345.74 513.29L345.05 511.49L345.64 509.72L347.31 507.7L350.79 505.04L352.33 506.43L354.45 506.91L352.43 509.28ZM359.99 487.37L361.37 486.67L362.76 487.2L363.47 488.32L363.5 489.62L362.38 490.17L361.24 491.1L360.07 490.19L359.89 488.85ZM380.05 488.12L378.84 486.89L379.52 485.31L381.24 484.52L382.76 485.35L384.6 485.9L384.37 487.54L383.35 488.92L381.37 489.26ZM394.16 485.66L393.48 482.59L394.1 481.21L394.77 479.91L396.39 481.01L397.22 484.07L398.06 486.96L396.73 486.87L395.83 488.17ZM425.36 486.31L426.42 488.62L425.64 491.78L423.95 493.81L422.25 493.27L420.51 492.21L421.73 489.18L421.88 486.09L423.81 485.27ZM405.09 502.75L403.54 499.46L404.8 497.78L405.86 496.83L407.64 497.16L408.46 500.29L409.54 503.2L408.91 505.68L406.89 504.76ZM414.24 506.1L414.49 507.5L414.13 508.72L411.97 508.4L410.39 506.88L409.14 505.69L409.67 504.93L410.72 504.76L412.22 504.96ZM376.73 504.74L375.5 505.55L374.04 505.34L374.13 503.07L374.75 500.67L376.35 500.63L378.08 499.26L377.94 501.71L378.1 503.58ZM416.45 456.66L415.14 456.33L414.62 455.04L414.12 453.84L414.73 452.63L415.81 451.73L416.83 452.71L417.73 453.85L417.56 455.58ZM359.2 513.54L359.94 513.88L360.44 514.52L361.17 515.64L360.48 516.76L359.63 516.95L358.97 516.42L358.03 515.68L358.42 514.22ZM342.82 515.51L342.76 513.82L342.75 511.86L344.12 510.61L345.69 509.71L346.22 511.51L346.21 513.37L345.3 515.25L343.79 516.93Z"/>
<path d="M374.78 464L382.78 463.08L374.97 461.12Z"/><path d="M378.42 460.05L383.02 458.68L378.25 458.13Z"/><path d="M364.98 466.62L360.97 463.17L362.57 468.21Z"/><path d="M355.54 465.99L354.52 460.29L354 466.06Z"/><path d="M402.36 464.15L396.19 464.67L401.46 467.9Z"/><path d="M358.07 488.06L351.69 467.56L357.01 488.36Z"/><path d="M350.36 508.12L344.93 503.55L348.09 509.9Z"/><path d="M362.7 488.32L360.38 486.65L360.7 489.49Z"/><path d="M382.41 488.14L384.96 485.38L381.2 485.51Z"/><path d="M395.62 483.09L390.67 484.33L395.72 485.01Z"/><path d="M421.96 489.59L423.37 495.94L424.85 489.6Z"/><path d="M405.32 500.76L407.15 508.27L408.21 500.62Z"/><path d="M412.34 506.87L415 502.39L410.89 505.6Z"/><path d="M377.07 503.59L379.78 499.32L375.45 501.94Z"/><path d="M414.73 454.73L416.98 456.83L416.82 453.75Z"/><path d="M360.39 515.18L359.4 512.71L358.85 515.32Z"/><path d="M343.42 512.51L341.59 517.18L345.32 513.83Z"/>
</g>
<path d="M361.21 490.21h0M365.51 509.31h0M365.65 508.13h0M399.37 482.12h0M421.57 477.73h0M405.12 491.64h0M379.64 456.68h0M377.11 470.81h0M378.99 514.64h0M366.21 497.74h0M398.97 468.43h0M376.46 461.1h0M418.26 468.88h0M377.24 474.74h0M411.79 507.85h0M391.94 488.04h0M349.49 510.86h0M348.54 476.17h0M373.26 499.57h0M398.72 474.89h0M418.48 514.32h0M342.91 493.71h0M381.44 476.05h0M381.06 473.07h0M398.86 491.92h0M424.74 516.07h0M426.66 478.22h0M412.5 494.81h0" stroke="#26261f" stroke-width="2" stroke-linecap="round" fill="none" opacity="0.55"/>
<path d="M361.21 490.21h0M365.51 509.31h0M365.65 508.13h0M399.37 482.12h0M421.57 477.73h0M405.12 491.64h0M379.64 456.68h0M377.11 470.81h0M378.99 514.64h0M366.21 497.74h0M398.97 468.43h0M376.46 461.1h0M418.26 468.88h0M377.24 474.74h0M411.79 507.85h0M391.94 488.04h0M349.49 510.86h0M348.54 476.17h0M373.26 499.57h0M398.72 474.89h0M418.48 514.32h0M342.91 493.71h0M381.44 476.05h0M381.06 473.07h0M398.86 491.92h0M424.74 516.07h0M426.66 478.22h0M412.5 494.81h0" stroke="#e8e8dc" stroke-width="0.8" stroke-linecap="round" fill="none" opacity="0.8"/>
</g>
<text class="tb" x="418.4" y="511.6" font-size="6.5" text-anchor="middle" fill="#fff">25µm</text>
<line x1="412.4" y1="515" x2="425.3" y2="515" stroke="#fff" stroke-width="1.25"/>
</g>
<clipPath id="mc5"><rect x="71.2" y="519.4" width="86.4" height="65"/></clipPath>
<g clip-path="url(#mc5)">
<g filter="url(#fMicro)">
<rect x="69.2" y="517.4" width="90.4" height="69" fill="#a3adb3"/>
<g fill="#434aa6" opacity="0.94" filter="url(#fSoft)">
<path d="M77.06 529.01L78.64 530.29L80 530.83L80.12 532.35L79.54 533.9L77.91 533.82L75.96 534.12L76.08 532.15L76.17 530.74ZM91.43 530.25L93.21 530.59L95.2 531.82L94.84 534.09L93.11 535.85L90.72 535.11L88.17 534.59L87.71 532.16L88.85 529.94ZM104.34 521.77L103.33 523.6L100.87 524.36L99.29 522.84L97.84 522.01L97.73 520.46L99.28 519.32L101.23 519.77L103.6 519.95ZM113.85 532.66L111.26 532.82L109.31 532.21L107.21 530.83L107.9 528.38L109.06 525.71L111.83 526.63L113.99 527.69L113.82 530.05ZM108.12 538.7L109.62 535.61L113.04 536.95L116.74 536.88L116.06 540.26L116.89 543.85L113.12 544.56L110.12 543.73L107.67 541.73ZM99.35 541.8L98.57 539.68L98.56 536.31L101.86 535.25L105.04 536.38L105.36 539.53L105.85 542.34L103.1 543.11L100.9 543.36ZM95.7 540.78L97.86 541.29L99.57 541.32L99.88 542.72L99.86 544.02L98.5 544.67L96.54 545.69L95.61 543.98L95.09 542.52ZM95.9 546.08L95.81 547.38L95.21 548.74L93.75 548.44L92.8 547.77L91.94 546.7L92.86 545.69L93.79 545.03L94.97 545.19ZM86.77 556.36L87.45 554.04L87.5 550.95L90.43 551.92L92.97 551.97L94.16 554.41L93.18 556.85L91.03 557.89L88.94 557.44ZM104.67 550.81L104.27 549.1L106.59 548.38L108.5 549.11L110.42 549.65L111.76 551.34L108.93 551.94L107.26 553.06L104.48 552.74ZM125.58 523.3L124.01 521.87L124.59 519.9L126.72 519.12L128.94 518.91L130.69 520.2L131.46 522.2L129.14 523.12L127.5 523.6ZM149.06 526.21L152.76 527.53L152.38 531.76L150.72 534.62L148.08 537.2L145.52 534.49L141.5 532.86L142.39 528.31L145.94 526.73ZM128.34 545.94L129.28 547.87L130.85 549.45L129.1 550.78L127.96 552.54L126.03 551.89L124.25 550.32L124.85 547.87L126.74 547.23ZM125.9 556.6L126.46 554.57L128.47 555.02L130.27 555.93L131.19 558.08L129.93 560.16L127.67 559.62L125.58 560.09L124.98 558.07ZM151.14 545.64L151.73 544.54L152.63 543.61L154.65 542.97L155.76 544.19L156.36 545.09L156.78 546.53L154.5 547.09L152.32 546.7ZM111.72 570.45L109.8 567.77L108.42 564.88L111.52 563.35L113.87 562.18L116.7 562.89L118.93 565.17L116.62 567.43L115.44 570.37ZM95.16 563.68L94.64 562.63L95.46 561.48L97.34 561.55L98.97 561.87L99.28 562.97L99.33 564.14L97.57 564.23L95.97 564.69ZM146.15 574.12L145.07 573.81L144.14 573.07L143.73 571.56L144.51 570.22L145.73 569.93L146.97 570.31L147.88 571.74L147.08 573.25ZM158.12 566.29L158.2 567.97L157.13 568.42L156.22 568.39L155.17 567.76L155.16 566.01L155.94 564.97L156.8 564.83L158 564.51ZM72.6 569.18L72.53 568.28L73.38 567.31L76.01 567.09L77.79 567.79L78.7 568.54L77.74 569.24L76.51 570.02L74.6 569.48ZM82.1 582.56L79.96 584.37L76.79 585L74.17 583.86L73.36 582.12L72.03 579.68L75.4 578.37L79.13 578.41L80.15 580.72ZM119.05 525.64L116.67 527.05L115.22 526.77L113.23 526.84L114.4 525.11L116.38 523.22L119.3 522.08L120.8 522.6L120.23 524.09Z"/>
<path d="M76.85 532.79L80 534.41L79.11 530.99Z"/><path d="M90.26 533.99L95.14 535.92L92.89 531.17Z"/><path d="M99.22 521.03L99.15 525.77L101.95 521.95Z"/><path d="M108.63 530.29L112.1 535.21L113.34 529.32Z"/><path d="M114.41 541.98L117.65 534.13L110.34 538.44Z"/><path d="M99.41 539.36L99.61 547.35L104.53 541.05Z"/><path d="M99 542.16L95.14 539.11L96.62 543.8Z"/><path d="M93.9 545.58L91.55 547.09L94.23 547.87Z"/><path d="M88.45 553.1L86.58 558.51L91.92 556.44Z"/><path d="M106.44 549.65L104.09 554.46L108.6 551.57Z"/><path d="M125.89 521.47L127.57 525.97L129.36 521.51Z"/><path d="M144.92 529.93L144.06 539.33L150.54 532.46Z"/><path d="M128.32 550.81L132.18 547.23L126.93 547.63Z"/><path d="M129.36 557.56L127.66 553.69L125.89 557.52Z"/><path d="M153.21 545.94L156.84 547.54L154.72 544.19Z"/><path d="M113.34 563.49L108.75 566.74L114.17 568.23Z"/><path d="M96.28 563.57L98.87 566.11L97.95 562.6Z"/><path d="M146.23 571.1L142.75 570.41L145.07 573.1Z"/><path d="M156.07 565.86L154.1 569.11L157.41 567.24Z"/><path d="M74.9 568.36L73.83 573.46L76.35 568.9Z"/><path d="M78.89 582.21L78.28 575.97L75.13 581.4Z"/><path d="M117.52 525.87L123.07 523.1L116.93 524.04Z"/>
</g>
<path d="M96.33 575.14h0M134 536.61h0M92.73 520.72h0M117.61 535.88h0M96.52 535.84h0M82.57 550.92h0M94.75 537.93h0M95.18 552.5h0M146.7 529.81h0M145.47 574.96h0M123.85 554.75h0M134.61 554.15h0M128.22 579.15h0M138.18 536.29h0M75.89 580.28h0M102.54 570.57h0M91.37 548.83h0M103.21 566.8h0M152.73 552.27h0M120.1 542.07h0M91.26 581.14h0M80.73 580.53h0" stroke="#26261f" stroke-width="2" stroke-linecap="round" fill="none" opacity="0.55"/>
<path d="M96.33 575.14h0M134 536.61h0M92.73 520.72h0M117.61 535.88h0M96.52 535.84h0M82.57 550.92h0M94.75 537.93h0M95.18 552.5h0M146.7 529.81h0M145.47 574.96h0M123.85 554.75h0M134.61 554.15h0M128.22 579.15h0M138.18 536.29h0M75.89 580.28h0M102.54 570.57h0M91.37 548.83h0M103.21 566.8h0M152.73 552.27h0M120.1 542.07h0M91.26 581.14h0M80.73 580.53h0" stroke="#e8e8dc" stroke-width="0.8" stroke-linecap="round" fill="none" opacity="0.8"/>
</g>
<text class="tb" x="148.7" y="578.4" font-size="6.5" text-anchor="middle" fill="#fff">25µm</text>
<line x1="142.7" y1="581.8" x2="155.6" y2="581.8" stroke="#fff" stroke-width="1.25"/>
</g>
<clipPath id="mc6"><rect x="161.3" y="519.4" width="86.4" height="65"/></clipPath>
<g clip-path="url(#mc6)">
<g filter="url(#fMicro)">
<rect x="159.3" y="517.4" width="90.4" height="69" fill="#9ea7af"/>
<g fill="#3f4596" opacity="0.94" filter="url(#fSoft)">
<path d="M180.74 523.92L182.02 522.2L182.98 524.18L184.12 525.47L183.15 526.93L182.41 529.16L180.78 527.86L179.09 527.01L180.05 525.06ZM196.09 524.62L195.7 526.12L194.15 526.33L192.7 525.98L192.03 524.62L192.56 523.3L193.72 522.95L194.85 522.49L195.5 523.52ZM197.51 531.33L198.4 529.51L200.57 530.05L202.25 531.25L201.97 533.04L201.78 534.84L199.89 535.55L197.38 535.31L196.66 532.98ZM169.91 545.49L165.87 544.25L164.43 540.45L166.37 536.51L170.53 534.37L174.88 535.09L177.77 537.94L174.8 541.24L173.68 544.21ZM211.01 538.22L212.41 537.2L213.79 538.31L215.12 538.88L215.68 540.35L213.72 540.68L212.57 540.92L210.7 540.96L209.93 539.49ZM197.98 547.59L198.21 550.68L197.24 553.82L195.06 556.25L192.49 556.24L192.6 552.77L192.68 550.6L193.36 547.11L196.13 545.51ZM185.47 556.22L184.99 555.2L184.02 554L185.58 553.37L187.01 552.84L188.38 553.57L188.65 554.79L188.5 556.11L186.92 556.56ZM221.91 556.26L219.77 556.65L217.45 555.91L215.99 553.87L217.98 552.16L220.14 551.47L222.85 551.23L223.71 553.31L224.14 555.31ZM227.98 544.87L227.07 544.99L226.3 544.45L225.7 543.48L226.27 542.43L227.34 541.85L228.4 542.39L228.58 543.4L229.07 544.47ZM242.38 557.17L242.94 553.39L243.81 550.86L245.43 548.27L247.76 549.39L248.04 553.25L247.39 555.84L246.65 559.18L244.41 559.22ZM211.54 569.8L209.25 568.14L209.98 565.82L213.73 564.96L217.87 564.63L218.51 567.06L220.18 568.82L217.76 570.34L214.52 570.22ZM173.49 581.95L168.25 580.99L164.8 578.64L166.73 576.79L167.96 574.74L172.71 576.24L177.18 576.95L179.77 579.33L175.91 580.32ZM233.09 573.78L234.56 575.44L232.86 576.95L230.91 577.67L229.01 577.16L227.5 576.33L226.11 574.68L228.87 574.1L230.59 573.69ZM169.47 565.89L168.87 565.18L168.36 564.13L168.9 563L169.93 562.53L171.08 562.83L171.47 564.16L171.61 565.67L170.3 565.79Z"/>
<path d="M182.95 524.92L180.03 522.77L180.45 526.37Z"/><path d="M194.37 523.12L191.68 523.84L193.99 525.4Z"/><path d="M198.43 533.73L202.46 535.68L201.02 531.43Z"/><path d="M172.86 537.77L164.15 535.63L169.74 542.64Z"/><path d="M212.72 540.66L215.59 539.92L213.07 538.37Z"/><path d="M196.54 552.26L198.12 545.67L193.2 550.34Z"/><path d="M185.4 554.88L186.94 558.66L187.7 554.65Z"/><path d="M218.6 554.01L220.32 560.58L222.45 554.13Z"/><path d="M226.49 543.71L227.53 545.66L228.42 543.64Z"/><path d="M244.01 553.16L241.5 560.51L246.96 554.98Z"/><path d="M215.96 569.59L220.75 564.5L213.99 566.28Z"/><path d="M170.69 579.48L178.36 585.62L173.3 577.2Z"/><path d="M229.05 574.73L227.91 578.86L231.41 576.4Z"/><path d="M168.96 564.64L170.29 566.67L170.86 564.31Z"/>
</g>
<path d="M188.03 568.84h0M241.15 552.15h0M175.15 540.88h0M210.41 538.54h0M229.8 582.62h0M201.02 558.6h0M234.39 549.63h0M177.78 580.76h0M245.79 520.99h0M227.2 545.43h0M165.78 529.98h0M176.25 567.27h0M179.58 520.67h0M180.29 571.35h0M204.43 561.83h0M201.48 531.27h0M162.61 539.18h0M164.89 536.34h0M214.76 543.41h0M202.16 559.95h0M188.7 542.58h0M237.67 557.16h0M197.33 554.51h0M201.07 541.01h0M240.24 534.57h0M242.16 574.84h0M237.5 529.97h0M205.26 583.4h0M186.24 530.51h0M223.8 534.68h0M211.73 529.64h0M243.16 537.86h0M169.68 564.07h0M191.29 555.76h0M204.26 579.37h0M205.73 544.03h0M161.44 551.67h0M184.55 556.72h0M215.9 549.45h0M169.07 551.74h0" stroke="#26261f" stroke-width="2" stroke-linecap="round" fill="none" opacity="0.55"/>
<path d="M188.03 568.84h0M241.15 552.15h0M175.15 540.88h0M210.41 538.54h0M229.8 582.62h0M201.02 558.6h0M234.39 549.63h0M177.78 580.76h0M245.79 520.99h0M227.2 545.43h0M165.78 529.98h0M176.25 567.27h0M179.58 520.67h0M180.29 571.35h0M204.43 561.83h0M201.48 531.27h0M162.61 539.18h0M164.89 536.34h0M214.76 543.41h0M202.16 559.95h0M188.7 542.58h0M237.67 557.16h0M197.33 554.51h0M201.07 541.01h0M240.24 534.57h0M242.16 574.84h0M237.5 529.97h0M205.26 583.4h0M186.24 530.51h0M223.8 534.68h0M211.73 529.64h0M243.16 537.86h0M169.68 564.07h0M191.29 555.76h0M204.26 579.37h0M205.73 544.03h0M161.44 551.67h0M184.55 556.72h0M215.9 549.45h0M169.07 551.74h0" stroke="#e8e8dc" stroke-width="0.8" stroke-linecap="round" fill="none" opacity="0.8"/>
</g>
<text class="tb" x="238.8" y="578.4" font-size="6.5" text-anchor="middle" fill="#fff">25µm</text>
<line x1="232.8" y1="581.8" x2="245.7" y2="581.8" stroke="#fff" stroke-width="1.25"/>
</g>
<clipPath id="mc7"><rect x="251.4" y="519.4" width="86.4" height="65"/></clipPath>
<g clip-path="url(#mc7)">
<g filter="url(#fMicro)">
<rect x="249.4" y="517.4" width="90.4" height="69" fill="#bcc5e6"/>
<g fill="#434ca8" opacity="0.92" filter="url(#fSoft)">
<path d="M267.14 526.35L267.19 521.71L273.75 521.01L278.78 520.7L281.08 523.77L284.88 527.17L279.73 529.41L275.17 532.32L269.28 530.43ZM286.23 521.86L288.99 520.15L291.65 519.68L293.64 521.32L295.79 523.55L294.05 526.12L291.63 527.12L289.37 526.4L287.88 524.71ZM299.46 520.14L303.86 520.14L307.6 522.86L308.62 527.89L305.17 530.76L302.48 534.6L299.15 531.56L297.48 528.29L295.83 523.47ZM267.6 530.85L271.7 528.73L275.96 530.14L276.82 533.43L278.74 536.43L275.12 537.82L271.75 540.74L267.76 538.45L268.01 534.69ZM284.16 534.16L286.27 531.34L288.8 533.83L292.44 535.14L291.89 539.01L289.27 541.78L285.4 542.42L282.79 539.66L280.78 536.31ZM300.3 537.2L300.28 540.24L296.65 540.08L293.3 540.16L291.07 537.69L291.82 534.63L294.74 533L297.86 533.37L300.04 534.93ZM302.36 544.77L298.81 541.66L300.96 538.16L302.05 534.3L307.3 534.45L312.38 535.5L313.66 539.41L310.7 542.22L307.3 543.59ZM308.29 543.68L310.4 539.24L316.26 539.65L320.37 541.22L324.23 544.21L321.61 547.97L318.07 550.52L313.66 549.43L310.76 547.2ZM321.13 544.99L321.01 541.54L322.05 538.13L325.54 535.17L328.37 538.94L330.91 541.28L331.07 545.3L327.95 548.32L323.76 547.74ZM327.58 531.34L330.24 527.35L332.85 527.5L335.83 527.4L335.5 533.43L335.17 537.56L333.66 541.9L331.14 540.22L328.5 537.82ZM280.95 539.94L285.16 540.18L287.04 542.34L288.76 544.63L287.43 547.78L282.11 548.58L279.41 545.78L277.95 543.98L278.11 541.75ZM262.24 543.04L266.38 541.62L270.74 540.89L274.68 542.6L275.58 545.52L272.01 547.16L269.27 549.54L265.87 547.56L264.26 545.76ZM257.69 554.34L255.63 549.5L259.4 546.19L263.63 547.38L266.88 549.88L266.77 554.23L266.63 559.55L261.97 558.3L258.79 557.78ZM250.98 563.6L251.53 558.59L251.54 553.77L254.43 551.8L257.07 553.77L258.45 557.26L258.45 561.37L256.66 564.47L254.11 564.44ZM255.96 566.96L255.1 563.89L258.42 562.38L261.53 562.28L265.26 562.94L266.62 566.2L264.53 569.09L260.97 569.59L257.55 569.51ZM274.57 559.38L279.14 559.14L283.51 560.24L283.82 564.14L284.51 568.28L280.09 570.01L274.91 570.94L273.23 566.53L271.59 562.74ZM290.74 557.28L293.04 555.14L296.93 554.1L297.45 558.81L299.34 562.78L295.48 563.9L292.82 566.07L289.34 564.52L288.01 560.22ZM300.57 549.21L303.23 550.73L305.96 552.5L305.04 555.36L302.48 557.19L298.71 558.26L297.5 555L295.16 552.68L297.86 550.7ZM310.17 570.02L312.26 568.27L314.56 566.43L318.11 566.94L319.38 569.96L317.93 572.46L316.36 575.15L313.1 574.28L311.51 572.28ZM320.13 564.68L323.8 563.3L327.07 561.9L328.56 565.2L329.84 567.61L329.43 571.01L326.12 572.55L322.37 571.94L321.36 568.4ZM330.9 577.75L330.84 573.25L331.06 569.57L332.69 565.26L336.07 565.49L337.03 570.48L337.08 574.1L335.74 576.81L333.72 577.57ZM252.77 569.57L254.86 567.44L256.91 569.9L256.14 573.49L255.84 576.92L253.53 578.15L251.69 576.09L249.69 573.79L251.26 570.79ZM262.64 580.03L265.33 578.31L270.18 579.19L273.16 579.97L275.61 581.34L272.36 582.45L269.5 584.16L265.48 582.88L262.86 581.7ZM296.52 583.03L292.31 583.74L289.61 582.34L285.92 581.03L287.93 579.17L292.98 579.13L296.83 579.24L298.83 580.48L300.46 582.11ZM309.14 578.83L311.46 577.74L313.45 577.42L315.76 577.69L318.3 579.4L316.61 581.69L314.39 583.48L311.9 581.85L310.41 580.73ZM320.2 549.52L323.62 549.87L326.47 550.87L327.05 553.38L326.67 556.04L323.63 556.97L320.68 556.54L319.06 554.54L318.94 552.19ZM330.77 558.41L326.99 558.73L326.51 555.04L327.33 551.89L330.22 550.64L333.84 549.5L336.26 552.58L336.11 556.24L334.07 559.15Z"/>
<path d="M272.27 525.55L275.34 539.13L279.19 525.75Z"/><path d="M275.82 522.19L264.53 525.37L275.65 529.11Z"/><path d="M293.12 524.82L294.27 517.95L288.85 522.32Z"/><path d="M291.31 526.02L297.7 522.66L290.65 521.12Z"/><path d="M301.58 530.46L311.27 528.37L302.57 523.61Z"/><path d="M299.19 525.12L296.35 535.67L304.96 528.95Z"/><path d="M270.23 535.82L276.38 542.7L275.69 533.5Z"/><path d="M275.92 534.81L273.45 524.96L270 534.51Z"/><path d="M289.1 534.84L282.39 531.44L284.55 538.64Z"/><path d="M284.86 534.52L281.95 541.07L288.79 538.96Z"/><path d="M294.25 537.69L299.35 543.54L298.81 535.79Z"/><path d="M298.81 535.78L293.33 529.18L294.25 537.7Z"/><path d="M306.66 536.58L297.13 538.21L305.82 542.45Z"/><path d="M305.58 542.41L316.61 541.86L306.89 536.62Z"/><path d="M312.82 542.63L308.76 554.28L319.06 547.49Z"/><path d="M317.19 548.81L327.55 541.2L314.69 541.31Z"/><path d="M328.33 540.1L319.61 534.88L322.97 544.47Z"/><path d="M327.64 545.12L331.59 538.12L323.66 539.46Z"/><path d="M335.03 533.61L331.03 523.39L330.14 534.33Z"/><path d="M335.04 534.23L333.89 521.77L330.12 533.71Z"/><path d="M284.99 542.83L279.58 535.21L280.34 544.52Z"/><path d="M280.89 545.39L288.89 550.12L284.44 541.96Z"/><path d="M268.39 542.62L261.5 546.28L269.21 547.5Z"/><path d="M267.71 547.28L276.72 548.96L269.89 542.84Z"/><path d="M258.46 554.01L263.8 563.85L265.27 552.75Z"/><path d="M262.06 549.93L252.97 552.89L261.67 556.83Z"/><path d="M256.67 557.17L248.59 552.67L253.2 560.69Z"/><path d="M252.6 558.11L251.52 568.64L257.27 559.74Z"/><path d="M262.95 565.72L260.12 559.52L258.01 566Z"/><path d="M262.92 565.46L259.14 557.74L258.04 566.26Z"/><path d="M278.14 567.91L287.38 565.41L278.87 561.03Z"/><path d="M281.95 564.83L279.36 556.19L275.06 564.12Z"/><path d="M291.88 558.01L287.25 565.61L295.63 562.61Z"/><path d="M296.64 559.61L291.64 551.6L290.87 561.01Z"/><path d="M303.13 553.02L299.48 545.24L298.25 553.74Z"/><path d="M298.25 553L299.6 560.43L303.13 553.76Z"/><path d="M316.08 568.77L309.55 566.78L313.03 572.66Z"/><path d="M315.02 568.28L306.9 569.26L314.1 573.14Z"/><path d="M322.72 566.81L324.68 573.7L328.58 567.68Z"/><path d="M326.34 564.36L320.23 565.95L324.96 570.13Z"/><path d="M336.35 573.47L336.75 563.02L331.59 572.12Z"/><path d="M331.51 572.57L333.14 581.96L336.43 573.02Z"/><path d="M253.22 570.84L247.23 573.84L253.87 574.74Z"/><path d="M252.84 570.95L246.23 575.59L254.25 574.64Z"/><path d="M268.18 579.77L259.26 585.51L269.42 582.46Z"/><path d="M269.55 582.39L277.35 576.08L268.05 579.83Z"/><path d="M293.32 582.53L303.32 584.03L294.19 579.69Z"/><path d="M293.19 582.48L303.5 585.16L294.33 579.74Z"/><path d="M312.91 581.69L319.37 580.54L313.43 577.76Z"/><path d="M311.4 580.61L315.51 584.41L314.94 578.84Z"/><path d="M320.41 553.21L322.49 558.91L325.34 553.55Z"/><path d="M320.58 552.46L320.21 560.07L325.17 554.3Z"/><path d="M333.97 553.72L328.74 548.28L328.42 555.82Z"/><path d="M329.66 552.23L325.54 558.2L332.73 557.3Z"/>
</g>
<path d="M294.96 549.86h0M297.1 554.05h0M319.53 577.42h0M270.75 520.84h0M277.41 521.47h0M320.21 559.72h0M276.07 531.83h0M326.45 573.75h0M310.47 564.36h0M315.73 548.95h0" stroke="#26261f" stroke-width="2" stroke-linecap="round" fill="none" opacity="0.55"/>
<path d="M294.96 549.86h0M297.1 554.05h0M319.53 577.42h0M270.75 520.84h0M277.41 521.47h0M320.21 559.72h0M276.07 531.83h0M326.45 573.75h0M310.47 564.36h0M315.73 548.95h0" stroke="#e8e8dc" stroke-width="0.8" stroke-linecap="round" fill="none" opacity="0.8"/>
</g>
<text class="tb" x="328.9" y="578.4" font-size="6.5" text-anchor="middle" fill="#fff">25µm</text>
<line x1="322.9" y1="581.8" x2="335.8" y2="581.8" stroke="#fff" stroke-width="1.25"/>
</g>
<clipPath id="mc8"><rect x="340.9" y="519.4" width="86.4" height="65"/></clipPath>
<g clip-path="url(#mc8)">
<g filter="url(#fMicro)">
<rect x="338.9" y="517.4" width="90.4" height="69" fill="#8f9799"/>
<g fill="#4855a2" opacity="0.94" filter="url(#fSoft)">
<path d="M354.72 530.56L353.35 528.97L354.3 527.06L357.02 526.22L359.77 526.77L359.97 528.61L360.21 529.89L359.53 531.78L356.75 531.44ZM350.29 533.49L353 533.87L351.18 536.01L351.1 538.13L348.17 537.83L346.34 537.82L345.04 536.91L345.33 535.15L347.92 534.37ZM367.71 551.01L367.99 546.88L370.35 543.76L374 544.19L377.36 544.88L380.22 548.14L378.3 552.12L374.52 552.92L371.12 553.23ZM369.77 542.25L371.45 542.54L372.76 542.7L373.71 544.18L372.15 546.4L370.65 547.5L368.55 549L368.22 546.81L367.68 544.51ZM394.37 540.59L395.43 538.16L396.44 539.69L396.82 542.82L395.82 545.42L395.1 546.83L393.93 548.79L393.77 545.45L393.78 542.96ZM356.24 557.51L359.09 554.39L360.97 552.94L363.08 551.89L361.31 556.04L360.04 559.58L357.47 562.61L354.99 564.32L356.45 560.08ZM356.54 562.72L360.16 562.67L359.01 564.16L357.99 565.47L354.42 566.94L351.69 566.12L350.15 565.39L349.14 564.06L353.02 562.75ZM408 562.89L406.98 562.89L407.28 560.68L408.07 558.21L409.37 557.19L410.28 557.4L410.3 559.09L410.05 561.1L408.91 562.68ZM416.44 559.5L416.5 558.28L416.81 557.41L417.36 555.88L418.67 556.72L419.41 557.61L419.25 558.69L418.89 559.9L417.52 560.54ZM400.55 565.27L402.56 564.27L404.71 564.98L406.17 566.23L407.69 568.12L405.72 569.06L404.33 570.84L402.64 568.75L401.42 567.46ZM391.58 566.68L393.18 565.37L395.3 564.99L395.98 566.2L397.47 567.01L395.67 568.13L394.31 568.78L393.05 568.56L392.38 567.87ZM388.51 574.36L388.08 576.15L386.64 575.79L385.31 574.89L386.03 573.16L386.45 572.09L387.38 571.45L388.35 572.06L388.76 573.21ZM375.34 571.21L374.2 572.03L372.87 571.97L372.45 571.33L372.16 570.55L373.39 569.69L374.87 569.4L376.07 569.59L375.77 570.47ZM367.89 582.59L366.35 581.37L367.57 579.24L369.19 578.36L370.82 578.33L372.32 579.56L371.02 581.76L370.22 583.45L368.54 584.5ZM398.75 580.88L399.47 582.04L398.73 583.29L397.24 584.48L395.1 583.99L394.01 582.4L393.93 580.49L396.16 580.07L397.81 579.72ZM426.7 555.89L425.72 557.25L424.71 556.89L424.41 553.42L424.25 550.25L424.7 546.82L425.76 546.32L426.49 548.9L427.01 552.05ZM384.14 535.3L391.54 534.82L397.07 534.41L400.43 534.47L396.69 535.12L393.5 535.8L387.85 536.01L381.71 536.42L383.06 535.89Z"/>
<path d="M357.67 527.68L353 528.69L357.41 530.55Z"/><path d="M349.08 534.71L342.38 533.51L347.97 537.38Z"/><path d="M374.4 545.28L366.41 546.54L372.57 551.77Z"/><path d="M371.23 543.71L366.33 543.36L370.19 546.41Z"/><path d="M394.8 544.62L400.69 544.76L395.16 542.73Z"/><path d="M359.37 556.47L351.02 554.23L358.48 558.61Z"/><path d="M354.3 565.53L361.05 567.23L355.23 563.41Z"/><path d="M408.56 561.03L413.03 561.94L409.12 559.59Z"/><path d="M416.81 558.72L419 560.68L418.9 557.74Z"/><path d="M403.64 565.55L398.45 568.38L404.34 568.94Z"/><path d="M395.09 568.07L397.04 564.55L393.48 566.42Z"/><path d="M386.25 573.84L388.44 576.89L388.45 573.13Z"/><path d="M374.69 570.13L371.97 568.76L373.67 571.29Z"/><path d="M368.29 580.11L365.93 584.63L370.37 582.11Z"/><path d="M398.21 582.67L399.77 578.21L395.9 580.93Z"/><path d="M425.49 552.76L433.19 551.94L425.48 551.22Z"/><path d="M390.32 535.11L384.58 548.01L391.31 535.6Z"/>
</g>
<path d="M357.44 548.49h0M414.96 583.55h0M363.59 543.16h0M400.84 531.73h0M414.26 532.32h0M389 541.46h0M340.99 519.47h0M341.07 540.73h0M364.68 583.84h0M395.99 523.64h0M402.76 534.51h0M382.5 566.37h0M414.92 580.19h0M377.27 540.05h0M375.24 539.73h0M404.98 549.49h0M400.13 529.28h0M408.53 582.24h0M358.44 559.48h0M354.9 521.7h0M376.67 531.31h0M404.03 556.6h0M399.18 582.32h0M345.93 525.79h0M343.99 549.26h0M412.13 563.85h0M388.23 575.05h0M373.05 526.74h0M396.33 521.06h0M360.72 521.34h0" stroke="#26261f" stroke-width="2" stroke-linecap="round" fill="none" opacity="0.55"/>
<path d="M357.44 548.49h0M414.96 583.55h0M363.59 543.16h0M400.84 531.73h0M414.26 532.32h0M389 541.46h0M340.99 519.47h0M341.07 540.73h0M364.68 583.84h0M395.99 523.64h0M402.76 534.51h0M382.5 566.37h0M414.92 580.19h0M377.27 540.05h0M375.24 539.73h0M404.98 549.49h0M400.13 529.28h0M408.53 582.24h0M358.44 559.48h0M354.9 521.7h0M376.67 531.31h0M404.03 556.6h0M399.18 582.32h0M345.93 525.79h0M343.99 549.26h0M412.13 563.85h0M388.23 575.05h0M373.05 526.74h0M396.33 521.06h0M360.72 521.34h0" stroke="#e8e8dc" stroke-width="0.8" stroke-linecap="round" fill="none" opacity="0.8"/>
</g>
<text class="tb" x="418.4" y="578.4" font-size="6.5" text-anchor="middle" fill="#fff">25µm</text>
<line x1="412.4" y1="581.8" x2="425.3" y2="581.8" stroke="#fff" stroke-width="1.25"/>
</g>
<text class="tb" x="113.4" y="446.3" font-size="12.3" text-anchor="middle">Control</text>
<text class="tb" x="202.5" y="446.3" font-size="12.3" text-anchor="middle">ISO</text>
<text class="tb" x="292" y="446.3" font-size="12.3" text-anchor="middle">DMSO</text>
<text class="tb" x="381.2" y="446.3" font-size="12.3" text-anchor="middle">ISO</text>
<text class="tb" x="341.3" y="429.4" font-size="12.3" text-anchor="middle">TGF-β（10ng/ml）</text>
<line x1="250.7" y1="434.2" x2="426.8" y2="434.2" stroke="#000" stroke-width="1.1"/>
<text class="tb" x="67.8" y="486" font-size="12.3" text-anchor="middle" transform="rotate(-90 67.8 486)">HGC27</text>
<text class="tb" x="67.8" y="552.6" font-size="12.3" text-anchor="middle" transform="rotate(-90 67.8 552.6)">AGS</text>
<text class="tb" x="247.4" y="596.6" font-size="12.3" text-anchor="middle">Migration</text>
<clipPath id="mc9"><rect x="895.7" y="450.1" width="86.2" height="64.5"/></clipPath>
<g clip-path="url(#mc9)">
<g filter="url(#fMicro)">
<rect x="893.7" y="448.1" width="90.2" height="68.5" fill="#939da1"/>
<g fill="#454bb0" opacity="0.94" filter="url(#fSoft)">
<path d="M931.43 453.31L930.41 455.78L926.87 454.9L924.13 454.96L922.27 452.61L921.7 450.23L923.99 449.58L926.21 449.58L928.87 450.71ZM940.64 450.3L940.63 451.21L937.83 451.34L935.3 451.13L933.41 450.43L934.65 449.61L936.73 449.31L939.23 448.78L941.26 449.48ZM934.6 462.8L934.96 465.09L932.63 466.01L930.34 466.39L928.3 465.07L928.52 462.89L929.84 461.56L931.48 460.27L933.96 460.61ZM959.69 460.89L960.67 460.48L961.73 460.79L962.83 461.93L961.94 463.35L961.1 464.06L960.13 464.01L959.46 463.17L959.05 461.97ZM914.71 476.02L913.46 474.86L913.58 473.75L914.71 472.6L917.63 473.08L919.33 474.25L919.61 475.33L919.92 476.81L917.14 477.01ZM938.4 482.39L941.75 482.85L945.18 484.02L945.2 487.19L946.68 490.53L943.07 489.81L940.69 489.99L939.38 487.63L936.99 484.9ZM971.28 483.64L969.91 487.72L968.26 492.03L965.36 495.08L964.07 494.57L962.48 494.24L964.89 489.72L966.98 486.85L968.63 485.68ZM909.24 494.87L909.24 497.33L908.86 498.81L908.1 500.34L906.58 499.39L905.09 498.33L904.41 496.04L905.92 495.06L907.25 494.47ZM916.4 510.59L914.62 508.66L914.63 506.33L917.1 504.92L919.89 505.13L922.51 505.84L923.68 507.9L922.1 509.78L919.42 510.04Z"/>
<path d="M924.08 452.59L927.17 458.76L927.87 451.89Z"/><path d="M938.4 449.74L934.52 445.21L937.11 450.58Z"/><path d="M932.56 461.71L927.44 460.72L930.48 464.95Z"/><path d="M961.15 461.33L957.2 460.67L960.13 463.4Z"/><path d="M917.7 475.39L919.06 470.42L915.66 474.29Z"/><path d="M943.87 486.09L938.81 479.45L939.96 487.72Z"/><path d="M966.63 488.55L959.18 491.35L967.12 490.81Z"/><path d="M908.09 498.48L910.83 494.74L906.41 496.13Z"/><path d="M917.37 507.22L917.52 512.9L920.7 508.19Z"/>
</g>
<path d="M962.22 486.03h0M943.1 503.41h0M905.05 490.81h0M924.36 486.18h0M967.71 466.12h0M977.72 455.17h0M944.15 485.05h0M915.96 486.27h0M936.28 479.1h0M957.62 450.35h0M928.21 500.77h0M907.93 506.05h0M913.25 494.03h0M910.63 479.08h0M932.12 455.38h0M956.01 481.07h0M955.09 484.87h0M943.62 484.04h0M921.37 508.07h0M903.15 506.64h0M970.13 482.21h0M962.67 493.53h0M947.86 468.91h0M923.25 472.64h0M921.75 512h0M925.12 475.1h0M931.87 502.76h0M936.88 485.82h0M917.72 468.04h0M903.38 464.11h0" stroke="#26261f" stroke-width="2" stroke-linecap="round" fill="none" opacity="0.55"/>
<path d="M962.22 486.03h0M943.1 503.41h0M905.05 490.81h0M924.36 486.18h0M967.71 466.12h0M977.72 455.17h0M944.15 485.05h0M915.96 486.27h0M936.28 479.1h0M957.62 450.35h0M928.21 500.77h0M907.93 506.05h0M913.25 494.03h0M910.63 479.08h0M932.12 455.38h0M956.01 481.07h0M955.09 484.87h0M943.62 484.04h0M921.37 508.07h0M903.15 506.64h0M970.13 482.21h0M962.67 493.53h0M947.86 468.91h0M923.25 472.64h0M921.75 512h0M925.12 475.1h0M931.87 502.76h0M936.88 485.82h0M917.72 468.04h0M903.38 464.11h0" stroke="#e8e8dc" stroke-width="0.8" stroke-linecap="round" fill="none" opacity="0.8"/>
</g>
<text class="tb" x="973" y="508.6" font-size="6.5" text-anchor="middle" fill="#fff">25µm</text>
<line x1="967" y1="512" x2="979.9" y2="512" stroke="#fff" stroke-width="1.25"/>
</g>
<clipPath id="mc10"><rect x="986" y="450.1" width="86.2" height="64.5"/></clipPath>
<g clip-path="url(#mc10)">
<g filter="url(#fMicro)">
<rect x="984" y="448.1" width="90.2" height="68.5" fill="#9aa4a6"/>
<g fill="#454bb0" opacity="0.94" filter="url(#fSoft)">
<path d="M999.87 471.48L997.53 470.52L996.62 468.52L995.77 466.55L997.31 465.31L998.95 464L1000.84 465.25L1002.56 467.25L1001.02 469.22ZM1024.65 465.04L1023.34 466.66L1022.58 468.94L1020.68 467.88L1019.35 466.68L1019.5 464.84L1019.65 462.41L1021.78 463.07L1023.85 462.84ZM1045.45 461.54L1043.51 461.52L1043.38 459.62L1044.6 458.53L1045.67 456.88L1047.6 457.5L1047.74 459.39L1047.41 460.58L1046.94 462.13ZM1043.16 452.65L1043.51 451.31L1044.43 450.22L1045.93 450.13L1046.91 451.21L1047.16 452.54L1046.32 453.49L1045.25 453.69L1044.34 453.34ZM1020.63 475.35L1019.68 473.84L1021.37 472.52L1024.01 471.6L1026.29 472.8L1027.26 474.18L1027.26 475.83L1024.99 476.99L1021.78 477.11ZM1033.05 474.81L1031.06 477.66L1029.74 479.98L1027.9 480.66L1027 477.58L1028.5 473.95L1029.38 470.88L1031.18 469.08L1032.57 470.93ZM1006.98 509.33L1007.61 506.97L1009.45 504.83L1011.79 503.5L1012.4 505.7L1011.55 508.57L1009.82 510.8L1007.99 512.1L1006.07 512.3ZM1028.73 509.41L1030.06 510.19L1029.72 511.68L1029.01 512.82L1027.71 512.94L1026.46 512.56L1025.56 511.35L1025.93 509.77L1027.38 509.19ZM1011.71 475.77L1012.07 476.24L1011.88 476.76L1011.56 477.1L1011.06 477.36L1010.3 477.24L1010.18 476.46L1010.47 475.8L1011.11 475.49ZM1026.36 458.77L1025.52 458.67L1025.58 457.81L1025.47 456.98L1026.24 456.56L1027.1 456.66L1027.39 457.43L1027.37 458.07L1027.14 458.82Z"/>
<path d="M1000.32 468.63L1001.39 463.92L997.21 466.35Z"/><path d="M1020.59 464.04L1017.81 468.36L1022.7 466.79Z"/><path d="M1044.8 460.79L1048.28 462.71L1047.02 458.94Z"/><path d="M1046.12 452.96L1046.69 450.38L1044.31 451.52Z"/><path d="M1022.39 473.88L1021.25 480.47L1025.06 474.97Z"/><path d="M1030.28 473.71L1023.2 473.6L1029.65 476.53Z"/><path d="M1008.68 507.04L1003.66 510.36L1009.65 509.76Z"/><path d="M1027.39 510.12L1025.88 512.11L1028.38 512.22Z"/>
</g>
<path d="M998.55 491.47h0M1012.68 490.13h0M1050.67 489.22h0M1031.82 462.83h0M1015.93 513.18h0M1009.15 468.44h0M1028.52 485.31h0M1054.16 469.14h0M1069 451.53h0M1054.13 486.85h0M1063.68 459.97h0M1045.41 511.2h0M1043.5 457.35h0M1065.38 512.64h0M995.55 503.46h0M992.84 455.34h0M1054.56 496.53h0M1068.51 490.86h0M1030.11 467.65h0M1035.38 514.11h0M1041.74 506.57h0M1003.02 497.51h0M1049.08 454.67h0M1056.7 461.46h0M1004.73 454.05h0M1043.12 459.28h0M1070.11 450.1h0M1055.78 499.07h0M1035.07 486.99h0M1054.79 491.15h0M998.01 501.5h0M1016.5 487.75h0" stroke="#26261f" stroke-width="2" stroke-linecap="round" fill="none" opacity="0.55"/>
<path d="M998.55 491.47h0M1012.68 490.13h0M1050.67 489.22h0M1031.82 462.83h0M1015.93 513.18h0M1009.15 468.44h0M1028.52 485.31h0M1054.16 469.14h0M1069 451.53h0M1054.13 486.85h0M1063.68 459.97h0M1045.41 511.2h0M1043.5 457.35h0M1065.38 512.64h0M995.55 503.46h0M992.84 455.34h0M1054.56 496.53h0M1068.51 490.86h0M1030.11 467.65h0M1035.38 514.11h0M1041.74 506.57h0M1003.02 497.51h0M1049.08 454.67h0M1056.7 461.46h0M1004.73 454.05h0M1043.12 459.28h0M1070.11 450.1h0M1055.78 499.07h0M1035.07 486.99h0M1054.79 491.15h0M998.01 501.5h0M1016.5 487.75h0" stroke="#e8e8dc" stroke-width="0.8" stroke-linecap="round" fill="none" opacity="0.8"/>
</g>
<text class="tb" x="1063.3" y="508.6" font-size="6.5" text-anchor="middle" fill="#fff">25µm</text>
<line x1="1057.3" y1="512" x2="1070.2" y2="512" stroke="#fff" stroke-width="1.25"/>
</g>
<clipPath id="mc11"><rect x="1075.5" y="450.1" width="86.2" height="64.5"/></clipPath>
<g clip-path="url(#mc11)">
<g filter="url(#fMicro)">
<rect x="1073.5" y="448.1" width="90.2" height="68.5" fill="#b7c4d5"/>
<g fill="#333c9c" opacity="0.94" filter="url(#fSoft)">
<path d="M1098.57 453.9L1100.03 451.42L1101.5 449.05L1102.92 451.62L1104.07 453.27L1104.44 456.31L1103.02 458.52L1101.03 459.39L1100.05 456.42ZM1113.7 452.44L1116.42 450.59L1118.94 451.12L1120.92 453.14L1122.01 456.74L1120.13 459.65L1117.77 460.91L1115.29 459.84L1113.25 456.83ZM1128.25 454.78L1131.15 456.61L1131.32 459.74L1127.97 460.83L1125.61 462.12L1123.2 460.79L1122.49 458.68L1122.55 456.33L1124.73 453.92ZM1107.61 465.36L1107.94 468.09L1108 470.99L1104.75 471.82L1102.13 470.96L1098.89 469.88L1097.64 466.39L1100.79 463.84L1104.75 463.25ZM1109.19 471.84L1107.08 469.34L1110.38 468.23L1113.14 466.87L1115.52 468.7L1117.31 471.01L1115.2 473.1L1112.74 473.67L1110.08 473.95ZM1117.19 473.65L1117.25 469.9L1116.09 465.95L1120.06 463.33L1123.7 466.28L1128.35 466.99L1128.47 471.15L1125.61 474.25L1121.5 473.45ZM1134.69 465.5L1135.36 468.42L1131.92 469.3L1129.52 469.94L1126.79 469.14L1125.81 466.75L1126.03 463.78L1129.48 462.91L1132.63 463.44ZM1113.87 477.27L1116.64 476.09L1119.52 476.69L1121.04 478.23L1122.17 480.18L1120.27 481.93L1117.36 481.99L1114.13 481.79L1113.13 479.51ZM1125.65 482.88L1123.16 482.71L1123.03 480.71L1122.42 478.31L1125.4 477.94L1128.24 477.52L1128.95 479.77L1128.68 481.38L1128.1 483.35ZM1119.08 487.95L1121.65 487.76L1122.46 491.28L1123.82 493.77L1122.8 496.83L1120.69 498.11L1118.94 496.28L1117.62 494.13L1117.81 491.04ZM1140.66 452.15L1142.13 453.08L1142.73 454.51L1141.93 455.9L1140.26 457.11L1137.41 457.23L1136.73 455.02L1137.43 453.39L1138.24 451.42ZM1149.15 453.05L1152.59 453.35L1154.5 456.84L1154.6 461.04L1151.86 463.73L1148.74 462.78L1146.11 461.49L1144.58 458.08L1145.96 454.35ZM1154.9 451.87L1156.61 450.01L1159.26 450.54L1161.06 453.42L1160.37 457L1157.75 458.29L1155.51 457.75L1152.68 456.97L1152.66 453.45ZM1160.88 471.58L1158.53 472.82L1156.32 472.66L1154.74 469.23L1155.62 465.15L1156.47 461.72L1158.35 462.18L1160.33 462.75L1160.77 466.74ZM1157.93 479.31L1158.05 482.3L1154.68 483.66L1152.01 481.81L1148.87 480.73L1150.39 478.21L1152 476.6L1154.68 475.4L1156.76 477.25ZM1148.18 485.1L1149.92 486.63L1147.9 488L1145.65 489.51L1143.6 487.82L1141.54 486.76L1141.09 484.64L1144.32 484.28L1146.77 483.59ZM1158.53 488L1161.9 490.76L1159.06 494.13L1156.59 495.94L1153.45 496.18L1151.35 493.84L1150.35 490.77L1152.36 488.18L1155.31 487.38ZM1153.79 498.02L1155.68 499.7L1157.91 502.59L1154.65 504.28L1152.27 506.57L1148.78 505.56L1146.32 502.36L1149.38 499.59L1150.91 496.91ZM1162.24 502.62L1162.27 506.88L1160.87 510.54L1158.48 511.04L1156.54 508.28L1156.47 503.8L1157.79 501.17L1159.02 497.42L1161.34 498.44ZM1091.63 495.1L1090.86 492.06L1090.64 489.58L1090.81 486.07L1092.88 487.17L1094.96 486.43L1095.24 489.83L1095.11 492.81L1093.68 495.01ZM1077.95 493.12L1076.52 492.5L1075.68 491.61L1074.99 490.26L1076.61 489.67L1077.96 489.22L1079.44 489.77L1079.53 491.08L1079.9 492.75ZM1089.61 494.16L1092.72 493.81L1095.27 494.67L1093.48 495.7L1091.64 496.26L1089.17 496.51L1085.81 496.3L1084.93 495.15L1087.47 494.44ZM1107.05 502.16L1103.45 501.27L1100.85 500.71L1098.69 498.88L1100.47 496.85L1102.94 495.74L1106.01 495.72L1108.47 497.3L1109.99 500.02ZM1104.98 503.03L1109.18 504.78L1108.78 507.56L1106.91 509.83L1102.59 509.72L1098.48 509.77L1095.52 507.76L1095.23 504.77L1099.6 502.8ZM1082.26 504.44L1086.31 503.9L1087.86 505.03L1090.52 505.75L1088.5 506.62L1085.12 507.41L1080.91 506.9L1079.87 505.93L1080.26 505.13ZM1081.07 513.4L1078.51 512.71L1076.14 511.91L1076.61 510.48L1078.4 509.48L1081.2 508.78L1083.18 509.99L1084.25 511.19L1083.77 512.64ZM1110.49 506.95L1107.56 506.4L1108.77 505.35L1109.26 504.3L1112.45 504.23L1115.34 504.52L1116.56 505.45L1116.09 506.47L1113.22 506.75ZM1118.21 505.96L1120.24 504.79L1122.55 504.18L1125.76 503.8L1130.93 503.63L1131.43 504.68L1133.49 505.68L1128.24 505.94L1124.23 506.15ZM1136.6 501.77L1140.04 501.62L1141.49 502.47L1141.98 503.37L1139.03 503.78L1136.33 503.91L1133.32 503.65L1132.12 502.8L1133.54 501.98ZM1107.66 480.12L1106.79 480.15L1106.1 480.15L1105.88 478.54L1105.45 476.68L1106.07 475.13L1106.84 475.76L1107.83 475.61L1108.17 478.01ZM1095.22 512.99L1094.02 512.21L1092.42 511.24L1093.16 509.74L1095.03 509.21L1097.16 508.96L1097.85 510.49L1097.97 511.76L1096.75 512.6ZM1144.87 478.09L1145.36 479.1L1145.87 480.27L1143.38 480.32L1141.67 480.56L1139.54 480.11L1139.56 478.94L1141.09 478.23L1142.85 477.54Z"/>
<path d="M1103.34 454.86L1104.19 447.62L1100.28 453.78Z"/><path d="M1100.54 455.33L1105.17 458.53L1103.08 453.31Z"/><path d="M1119.9 456.41L1120.38 447.7L1115.61 455Z"/><path d="M1115.51 455.48L1116.97 463.36L1120 455.94Z"/><path d="M1128.32 458.74L1126.68 453.23L1123.83 458.22Z"/><path d="M1123.82 458.51L1126.16 464.47L1128.33 458.45Z"/><path d="M1101.67 469.74L1108.24 474.39L1106.11 466.63Z"/><path d="M1105.94 466.42L1098.56 461.98L1101.84 469.95Z"/><path d="M1111.93 468.72L1105.17 471.85L1112.49 473.2Z"/><path d="M1110.93 469.1L1106.64 474.81L1113.49 472.81Z"/><path d="M1125.06 469.23L1120.91 460.23L1118.78 469.91Z"/><path d="M1124.17 467.36L1114.86 462.4L1119.66 471.79Z"/><path d="M1131.79 465.17L1124.81 461.62L1128.68 468.43Z"/><path d="M1128.91 464.97L1124.59 470.88L1131.56 468.63Z"/><path d="M1118.77 481.29L1125.13 475.58L1116.75 477.26Z"/><path d="M1119.7 478.13L1113.46 472L1115.81 480.43Z"/><path d="M1127.77 480.03L1124.41 476.22L1124.39 481.3Z"/><path d="M1126.88 482.28L1131.73 477.86L1125.28 479.05Z"/><path d="M1121.99 494.2L1123.56 488.97L1119.07 492.08Z"/><path d="M1119.26 491.87L1116.39 497.27L1121.81 494.42Z"/><path d="M1138.38 453.42L1137.25 459.04L1141.51 455.22Z"/><path d="M1141.75 454.29L1139.87 449.14L1138.14 454.35Z"/><path d="M1152.34 458.15L1148.61 450.11L1146.96 458.81Z"/><path d="M1152.06 459.7L1153.04 451.77L1147.23 457.26Z"/><path d="M1154.47 455.13L1158.42 459.1L1158.69 453.51Z"/><path d="M1158.15 455.95L1161.29 449.79L1155.02 452.69Z"/><path d="M1159.72 467.25L1159.73 459.92L1156.22 466.35Z"/><path d="M1156.23 467.3L1160.19 474.54L1159.7 466.3Z"/><path d="M1151.66 479.96L1155.39 484.28L1155.96 478.6Z"/><path d="M1151.79 480.28L1156.26 484.23L1155.83 478.28Z"/><path d="M1143.89 485.38L1142.6 491.8L1147.09 487.04Z"/><path d="M1146.79 484.96L1141.87 482.43L1144.18 487.46Z"/><path d="M1158.09 493.91L1160.3 484.9L1152.3 489.6Z"/><path d="M1155.12 488.15L1146.72 491.94L1155.27 495.37Z"/><path d="M1149.51 500.25L1149.48 508.51L1155.34 502.68Z"/><path d="M1151.77 504.55L1160.41 503.14L1153.07 498.37Z"/><path d="M1161.07 503.69L1156.99 496.81L1157.63 504.78Z"/><path d="M1159.64 506.02L1168.12 502.85L1159.07 502.45Z"/><path d="M1093.73 491.7L1097.38 487.15L1091.87 489.04Z"/><path d="M1091.9 491.73L1098.11 493.88L1093.69 489.01Z"/><path d="M1078.33 492.17L1080.04 489.29L1076.76 489.96Z"/><path d="M1078.81 491.54L1078.7 487.98L1076.28 490.59Z"/><path d="M1090.55 495.96L1095.7 491.2L1089.5 494.49Z"/><path d="M1090.27 496.09L1097.32 493.21L1089.79 494.35Z"/><path d="M1104.99 496.72L1097.29 495L1102.79 500.66Z"/><path d="M1106.11 498.26L1102.66 492.37L1101.68 499.12Z"/><path d="M1100.59 505.81L1096.92 515.91L1104.42 508.21Z"/><path d="M1104.28 508.4L1109.5 498.12L1100.73 505.61Z"/><path d="M1084.28 506.5L1093.57 507.72L1084.68 504.74Z"/><path d="M1085.36 505.81L1086.14 497.79L1083.6 505.44Z"/><path d="M1080.8 512.43L1085.38 509.23L1079.84 509.9Z"/><path d="M1079.05 510.7L1078.33 516.55L1081.59 511.64Z"/><path d="M1112.81 504.95L1107.68 501.57L1111.61 506.3Z"/><path d="M1113.09 505.81L1113.61 499.19L1111.33 505.43Z"/><path d="M1126.7 504.28L1119.99 499.05L1125.45 505.58Z"/><path d="M1125.71 504.11L1114.46 510.14L1126.45 505.75Z"/><path d="M1136.58 503.27L1140.76 507.81L1137.75 502.43Z"/><path d="M1136.51 502.55L1134.83 507.97L1137.83 503.15Z"/><path d="M1107.39 477.89L1106.67 473.13L1105.94 477.89Z"/><path d="M1107.36 477.68L1105.69 474.65L1105.97 478.1Z"/><path d="M1094.22 511.29L1096.02 515.98L1096.92 511.04Z"/><path d="M1095.49 509.82L1090.95 511.46L1095.66 512.52Z"/><path d="M1143.62 479.32L1142.94 474.67L1141.81 479.23Z"/><path d="M1141.82 479.18L1142.25 483.79L1143.61 479.37Z"/>
</g>
<path d="M1132.03 504.28h0M1119.71 510.04h0M1137.57 463.61h0M1125.36 462.76h0M1128.72 471.1h0M1161.52 472.17h0M1143.58 504.02h0M1107.69 488.09h0M1095.56 474.31h0M1113.36 495.99h0M1119.31 460.48h0M1131.44 483.39h0M1120.77 478.84h0M1150.22 492.3h0" stroke="#26261f" stroke-width="2" stroke-linecap="round" fill="none" opacity="0.55"/>
<path d="M1132.03 504.28h0M1119.71 510.04h0M1137.57 463.61h0M1125.36 462.76h0M1128.72 471.1h0M1161.52 472.17h0M1143.58 504.02h0M1107.69 488.09h0M1095.56 474.31h0M1113.36 495.99h0M1119.31 460.48h0M1131.44 483.39h0M1120.77 478.84h0M1150.22 492.3h0" stroke="#e8e8dc" stroke-width="0.8" stroke-linecap="round" fill="none" opacity="0.8"/>
</g>
<text class="tb" x="1152.8" y="508.6" font-size="6.5" text-anchor="middle" fill="#fff">25µm</text>
<line x1="1146.8" y1="512" x2="1159.7" y2="512" stroke="#fff" stroke-width="1.25"/>
</g>
<clipPath id="mc12"><rect x="1165" y="450.1" width="86.2" height="64.5"/></clipPath>
<g clip-path="url(#mc12)">
<g filter="url(#fMicro)">
<rect x="1163" y="448.1" width="90.2" height="68.5" fill="#c6d0cb"/>
<g fill="#6a62a8" opacity="0.94" filter="url(#fSoft)">
<path d="M1165.49 471.66L1166.95 470.41L1169.18 471.37L1171.77 474.29L1172.54 478.26L1171.35 479.72L1170 480.41L1168.06 478.15L1166.71 475.36ZM1171.2 479.49L1170.35 478.47L1171.3 478.05L1172.69 478.05L1174.54 478.55L1175.6 479.55L1175.63 480.34L1174.79 480.85L1172.77 480.65ZM1226.14 459.17L1225.61 463.72L1224.93 466.44L1224.93 462.2L1225.36 456.81L1225.9 450.42L1226.55 448.61L1226.99 449.27L1226.87 454.25ZM1228.65 510.64L1228.05 512.91L1226.67 512.61L1225.24 512.23L1225.9 509.78L1225.76 507.29L1227.31 506.53L1228.47 507.26L1229.56 508.52ZM1234.34 451.99L1234.98 450.4L1235.75 448.47L1235.72 450.79L1235.67 452.62L1235.13 454.57L1234.63 455.55L1234.12 455.99L1234.2 454.12Z"/>
</g>
<path d="M1205.45 472.48h0M1166.56 480.02h0M1189.69 465.03h0M1211.65 471.55h0M1169.69 510.15h0M1248.76 465.38h0M1221.83 487.83h0M1186.43 484.82h0M1187.88 467.85h0M1204.08 453.01h0M1184.83 513.55h0M1231.39 471.48h0M1250.91 471.31h0M1238.38 470.9h0M1242.07 479.26h0M1240.15 458.93h0M1199 472.33h0M1232.38 505.92h0M1176.69 476.55h0M1179.88 454.35h0M1176.22 454.86h0M1191.01 477.88h0M1242.98 492.15h0M1230.58 471.42h0M1192.73 476.67h0M1185.06 451.39h0M1188.74 509.98h0M1169.4 482.61h0M1184.99 499.29h0M1168.28 483.01h0M1227.49 479.92h0M1177.37 507.43h0M1166.65 509.87h0M1235.53 507.11h0M1239.61 473.95h0M1218.97 480.42h0" stroke="#26261f" stroke-width="2" stroke-linecap="round" fill="none" opacity="0.55"/>
<path d="M1205.45 472.48h0M1166.56 480.02h0M1189.69 465.03h0M1211.65 471.55h0M1169.69 510.15h0M1248.76 465.38h0M1221.83 487.83h0M1186.43 484.82h0M1187.88 467.85h0M1204.08 453.01h0M1184.83 513.55h0M1231.39 471.48h0M1250.91 471.31h0M1238.38 470.9h0M1242.07 479.26h0M1240.15 458.93h0M1199 472.33h0M1232.38 505.92h0M1176.69 476.55h0M1179.88 454.35h0M1176.22 454.86h0M1191.01 477.88h0M1242.98 492.15h0M1230.58 471.42h0M1192.73 476.67h0M1185.06 451.39h0M1188.74 509.98h0M1169.4 482.61h0M1184.99 499.29h0M1168.28 483.01h0M1227.49 479.92h0M1177.37 507.43h0M1166.65 509.87h0M1235.53 507.11h0M1239.61 473.95h0M1218.97 480.42h0" stroke="#e8e8dc" stroke-width="0.8" stroke-linecap="round" fill="none" opacity="0.8"/>
</g>
<text class="tb" x="1242.3" y="508.6" font-size="6.5" text-anchor="middle" fill="#fff">25µm</text>
<line x1="1236.3" y1="512" x2="1249.2" y2="512" stroke="#fff" stroke-width="1.25"/>
</g>
<clipPath id="mc13"><rect x="895.7" y="518" width="86.2" height="64.8"/></clipPath>
<g clip-path="url(#mc13)">
<g filter="url(#fMicro)">
<rect x="893.7" y="516" width="90.2" height="68.8" fill="#9ca6a5"/>
<g fill="#454bb0" opacity="0.94" filter="url(#fSoft)">
<path d="M961.03 522.02L962.51 519.82L966.41 519.18L969.69 518.77L969.32 520.51L968.33 521.94L966.42 524.28L963.01 524.19L960.95 523.6ZM974.65 522.16L972.02 522.48L969.46 521.9L969.08 520.32L969.7 519L971.23 517.32L974.22 517.97L976.07 519.2L976.58 520.89ZM969.14 524.68L970.96 526.91L972.13 529.32L972.46 533.21L969.02 534.76L965.42 534.12L964.13 530.66L963.89 527.33L966.33 525.35ZM954.23 533.67L953.73 531.41L954.7 529.89L955.27 527.76L957.15 528.85L958.55 529.6L959.16 531.27L958 532.59L956.54 533.57ZM946.46 524.6L947.55 524.82L948.38 524.98L948.65 525.64L948.61 526.36L947.86 526.9L946.68 527.1L946.47 526.11L945.68 525.36ZM946.77 541.42L947.27 542.65L946.62 543.55L946.06 544.29L944.91 544.5L943.69 544.04L943.01 542.88L943.78 541.71L945.27 541.92ZM952.49 554.9L950.33 554.63L948.74 553.31L948.89 551.44L949.38 549.24L951.84 549.63L953.62 550.25L954.09 551.86L953.86 553.46ZM949.87 557.79L949.82 558.97L948.66 559.5L947.72 558.73L946.84 558.01L946.94 556.77L947.92 556.06L949.07 556.03L950.08 556.66ZM925.86 577.51L923.66 577.16L922.51 574.8L923.62 572.57L925.19 571.48L926.9 571.69L928.47 572.76L928.62 574.91L928.22 577.55ZM939.62 578.06L942 578.07L944.88 577.81L946.37 579.42L944.52 580.77L943 581.77L940.32 582.21L938.08 581.04L938.88 579.43ZM970.66 552.45L971.32 552.16L971.82 551.91L972.57 551.96L972.48 552.72L972.33 553.21L971.99 553.83L971.28 553.66L970.89 553.13Z"/>
<path d="M965.62 523.01L974.06 520.79L965.36 520.13Z"/><path d="M973.87 520.2L972.49 515.3L970.98 520.16Z"/><path d="M970.95 528.94L967.61 522.37L965.58 529.45Z"/><path d="M955.84 529.25L952.66 532.37L957.12 532.47Z"/><path d="M946.82 526.16L948.85 527.78L948.1 525.3Z"/><path d="M944.69 543.73L947.37 545.14L946.08 542.4Z"/><path d="M950.34 553.24L954.82 555.6L952.91 550.91Z"/><path d="M947.7 557.21L947.69 559.52L949.44 558.03Z"/><path d="M927.93 575.06L928.13 568.97L924.01 573.46Z"/><path d="M940.98 578.71L937.85 583.3L942.86 580.9Z"/>
</g>
<path d="M935.22 522.04h0M950.95 535.14h0M933.75 578.19h0M938.45 543.58h0M926.09 536.45h0M948.97 564.42h0M905.64 518.28h0M929.75 528.73h0M947.31 528.43h0M939.17 548.75h0M979.59 538.74h0M918.29 539.87h0M952.53 533.58h0M916.54 564.09h0M941.35 522.63h0M968.66 526.22h0M921.24 553.39h0M935.06 567.62h0M908.48 560.42h0M911.14 525.53h0M955.94 568.29h0M905 520.16h0M913 555.24h0M898.43 579.59h0M897.27 566.09h0M965.08 542.9h0M965.95 529.37h0M962.5 555.25h0M969.09 569.45h0M963.53 573.98h0M917.62 520.04h0M910.46 566.43h0M940.34 549.98h0M936.49 519.63h0M975.52 554.87h0M946.14 550.03h0" stroke="#26261f" stroke-width="2" stroke-linecap="round" fill="none" opacity="0.55"/>
<path d="M935.22 522.04h0M950.95 535.14h0M933.75 578.19h0M938.45 543.58h0M926.09 536.45h0M948.97 564.42h0M905.64 518.28h0M929.75 528.73h0M947.31 528.43h0M939.17 548.75h0M979.59 538.74h0M918.29 539.87h0M952.53 533.58h0M916.54 564.09h0M941.35 522.63h0M968.66 526.22h0M921.24 553.39h0M935.06 567.62h0M908.48 560.42h0M911.14 525.53h0M955.94 568.29h0M905 520.16h0M913 555.24h0M898.43 579.59h0M897.27 566.09h0M965.08 542.9h0M965.95 529.37h0M962.5 555.25h0M969.09 569.45h0M963.53 573.98h0M917.62 520.04h0M910.46 566.43h0M940.34 549.98h0M936.49 519.63h0M975.52 554.87h0M946.14 550.03h0" stroke="#e8e8dc" stroke-width="0.8" stroke-linecap="round" fill="none" opacity="0.8"/>
</g>
<text class="tb" x="973" y="576.8" font-size="6.5" text-anchor="middle" fill="#fff">25µm</text>
<line x1="967" y1="580.2" x2="979.9" y2="580.2" stroke="#fff" stroke-width="1.25"/>
</g>
<clipPath id="mc14"><rect x="986" y="518" width="86.2" height="64.8"/></clipPath>
<g clip-path="url(#mc14)">
<g filter="url(#fMicro)">
<rect x="984" y="516" width="90.2" height="68.8" fill="#a0a9ad"/>
<g fill="#454bb0" opacity="0.94" filter="url(#fSoft)">
<path d="M1007.77 525.47L1006.95 528.78L1005.42 532.63L1004.45 532.52L1003.08 533.64L1003.8 530.1L1005.23 526.69L1006.46 524.9L1007.73 523.46ZM1001.61 534.25L1002.8 535.22L1002.47 535.92L1001.04 535.84L999.44 535.71L998.62 534.76L998.27 534.1L998.62 533.6L999.94 533.6ZM1032.55 528.36L1033.41 529.48L1032.4 530.42L1031.14 531.29L1029.74 530.51L1029.53 529.07L1029.78 527.81L1030.82 526.9L1032.03 527.47ZM1018.81 537.12L1020.54 535.32L1022.56 535.67L1024.03 536.39L1024.94 537.99L1025.57 540.75L1023.26 542.14L1021.16 540.9L1019.6 539.57ZM1026.23 543.41L1025.51 542.33L1024.84 541.2L1026.17 540.55L1027.36 539.79L1028.43 540.65L1028.87 541.53L1029.42 542.88L1027.84 543.47ZM1019.59 543.06L1021.75 545.5L1023.14 548.69L1022.94 552.5L1019.64 552.63L1016.72 550.64L1014.49 547.51L1015.18 544.43L1016.18 540.97ZM1025.9 555.57L1026.07 553.98L1027.79 552.59L1029.75 552.72L1032.09 552.15L1032.99 553.46L1030.96 554.8L1029.56 555.66L1027.92 555.8ZM1033.65 553.63L1035.1 550.44L1036.78 548.68L1038.41 549.26L1039.16 552.49L1038.53 557.06L1036.54 559.62L1034.86 559.33L1034.46 556.41ZM1055.4 536.7L1054.48 538.44L1053.73 539.8L1052.26 540.09L1050.78 539.23L1049.86 537.19L1051.37 535.73L1052.62 534.4L1054.11 535.35ZM1047.43 533.81L1048.31 534.21L1048.73 535.31L1048.24 536.28L1047.59 536.89L1046.72 536.93L1046.02 536.15L1046.04 534.99L1046.66 534.26ZM1013.49 566.19L1013.34 565.3L1013.61 564.55L1014.39 564.04L1015.35 564.21L1016.3 564.69L1016.99 565.84L1015.66 566.47L1014.42 567.17ZM990.45 576.11L992.01 575.89L992.81 576.9L993.13 577.62L993.8 578.85L992.29 579.08L990.99 579.27L989.69 578.58L989.5 577.22ZM988.87 555.53L989.54 555.25L990.18 554.38L990.33 556.17L990.6 557.4L990.44 559.16L989.7 559.79L988.99 559.02L988.63 557.3Z"/>
<path d="M1004.96 528.29L1004.01 534.53L1006.44 528.71Z"/><path d="M999.82 535.21L1002.39 536.35L1000.49 534.27Z"/><path d="M1031.21 530.06L1034.58 529.31L1031.49 527.77Z"/><path d="M1022.72 540.09L1027.2 537.22L1021.96 536.32Z"/><path d="M1026.22 542.29L1028.93 544.4L1028.17 541.05Z"/><path d="M1016.49 546.88L1017.9 554.12L1021.26 547.56Z"/><path d="M1028.43 554.94L1031.9 556.96L1030.11 553.36Z"/><path d="M1034.82 553.76L1034.31 560.77L1037.59 554.55Z"/><path d="M1053.66 538.7L1056.19 535.22L1052.03 536.32Z"/><path d="M1047.24 534.67L1045.04 535.59L1047.35 536.2Z"/><path d="M1015.6 564.88L1013.51 562.3L1013.82 565.61Z"/><path d="M991.98 576.77L989.35 577.33L991.68 578.68Z"/><path d="M989.59 556.37L986.61 557.84L989.91 557.48Z"/>
</g>
<path d="M1027.25 551.49h0M1004.73 542.07h0M1027.31 519.21h0M1035.3 522.18h0M1034.22 521.84h0M1001.94 547.69h0M1051.51 582.05h0M1052.01 571.02h0M1023.53 551.55h0M1033.13 580.8h0M1059.11 518.84h0M1045.49 564.62h0M1062.79 578.28h0M1020.16 544.87h0M1006.3 530.46h0M1061.7 566.08h0M1057.56 538.95h0M1051.83 519.05h0M1028.96 538.24h0M1011.89 582.09h0M986.28 579.88h0M1043.61 582.36h0M1020.96 576.3h0M1033.55 555.32h0M1040.1 534.95h0M1038.18 529.38h0M988.8 564.72h0M988.29 577.71h0M1005.53 577.04h0M1012.5 564.36h0M1015.18 563.01h0M1001.55 532.79h0" stroke="#26261f" stroke-width="2" stroke-linecap="round" fill="none" opacity="0.55"/>
<path d="M1027.25 551.49h0M1004.73 542.07h0M1027.31 519.21h0M1035.3 522.18h0M1034.22 521.84h0M1001.94 547.69h0M1051.51 582.05h0M1052.01 571.02h0M1023.53 551.55h0M1033.13 580.8h0M1059.11 518.84h0M1045.49 564.62h0M1062.79 578.28h0M1020.16 544.87h0M1006.3 530.46h0M1061.7 566.08h0M1057.56 538.95h0M1051.83 519.05h0M1028.96 538.24h0M1011.89 582.09h0M986.28 579.88h0M1043.61 582.36h0M1020.96 576.3h0M1033.55 555.32h0M1040.1 534.95h0M1038.18 529.38h0M988.8 564.72h0M988.29 577.71h0M1005.53 577.04h0M1012.5 564.36h0M1015.18 563.01h0M1001.55 532.79h0" stroke="#e8e8dc" stroke-width="0.8" stroke-linecap="round" fill="none" opacity="0.8"/>
</g>
<text class="tb" x="1063.3" y="576.8" font-size="6.5" text-anchor="middle" fill="#fff">25µm</text>
<line x1="1057.3" y1="580.2" x2="1070.2" y2="580.2" stroke="#fff" stroke-width="1.25"/>
</g>
<clipPath id="mc15"><rect x="1075.5" y="518" width="86.2" height="64.8"/></clipPath>
<g clip-path="url(#mc15)">
<g filter="url(#fMicro)">
<rect x="1073.5" y="516" width="90.2" height="68.8" fill="#9199b9"/>
<g fill="#4852b4" opacity="0.94" filter="url(#fSoft)">
<path d="M1083.5 532.48L1077.98 530.95L1077.71 528.04L1076.97 525.08L1082.26 523.36L1086.99 525.24L1091.6 526.22L1090.27 528.64L1088.17 530.54ZM1094.17 531.18L1092.64 530.08L1091.57 528.07L1093.96 527.01L1096.33 525.51L1097.69 527.74L1098.18 529.17L1097.96 530.77L1096.25 532.08ZM1107.75 534.05L1104.16 531.55L1101.45 529.02L1102.6 525.7L1104.71 522.4L1109.12 522.7L1112.23 525.02L1112 528.29L1110.33 530.58ZM1123.74 524.96L1122.76 527.85L1119.59 526.37L1117.09 525.58L1117.3 523.36L1117.51 521.03L1120.26 520.36L1123.85 519.85L1126 522.52ZM1122.88 528.85L1124.32 529.6L1126.09 531.72L1124.95 534.64L1123.32 536.7L1121.19 536.09L1119.37 534L1120.24 530.86L1121.34 529ZM1153.33 523.73L1154.59 523.92L1155.16 524.97L1154.5 525.93L1153.49 526.48L1152.31 526.3L1151.54 525.57L1151.74 524.67L1152.14 523.75ZM1157.62 535.98L1155.9 534.72L1156.49 533.17L1156.64 531.75L1158.5 531.37L1160.26 531.74L1160.83 532.97L1161.42 534.39L1159.72 535.19ZM1118.46 547L1120.53 544.52L1123.38 546.13L1124.19 548.7L1123.56 550.93L1122.31 553.85L1119.47 552.01L1116.55 551.44L1116.73 548.67ZM1158.46 548.29L1156.23 550.93L1153.55 552.12L1149.49 553.27L1146.02 549.94L1148.86 546.01L1150.42 542.36L1154.93 540.69L1156.92 545.16ZM1160.21 552.28L1160.6 555.78L1161.5 558.48L1159.79 560.72L1157.35 561.1L1155.71 559.2L1154.1 556.92L1155.76 554.7L1157.27 552.15ZM1152.73 566.84L1152.34 564.89L1153.79 563.73L1155.02 561.78L1157.45 562.25L1157.7 564.67L1157.46 566.4L1156.18 567.57L1154.26 568.3ZM1075.94 548.75L1076.96 545.86L1079.42 544.57L1082.45 544.81L1082.39 548.54L1082.89 551.3L1081.12 553.55L1078.78 552.63L1076.81 551.49ZM1078.43 564.71L1078.16 562.02L1080.07 558.68L1085.12 558.7L1087.54 561.64L1088.33 564.3L1086.34 566.42L1083.54 569.22L1078.75 568.27ZM1092 553.72L1096.43 554.41L1101.25 554.79L1101.78 559.61L1099.39 562.81L1096.78 566.05L1093.36 563.66L1090.41 561.66L1089.81 557.69ZM1110.88 561.74L1107.3 561.88L1105.75 559.64L1104.85 557.54L1105.72 554.76L1109.77 554.04L1113.05 555.57L1114.88 557.85L1112.44 559.72ZM1088.21 553.45L1089.65 552.48L1091.15 553.02L1092.51 554.38L1091.75 556.41L1090.96 557.77L1089.68 557.95L1088.54 557.16L1087.36 555.49ZM1090.45 567.66L1092.18 565.85L1094.89 566.58L1096.9 568.28L1096.63 570.68L1095.07 572.93L1091.83 573.29L1090.4 570.99L1088.37 569.29ZM1110.74 573.04L1106.43 573.32L1100.67 572.91L1100.88 570.57L1103.92 569.18L1107.46 568.39L1111.68 568.67L1116.42 569.86L1112.71 571.64ZM1128.33 568.56L1130.72 570.66L1130.28 573.87L1128.6 576.92L1124.92 577.66L1122.45 575.02L1121.13 572.01L1122.43 568.9L1125.34 567ZM1132.99 575.34L1135 576.45L1136.17 578.68L1134.03 580.43L1131.38 580.15L1129.1 579.77L1128.91 577.93L1129.04 576.3L1130.48 574.4ZM1113.93 578.68L1112.36 577.08L1113.97 575.17L1118.16 574.36L1122.61 575.16L1122.03 577.48L1122.43 579.26L1119.65 580.9L1115.76 580.03ZM1082.77 576.11L1081.47 578.82L1078.43 579.17L1076.56 577.18L1074.37 575.21L1076.89 573.42L1078.07 571.27L1080.14 572.56L1082.1 573.6ZM1139.97 567.77L1140.26 566.86L1141.39 566.8L1142.54 566.91L1143.24 567.81L1143.2 569.01L1141.78 569.2L1140.76 569.18L1140.07 568.57ZM1134.69 563.18L1135.79 564.29L1135.69 565.8L1135.01 567.15L1133.56 566.77L1132.45 566.48L1131.08 565.45L1131.47 563.66L1133.14 563.05Z"/>
<path d="M1082.35 527.05L1081.33 536.61L1086.6 528.57Z"/><path d="M1085.65 525.88L1076.5 522.99L1083.31 529.74Z"/><path d="M1093.9 528.53L1093.7 533.89L1097.25 529.86Z"/><path d="M1097.38 529.17L1095.5 523.56L1093.77 529.22Z"/><path d="M1104.21 527.59L1106.69 537.45L1110.51 528.03Z"/><path d="M1108.79 530.63L1114.6 524.14L1105.93 524.99Z"/><path d="M1120.57 521.39L1113.32 523.51L1120.49 525.9Z"/><path d="M1122.53 522.61L1117.66 518.11L1118.53 524.69Z"/><path d="M1120.86 531.53L1120.83 539.05L1124.36 532.41Z"/><path d="M1122.66 530.16L1115.59 531.79L1122.56 533.77Z"/><path d="M1153.82 525.6L1154.53 523.25L1152.41 524.47Z"/><path d="M1152.67 524.25L1151.03 526.22L1153.56 525.82Z"/><path d="M1159.88 532.76L1157.1 530.16L1157.45 533.95Z"/><path d="M1158.81 532.01L1154.56 532.89L1158.51 534.7Z"/><path d="M1118.42 547.91L1116.36 555.6L1122.64 550.7Z"/><path d="M1118.6 550.93L1124.09 553.5L1122.46 547.67Z"/><path d="M1150.13 549.95L1157.88 554.91L1156.1 545.88Z"/><path d="M1151.96 551.33L1161.38 550.71L1154.27 544.49Z"/><path d="M1156.77 558.84L1162.23 559.59L1159.17 555.01Z"/><path d="M1159.75 558.31L1161.59 552.26L1156.19 555.54Z"/><path d="M1155.5 563.47L1150.93 564.51L1154.89 567.02Z"/><path d="M1156.36 563.86L1152.28 562.8L1154.03 566.63Z"/><path d="M1077.37 549.36L1079.8 555.75L1081.88 549.24Z"/><path d="M1081.78 548.64L1077.95 543.83L1077.47 549.96Z"/><path d="M1082.32 566.45L1091.01 566.22L1083.87 561.26Z"/><path d="M1081.5 561.67L1077 568.29L1084.68 566.05Z"/><path d="M1092.26 561.14L1098.4 566.18L1098.88 558.26Z"/><path d="M1093.09 557.08L1088.54 566.37L1098.06 562.32Z"/><path d="M1107.19 558.51L1110.04 565.23L1111.69 558.12Z"/><path d="M1108.65 560.43L1116.21 560.85L1110.23 556.2Z"/><path d="M1089.66 554.24L1085.26 556.86L1090.39 556.84Z"/><path d="M1089.91 554.19L1086.02 555.9L1090.15 556.89Z"/><path d="M1091.66 567.46L1087.63 572.44L1093.94 571.35Z"/><path d="M1090.72 570.29L1095.6 575.98L1094.87 568.52Z"/><path d="M1106.25 570.88L1108.61 582.31L1109.85 570.71Z"/><path d="M1107.12 572.34L1117.43 576.4L1108.98 569.24Z"/><path d="M1124.58 569.92L1120.47 575.89L1127.57 574.44Z"/><path d="M1124.69 569.85L1119.82 575.89L1127.46 574.51Z"/><path d="M1130 578.51L1134.03 582.71L1133.25 576.94Z"/><path d="M1133.43 577.83L1131.98 571.47L1129.82 577.62Z"/><path d="M1119.43 578.4L1121.55 568.33L1116.08 577.05Z"/><path d="M1116.17 576.86L1113.55 585.48L1119.34 578.59Z"/><path d="M1076.69 574.67L1078.37 579.37L1081.17 575.24Z"/><path d="M1080.51 576.57L1083.2 570.8L1077.36 573.33Z"/><path d="M1141.64 568.87L1144 567.03L1141.01 567.17Z"/><path d="M1140.6 567.48L1139.87 570L1142.06 568.55Z"/><path d="M1134.84 564.51L1132.03 562.65L1132.56 565.98Z"/><path d="M1132.66 564.38L1131.62 567.77L1134.75 566.11Z"/>
</g>
<path d="M1142.88 576.86h0M1097.42 547.5h0M1113.47 566.47h0M1150.67 581.02h0M1133.21 557.11h0M1085.18 521.9h0M1077.35 558.18h0M1125.21 520.49h0M1151.67 562.73h0M1134.86 534.1h0M1101.64 553.88h0M1104.25 553.12h0M1131.84 556.92h0M1103.5 582.42h0" stroke="#26261f" stroke-width="2" stroke-linecap="round" fill="none" opacity="0.55"/>
<path d="M1142.88 576.86h0M1097.42 547.5h0M1113.47 566.47h0M1150.67 581.02h0M1133.21 557.11h0M1085.18 521.9h0M1077.35 558.18h0M1125.21 520.49h0M1151.67 562.73h0M1134.86 534.1h0M1101.64 553.88h0M1104.25 553.12h0M1131.84 556.92h0M1103.5 582.42h0" stroke="#e8e8dc" stroke-width="0.8" stroke-linecap="round" fill="none" opacity="0.8"/>
</g>
<text class="tb" x="1152.8" y="576.8" font-size="6.5" text-anchor="middle" fill="#fff">25µm</text>
<line x1="1146.8" y1="580.2" x2="1159.7" y2="580.2" stroke="#fff" stroke-width="1.25"/>
</g>
<clipPath id="mc16"><rect x="1165" y="518" width="86.2" height="64.8"/></clipPath>
<g clip-path="url(#mc16)">
<g filter="url(#fMicro)">
<rect x="1163" y="516" width="90.2" height="68.8" fill="#979c9c"/>
<g fill="#4650a0" opacity="0.94" filter="url(#fSoft)">
<path d="M1181.97 525.67L1181.57 524.35L1181.98 522.37L1182.42 520.43L1183.43 518.73L1184.47 518.66L1184.31 521.06L1183.72 523.05L1182.98 525.28ZM1198.52 535.09L1197.69 536.02L1196.72 535.66L1196.42 534.01L1196.13 532.34L1196.89 531.28L1197.7 531.44L1198.58 531.74L1198.52 533.42ZM1209.09 533.45L1208.13 534.19L1206.68 534.26L1205.22 534.37L1204.13 533.72L1204.98 532.99L1205.69 532.47L1207.15 531.96L1208.11 532.73ZM1206.72 539.53L1208.09 539.67L1209.77 539.59L1209.92 540.9L1209.8 542.15L1208.46 543.02L1206.78 542.69L1206.14 541.57L1206.11 540.54ZM1211.71 551.44L1210.49 550.27L1211.36 548.64L1211.83 547.26L1213.15 546.62L1214.32 547.7L1214.68 549.34L1214.39 551.09L1213.01 551.42ZM1219.98 555.51L1219.12 553.83L1217.78 551.89L1219.25 550.05L1221.25 549.29L1223.17 550.3L1224.28 552.36L1223.31 554.43L1221.73 555.32ZM1222.39 555.66L1222.99 557.88L1222.69 559.58L1221.6 559.75L1220.38 558.96L1219.91 557.02L1219.09 554.92L1219.99 554.16L1221.1 554.95ZM1216.63 557.67L1215.98 557.98L1214.66 557.86L1213.74 557.1L1212.74 556.4L1212.81 555.72L1214.15 555.69L1215.63 556.36L1217.07 557.11ZM1234.08 562.02L1234.09 563.83L1232.9 563.85L1231.67 564.08L1231.12 562.35L1231.22 560.51L1232.08 559.02L1233.35 559.36L1234.29 560.4ZM1243.16 558.61L1242.45 556.38L1241.2 554.08L1242.76 554.01L1243.79 552.71L1245.5 554.86L1246.83 557.34L1246.2 559.03L1244.79 559.14ZM1231.24 575.5L1229.8 575.69L1228.75 575.68L1227.88 575L1227.36 573.77L1228.33 572.84L1229.48 572.61L1230.73 572.84L1231.02 574.08ZM1165.88 569.32L1166.83 568.19L1167.01 566.57L1168.79 567.24L1170.28 567.56L1170.24 568.79L1169.89 569.85L1168.69 570.87L1167.08 570.29ZM1200.23 567.35L1200.26 569.21L1200.47 571.07L1199.23 571.35L1198.14 571.78L1197.61 570.3L1197.35 568.8L1197.91 567.36L1199.03 566.59Z"/>
<path d="M1182.69 523L1187.68 523.76L1183.16 521.53Z"/><path d="M1197.72 534.09L1201.12 532.18L1197.25 532.62Z"/><path d="M1207.08 533.86L1208.64 530.93L1205.92 532.84Z"/><path d="M1208.9 541.53L1209.74 537.51L1206.87 540.44Z"/><path d="M1211.6 549.49L1213.25 552.37L1213.88 549.11Z"/><path d="M1219.36 553.1L1221.79 556.48L1222.76 552.43Z"/><path d="M1221.4 557.83L1225.3 555.32L1220.72 556.03Z"/><path d="M1214.36 557.28L1216.48 559.1L1215.28 556.58Z"/><path d="M1233.73 562.14L1234.21 558.44L1231.95 561.42Z"/><path d="M1243.95 555.08L1239.08 556.16L1243.92 557.39Z"/><path d="M1228.33 574.74L1230.64 577.02L1230.43 573.78Z"/><path d="M1168.49 569.86L1171.19 568.4L1168.24 567.56Z"/><path d="M1198.01 568.98L1197.63 571.91L1199.73 569.83Z"/>
</g>
<path d="M1189.15 566.01h0M1194.26 547.49h0M1221.37 544.44h0M1241.11 544.19h0M1206.68 574.58h0M1169.66 542.87h0M1222.86 560.76h0M1202.98 546.36h0M1243.3 576.23h0M1187.52 546.36h0M1165.79 524.96h0M1195.06 541.83h0M1225.48 527.09h0M1203.96 572.59h0M1175.39 532.03h0M1195.53 555.56h0M1246.15 531.34h0M1204.21 557.09h0M1235.84 577.57h0M1242.58 528.74h0M1193.81 520.98h0M1167.89 543.78h0M1202.61 557.72h0M1246.28 525.62h0M1248.27 563.87h0M1176.6 562.49h0M1175.46 522.71h0M1221.74 527.07h0M1222.22 545.64h0M1222.38 538.43h0M1217.79 524.23h0M1239.26 569.57h0M1196.31 560.04h0M1173.09 558.62h0M1185.56 580.28h0M1175.29 519.9h0M1241.79 562.38h0M1218.42 523.7h0M1203 565.3h0M1171.13 569.59h0" stroke="#26261f" stroke-width="2" stroke-linecap="round" fill="none" opacity="0.55"/>
<path d="M1189.15 566.01h0M1194.26 547.49h0M1221.37 544.44h0M1241.11 544.19h0M1206.68 574.58h0M1169.66 542.87h0M1222.86 560.76h0M1202.98 546.36h0M1243.3 576.23h0M1187.52 546.36h0M1165.79 524.96h0M1195.06 541.83h0M1225.48 527.09h0M1203.96 572.59h0M1175.39 532.03h0M1195.53 555.56h0M1246.15 531.34h0M1204.21 557.09h0M1235.84 577.57h0M1242.58 528.74h0M1193.81 520.98h0M1167.89 543.78h0M1202.61 557.72h0M1246.28 525.62h0M1248.27 563.87h0M1176.6 562.49h0M1175.46 522.71h0M1221.74 527.07h0M1222.22 545.64h0M1222.38 538.43h0M1217.79 524.23h0M1239.26 569.57h0M1196.31 560.04h0M1173.09 558.62h0M1185.56 580.28h0M1175.29 519.9h0M1241.79 562.38h0M1218.42 523.7h0M1203 565.3h0M1171.13 569.59h0" stroke="#e8e8dc" stroke-width="0.8" stroke-linecap="round" fill="none" opacity="0.8"/>
</g>
<text class="tb" x="1242.3" y="576.8" font-size="6.5" text-anchor="middle" fill="#fff">25µm</text>
<line x1="1236.3" y1="580.2" x2="1249.2" y2="580.2" stroke="#fff" stroke-width="1.25"/>
</g>
<text class="tb" x="937.5" y="443.1" font-size="12.3" text-anchor="middle">Control</text>
<text class="tb" x="1026.8" y="443.1" font-size="12.3" text-anchor="middle">ISO</text>
<text class="tb" x="1116.6" y="443.1" font-size="12.3" text-anchor="middle">DMSO</text>
<text class="tb" x="1205.6" y="443.1" font-size="12.3" text-anchor="middle">ISO</text>
<text class="tb" x="1165.7" y="426.5" font-size="12.3" text-anchor="middle">TGF-β（10ng/ml）</text>
<line x1="1075.6" y1="431.5" x2="1250.5" y2="431.5" stroke="#000" stroke-width="1.1"/>
<text class="tb" x="891.4" y="483.3" font-size="12.3" text-anchor="middle" transform="rotate(-90 891.4 483.3)">HGC27</text>
<text class="tb" x="891.4" y="551.2" font-size="12.3" text-anchor="middle" transform="rotate(-90 891.4 551.2)">AGS</text>
<text class="tb" x="1073.7" y="596.4" font-size="12.3" text-anchor="middle" letter-spacing="0.4">Invation</text>
<rect x="74" y="763.8" width="89.3" height="74.1" fill="#515151" filter="url(#fW)"/>
<rect x="101.73" y="763.8" width="27.85" height="74.1" fill="#696969" filter="url(#fGap)"/>
<line x1="101.73" y1="763.8" x2="101.73" y2="837.9" stroke="#0c0c0c" stroke-width="1" stroke-dasharray="4.3 2.7"/>
<line x1="129.58" y1="763.8" x2="129.58" y2="837.9" stroke="#0c0c0c" stroke-width="1" stroke-dasharray="4.3 2.7"/>
<circle cx="114" cy="802" r="1.2" fill="#1a1a1a" opacity="0.35"/>
<circle cx="119" cy="804" r="1.2" fill="#1a1a1a" opacity="0.35"/>
<circle cx="126" cy="783" r="1.2" fill="#1a1a1a" opacity="0.3"/>
<line x1="138.2" y1="835.7" x2="162.4" y2="835.7" stroke="#fff" stroke-width="1" opacity="0.92"/>
<text class="tb" x="150.6" y="834.3" font-size="4.2" text-anchor="middle" fill="#fff">500um</text>
<rect x="167.6" y="763.8" width="89.3" height="74.1" fill="#555555" filter="url(#fW)"/>
<rect x="192.17" y="763.8" width="27.28" height="74.1" fill="#6e6e6e" filter="url(#fGap)"/>
<line x1="192.17" y1="763.8" x2="192.17" y2="837.9" stroke="#0c0c0c" stroke-width="1" stroke-dasharray="4.3 2.7"/>
<line x1="219.44" y1="763.8" x2="219.44" y2="837.9" stroke="#0c0c0c" stroke-width="1" stroke-dasharray="4.3 2.7"/>
<line x1="231.8" y1="835.7" x2="256" y2="835.7" stroke="#fff" stroke-width="1" opacity="0.92"/>
<text class="tb" x="244.2" y="834.3" font-size="4.2" text-anchor="middle" fill="#fff">500um</text>
<rect x="261.1" y="763.8" width="89.3" height="74.1" fill="#535353" filter="url(#fW)"/>
<rect x="291.51" y="763.8" width="21.25" height="74.1" fill="#6a6a6a" filter="url(#fGap)"/>
<line x1="291.51" y1="763.8" x2="291.51" y2="837.9" stroke="#0c0c0c" stroke-width="1" stroke-dasharray="4.3 2.7"/>
<line x1="312.75" y1="763.8" x2="312.75" y2="837.9" stroke="#0c0c0c" stroke-width="1" stroke-dasharray="4.3 2.7"/>
<circle cx="339" cy="789" r="1.3" fill="#1a1a1a" opacity="0.6"/>
<line x1="325.3" y1="835.7" x2="349.5" y2="835.7" stroke="#fff" stroke-width="1" opacity="0.92"/>
<text class="tb" x="337.7" y="834.3" font-size="4.2" text-anchor="middle" fill="#fff">500um</text>
<rect x="354.7" y="763.8" width="89.3" height="74.1" fill="#4f4f4f" filter="url(#fW)"/>
<rect x="390.27" y="763.8" width="22.11" height="74.1" fill="#696969" filter="url(#fGap)"/>
<line x1="390.27" y1="763.8" x2="390.27" y2="837.9" stroke="#0c0c0c" stroke-width="1" stroke-dasharray="4.3 2.7"/>
<line x1="412.38" y1="763.8" x2="412.38" y2="837.9" stroke="#0c0c0c" stroke-width="1" stroke-dasharray="4.3 2.7"/>
<circle cx="384.5" cy="805" r="1.5" fill="#1a1a1a" opacity="0.7"/>
<circle cx="392" cy="827" r="1.8" fill="#1a1a1a" opacity="0.7"/>
<circle cx="401" cy="786" r="1.3" fill="#1a1a1a" opacity="0.6"/>
<circle cx="440" cy="779" r="1.5" fill="#1a1a1a" opacity="0.6"/>
<line x1="418.9" y1="835.7" x2="443.1" y2="835.7" stroke="#fff" stroke-width="1" opacity="0.92"/>
<text class="tb" x="431.3" y="834.3" font-size="4.2" text-anchor="middle" fill="#fff">500um</text>
<rect x="74" y="841.3" width="89.3" height="73.9" fill="#484848" filter="url(#fW)"/>
<rect x="105.46" y="841.3" width="24.98" height="73.9" fill="#5b5b5b" filter="url(#fGap)"/>
<line x1="105.46" y1="841.3" x2="105.46" y2="915.2" stroke="#0c0c0c" stroke-width="1" stroke-dasharray="4.3 2.7"/>
<line x1="130.44" y1="841.3" x2="130.44" y2="915.2" stroke="#0c0c0c" stroke-width="1" stroke-dasharray="4.3 2.7"/>
<line x1="138.2" y1="913" x2="162.4" y2="913" stroke="#fff" stroke-width="1" opacity="0.92"/>
<text class="tb" x="150.6" y="911.6" font-size="4.2" text-anchor="middle" fill="#fff">500um</text>
<rect x="167.6" y="841.3" width="89.3" height="73.9" fill="#474747" filter="url(#fW)"/>
<rect x="196.47" y="841.3" width="19.24" height="73.9" fill="#646464" filter="url(#fGap)"/>
<line x1="196.47" y1="841.3" x2="196.47" y2="915.2" stroke="#0c0c0c" stroke-width="1" stroke-dasharray="4.3 2.7"/>
<line x1="215.71" y1="841.3" x2="215.71" y2="915.2" stroke="#0c0c0c" stroke-width="1" stroke-dasharray="4.3 2.7"/>
<circle cx="206" cy="903" r="2.4" fill="#1a1a1a" opacity="0.9"/>
<line x1="231.8" y1="913" x2="256" y2="913" stroke="#fff" stroke-width="1" opacity="0.92"/>
<text class="tb" x="244.2" y="911.6" font-size="4.2" text-anchor="middle" fill="#fff">500um</text>
<rect x="261.1" y="841.3" width="89.3" height="73.9" fill="#4a4a4a" filter="url(#fW)"/>
<rect x="296.39" y="841.3" width="12.06" height="73.9" fill="#5f5f5f" filter="url(#fGap)"/>
<line x1="296.39" y1="841.3" x2="296.39" y2="915.2" stroke="#0c0c0c" stroke-width="1" stroke-dasharray="4.3 2.7"/>
<line x1="308.45" y1="841.3" x2="308.45" y2="915.2" stroke="#0c0c0c" stroke-width="1" stroke-dasharray="4.3 2.7"/>
<line x1="325.3" y1="913" x2="349.5" y2="913" stroke="#fff" stroke-width="1" opacity="0.92"/>
<text class="tb" x="337.7" y="911.6" font-size="4.2" text-anchor="middle" fill="#fff">500um</text>
<rect x="354.7" y="841.3" width="89.3" height="73.9" fill="#464646" filter="url(#fW)"/>
<rect x="393.72" y="841.3" width="17.23" height="73.9" fill="#5e5e5e" filter="url(#fGap)"/>
<line x1="393.72" y1="841.3" x2="393.72" y2="915.2" stroke="#0c0c0c" stroke-width="1" stroke-dasharray="4.3 2.7"/>
<line x1="410.94" y1="841.3" x2="410.94" y2="915.2" stroke="#0c0c0c" stroke-width="1" stroke-dasharray="4.3 2.7"/>
<line x1="418.9" y1="913" x2="443.1" y2="913" stroke="#fff" stroke-width="1" opacity="0.92"/>
<text class="tb" x="431.3" y="911.6" font-size="4.2" text-anchor="middle" fill="#fff">500um</text>
<rect x="74" y="917.9" width="89.3" height="74.3" fill="#4c4c4c" filter="url(#fW)"/>
<rect x="106.61" y="917.9" width="20.96" height="74.3" fill="#656565" filter="url(#fGap)"/>
<line x1="106.61" y1="917.9" x2="106.61" y2="992.2" stroke="#0c0c0c" stroke-width="1" stroke-dasharray="4.3 2.7"/>
<line x1="127.57" y1="917.9" x2="127.57" y2="992.2" stroke="#0c0c0c" stroke-width="1" stroke-dasharray="4.3 2.7"/>
<line x1="138.2" y1="990" x2="162.4" y2="990" stroke="#fff" stroke-width="1" opacity="0.92"/>
<text class="tb" x="150.6" y="988.6" font-size="4.2" text-anchor="middle" fill="#fff">500um</text>
<rect x="167.6" y="917.9" width="89.3" height="74.3" fill="#494949" filter="url(#fW)"/>
<rect x="195.9" y="917.9" width="19.24" height="74.3" fill="#646464" filter="url(#fGap)"/>
<line x1="195.9" y1="917.9" x2="195.9" y2="992.2" stroke="#0c0c0c" stroke-width="1" stroke-dasharray="4.3 2.7"/>
<line x1="215.14" y1="917.9" x2="215.14" y2="992.2" stroke="#0c0c0c" stroke-width="1" stroke-dasharray="4.3 2.7"/>
<circle cx="200.5" cy="968" r="2" fill="#1a1a1a" opacity="0.8"/>
<line x1="231.8" y1="990" x2="256" y2="990" stroke="#fff" stroke-width="1" opacity="0.92"/>
<text class="tb" x="244.2" y="988.6" font-size="4.2" text-anchor="middle" fill="#fff">500um</text>
<rect x="261.1" y="917.9" width="89.3" height="74.3" fill="#464646" filter="url(#fW)"/>
<rect x="299.83" y="917.9" width="7.75" height="74.3" fill="#5c5c5c" filter="url(#fGap)"/>
<line x1="299.83" y1="917.9" x2="299.83" y2="992.2" stroke="#0c0c0c" stroke-width="1" stroke-dasharray="4.3 2.7"/>
<line x1="307.59" y1="917.9" x2="307.59" y2="992.2" stroke="#0c0c0c" stroke-width="1" stroke-dasharray="4.3 2.7"/>
<line x1="325.3" y1="990" x2="349.5" y2="990" stroke="#fff" stroke-width="1" opacity="0.92"/>
<text class="tb" x="337.7" y="988.6" font-size="4.2" text-anchor="middle" fill="#fff">500um</text>
<rect x="354.7" y="917.9" width="89.3" height="74.3" fill="#494949" filter="url(#fW)"/>
<rect x="393.72" y="917.9" width="16.65" height="74.3" fill="#636363" filter="url(#fGap)"/>
<line x1="393.72" y1="917.9" x2="393.72" y2="992.2" stroke="#0c0c0c" stroke-width="1" stroke-dasharray="4.3 2.7"/>
<line x1="410.37" y1="917.9" x2="410.37" y2="992.2" stroke="#0c0c0c" stroke-width="1" stroke-dasharray="4.3 2.7"/>
<line x1="418.9" y1="990" x2="443.1" y2="990" stroke="#fff" stroke-width="1" opacity="0.92"/>
<text class="tb" x="431.3" y="988.6" font-size="4.2" text-anchor="middle" fill="#fff">500um</text>
<line x1="69.8" y1="763.6" x2="69.8" y2="993.3" stroke="#1c1c1c" stroke-width="1.2"/>
<text class="tb" x="117.5" y="757.9" font-size="12.7" text-anchor="middle">Control</text>
<text class="tb" x="210" y="757.9" font-size="12.7" text-anchor="middle">ISO</text>
<text class="tb" x="301.8" y="757.9" font-size="12.7" text-anchor="middle">DMSO</text>
<text class="tb" x="394.3" y="757.9" font-size="12.7" text-anchor="middle">ISO</text>
<text class="tb" x="353.3" y="738.7" font-size="12.5" text-anchor="middle">TGF-β（10ng/ml）</text>
<line x1="260.2" y1="744.4" x2="441" y2="744.4" stroke="#000" stroke-width="1.1"/>
<text class="tb" x="65.7" y="803.7" font-size="13.1" text-anchor="middle" transform="rotate(-90 65.7 803.7)">0h</text>
<text class="tb" x="65.7" y="879.2" font-size="13.1" text-anchor="middle" transform="rotate(-90 65.7 879.2)">10h</text>
<text class="tb" x="65.7" y="957.3" font-size="13.1" text-anchor="middle" transform="rotate(-90 65.7 957.3)">24h</text>
<text class="tb" x="257.3" y="1007" font-size="12.7" text-anchor="middle">HGC27</text>
<rect x="916.3" y="764.6" width="89.4" height="73.4" fill="#606060" filter="url(#fW2)"/>
<rect x="944.59" y="764.6" width="27.12" height="73.4" fill="#6b6b6b" filter="url(#fGap)"/>
<line x1="944.59" y1="764.6" x2="944.59" y2="838" stroke="#0c0c0c" stroke-width="1" stroke-dasharray="4.3 2.7"/>
<line x1="971.7" y1="764.6" x2="971.7" y2="838" stroke="#0c0c0c" stroke-width="1" stroke-dasharray="4.3 2.7"/>
<line x1="980.6" y1="835.8" x2="1004.8" y2="835.8" stroke="#fff" stroke-width="1" opacity="0.92"/>
<text class="tb" x="993" y="834.4" font-size="4.2" text-anchor="middle" fill="#fff">500um</text>
<rect x="1010" y="764.6" width="89.4" height="73.4" fill="#5e5e5e" filter="url(#fW2)"/>
<rect x="1036.93" y="764.6" width="32.25" height="73.4" fill="#6d6d6d" filter="url(#fGap)"/>
<line x1="1036.93" y1="764.6" x2="1036.93" y2="838" stroke="#0c0c0c" stroke-width="1" stroke-dasharray="4.3 2.7"/>
<line x1="1069.18" y1="764.6" x2="1069.18" y2="838" stroke="#0c0c0c" stroke-width="1" stroke-dasharray="4.3 2.7"/>
<line x1="1074.3" y1="835.8" x2="1098.5" y2="835.8" stroke="#fff" stroke-width="1" opacity="0.92"/>
<text class="tb" x="1086.7" y="834.4" font-size="4.2" text-anchor="middle" fill="#fff">500um</text>
<rect x="1103.9" y="764.6" width="89.4" height="73.4" fill="#494949" filter="url(#fW)"/>
<rect x="1133.3" y="764.6" width="32.98" height="73.4" fill="#525252" filter="url(#fGap)"/>
<line x1="1133.3" y1="764.6" x2="1133.3" y2="838" stroke="#0c0c0c" stroke-width="1" stroke-dasharray="4.3 2.7"/>
<line x1="1166.28" y1="764.6" x2="1166.28" y2="838" stroke="#0c0c0c" stroke-width="1" stroke-dasharray="4.3 2.7"/>
<line x1="1168.2" y1="835.8" x2="1192.4" y2="835.8" stroke="#fff" stroke-width="1" opacity="0.92"/>
<text class="tb" x="1180.6" y="834.4" font-size="4.2" text-anchor="middle" fill="#fff">500um</text>
<rect x="1197.4" y="765.8" width="89.4" height="73.4" fill="#646464" filter="url(#fW2)"/>
<rect x="1227.84" y="765.8" width="32.61" height="73.4" fill="#747474" filter="url(#fGap)"/>
<line x1="1227.84" y1="765.8" x2="1227.84" y2="839.2" stroke="#0c0c0c" stroke-width="1" stroke-dasharray="4.3 2.7"/>
<line x1="1260.45" y1="765.8" x2="1260.45" y2="839.2" stroke="#0c0c0c" stroke-width="1" stroke-dasharray="4.3 2.7"/>
<line x1="1261.7" y1="837" x2="1285.9" y2="837" stroke="#fff" stroke-width="1" opacity="0.92"/>
<text class="tb" x="1274.1" y="835.6" font-size="4.2" text-anchor="middle" fill="#fff">500um</text>
<rect x="916.3" y="841.9" width="89.4" height="73.7" fill="#515151" filter="url(#fW)"/>
<rect x="946.42" y="841.9" width="23.82" height="73.7" fill="#626262" filter="url(#fGap)"/>
<line x1="946.42" y1="841.9" x2="946.42" y2="915.6" stroke="#0c0c0c" stroke-width="1" stroke-dasharray="4.3 2.7"/>
<line x1="970.24" y1="841.9" x2="970.24" y2="915.6" stroke="#0c0c0c" stroke-width="1" stroke-dasharray="4.3 2.7"/>
<line x1="980.6" y1="913.4" x2="1004.8" y2="913.4" stroke="#fff" stroke-width="1" opacity="0.92"/>
<text class="tb" x="993" y="912" font-size="4.2" text-anchor="middle" fill="#fff">500um</text>
<rect x="1010" y="841.9" width="89.4" height="73.7" fill="#515151" filter="url(#fW)"/>
<rect x="1038.76" y="841.9" width="27.48" height="73.7" fill="#676767" filter="url(#fGap)"/>
<line x1="1038.76" y1="841.9" x2="1038.76" y2="915.6" stroke="#0c0c0c" stroke-width="1" stroke-dasharray="4.3 2.7"/>
<line x1="1066.24" y1="841.9" x2="1066.24" y2="915.6" stroke="#0c0c0c" stroke-width="1" stroke-dasharray="4.3 2.7"/>
<line x1="1074.3" y1="913.4" x2="1098.5" y2="913.4" stroke="#fff" stroke-width="1" opacity="0.92"/>
<text class="tb" x="1086.7" y="912" font-size="4.2" text-anchor="middle" fill="#fff">500um</text>
<rect x="1103.9" y="841.9" width="89.4" height="73.7" fill="#4d4d4d" filter="url(#fW)"/>
<rect x="1138.07" y="841.9" width="21.99" height="73.7" fill="#5b5b5b" filter="url(#fGap)"/>
<line x1="1138.07" y1="841.9" x2="1138.07" y2="915.6" stroke="#0c0c0c" stroke-width="1" stroke-dasharray="4.3 2.7"/>
<line x1="1160.05" y1="841.9" x2="1160.05" y2="915.6" stroke="#0c0c0c" stroke-width="1" stroke-dasharray="4.3 2.7"/>
<line x1="1168.2" y1="913.4" x2="1192.4" y2="913.4" stroke="#fff" stroke-width="1" opacity="0.92"/>
<text class="tb" x="1180.6" y="912" font-size="4.2" text-anchor="middle" fill="#fff">500um</text>
<rect x="1197.4" y="842.9" width="89.4" height="73.7" fill="#4f4f4f" filter="url(#fW)"/>
<rect x="1229.67" y="842.9" width="28.95" height="73.7" fill="#646464" filter="url(#fGap)"/>
<line x1="1229.67" y1="842.9" x2="1229.67" y2="916.6" stroke="#0c0c0c" stroke-width="1" stroke-dasharray="4.3 2.7"/>
<line x1="1258.62" y1="842.9" x2="1258.62" y2="916.6" stroke="#0c0c0c" stroke-width="1" stroke-dasharray="4.3 2.7"/>
<line x1="1261.7" y1="914.4" x2="1285.9" y2="914.4" stroke="#fff" stroke-width="1" opacity="0.92"/>
<text class="tb" x="1274.1" y="913" font-size="4.2" text-anchor="middle" fill="#fff">500um</text>
<rect x="916.3" y="919.4" width="89.4" height="73.5" fill="#505050" filter="url(#fW)"/>
<rect x="947.52" y="919.4" width="21.62" height="73.5" fill="#646464" filter="url(#fGap)"/>
<line x1="947.52" y1="919.4" x2="947.52" y2="992.9" stroke="#0c0c0c" stroke-width="1" stroke-dasharray="4.3 2.7"/>
<line x1="969.14" y1="919.4" x2="969.14" y2="992.9" stroke="#0c0c0c" stroke-width="1" stroke-dasharray="4.3 2.7"/>
<line x1="980.6" y1="990.7" x2="1004.8" y2="990.7" stroke="#fff" stroke-width="1" opacity="0.92"/>
<text class="tb" x="993" y="989.3" font-size="4.2" text-anchor="middle" fill="#fff">500um</text>
<rect x="1010" y="919.4" width="89.4" height="73.5" fill="#4e4e4e" filter="url(#fW)"/>
<rect x="1039.86" y="919.4" width="24.55" height="73.5" fill="#666666" filter="url(#fGap)"/>
<line x1="1039.86" y1="919.4" x2="1039.86" y2="992.9" stroke="#0c0c0c" stroke-width="1" stroke-dasharray="4.3 2.7"/>
<line x1="1064.41" y1="919.4" x2="1064.41" y2="992.9" stroke="#0c0c0c" stroke-width="1" stroke-dasharray="4.3 2.7"/>
<line x1="1074.3" y1="990.7" x2="1098.5" y2="990.7" stroke="#fff" stroke-width="1" opacity="0.92"/>
<text class="tb" x="1086.7" y="989.3" font-size="4.2" text-anchor="middle" fill="#fff">500um</text>
<rect x="1103.9" y="919.4" width="89.4" height="73.5" fill="#4f4f4f" filter="url(#fW)"/>
<rect x="1142.46" y="919.4" width="14.66" height="73.5" fill="#5d5d5d" filter="url(#fGap)"/>
<line x1="1142.46" y1="919.4" x2="1142.46" y2="992.9" stroke="#0c0c0c" stroke-width="1" stroke-dasharray="4.3 2.7"/>
<line x1="1157.12" y1="919.4" x2="1157.12" y2="992.9" stroke="#0c0c0c" stroke-width="1" stroke-dasharray="4.3 2.7"/>
<line x1="1168.2" y1="990.7" x2="1192.4" y2="990.7" stroke="#fff" stroke-width="1" opacity="0.92"/>
<text class="tb" x="1180.6" y="989.3" font-size="4.2" text-anchor="middle" fill="#fff">500um</text>
<rect x="1197.4" y="920" width="89.4" height="73.5" fill="#515151" filter="url(#fW)"/>
<rect x="1231.14" y="920" width="25.65" height="73.5" fill="#666666" filter="url(#fGap)"/>
<line x1="1231.14" y1="920" x2="1231.14" y2="993.5" stroke="#0c0c0c" stroke-width="1" stroke-dasharray="4.3 2.7"/>
<line x1="1256.79" y1="920" x2="1256.79" y2="993.5" stroke="#0c0c0c" stroke-width="1" stroke-dasharray="4.3 2.7"/>
<line x1="1261.7" y1="991.3" x2="1285.9" y2="991.3" stroke="#fff" stroke-width="1" opacity="0.92"/>
<text class="tb" x="1274.1" y="989.9" font-size="4.2" text-anchor="middle" fill="#fff">500um</text>
<line x1="912.2" y1="764.6" x2="912.2" y2="993.6" stroke="#1c1c1c" stroke-width="1.15"/>
<text class="tb" x="959.6" y="759.8" font-size="12.8" text-anchor="middle">Control</text>
<text class="tb" x="1052" y="759.8" font-size="12.8" text-anchor="middle">ISO</text>
<text class="tb" x="1144.7" y="759.8" font-size="12.8" text-anchor="middle">DMSO</text>
<text class="tb" x="1236.3" y="759.8" font-size="12.8" text-anchor="middle">ISO</text>
<text class="tb" x="1194.7" y="740" font-size="12.5" text-anchor="middle">TGF-β（10ng/ml）</text>
<line x1="1101.4" y1="746.3" x2="1282.8" y2="746.3" stroke="#000" stroke-width="1.1"/>
<text class="tb" x="907.6" y="805.2" font-size="13.1" text-anchor="middle" transform="rotate(-90 907.6 805.2)">0h</text>
<text class="tb" x="907.6" y="878.5" font-size="13.1" text-anchor="middle" transform="rotate(-90 907.6 878.5)">10h</text>
<text class="tb" x="907.6" y="957.6" font-size="13.1" text-anchor="middle" transform="rotate(-90 907.6 957.6)">24h</text>
<text class="tb" x="1098.5" y="1007.2" font-size="12.8" text-anchor="middle">AGS</text>
<text class="tb" x="1.9" y="35.9" font-size="51.5">A</text>
<text class="tb" x="401.35" y="35.9" font-size="51.5">B</text>
<text class="tb" x="827.3" y="36.5" font-size="51.5">C</text>
<text class="tb" x="3.85" y="388.1" font-size="51.5">D</text>
<text class="tb" x="827.85" y="388.1" font-size="51.5">E</text>
<text class="tb" x="9.2" y="691.7" font-size="51.5">F</text>
<text class="tb" x="823.1" y="691.9" font-size="51.5">G</text>
<line x1="96.1" y1="88.7" x2="96.1" y2="236.85" stroke="#000" stroke-width="1.5"/>
<line x1="95.35" y1="236.1" x2="325" y2="236.1" stroke="#000" stroke-width="1.5"/>
<line x1="91.6" y1="236.1" x2="96.1" y2="236.1" stroke="#000" stroke-width="1.5"/>
<text class="sb" x="90.1" y="239.8" font-size="11" text-anchor="end">0.0</text>
<line x1="91.6" y1="187.2" x2="96.1" y2="187.2" stroke="#000" stroke-width="1.5"/>
<text class="sb" x="90.1" y="190.9" font-size="11" text-anchor="end">0.5</text>
<line x1="91.6" y1="138.3" x2="96.1" y2="138.3" stroke="#000" stroke-width="1.5"/>
<text class="sb" x="90.1" y="142" font-size="11" text-anchor="end">1.0</text>
<line x1="91.6" y1="89.4" x2="96.1" y2="89.4" stroke="#000" stroke-width="1.5"/>
<text class="sb" x="90.1" y="93.1" font-size="11" text-anchor="end">1.5</text>
<line x1="108.9" y1="236.1" x2="108.9" y2="241.1" stroke="#000" stroke-width="1.5"/>
<text class="sb" x="111.6" y="247.3" font-size="11.3" text-anchor="end" transform="rotate(-45 111.6 247.3)">Control</text>
<line x1="134.24" y1="236.1" x2="134.24" y2="241.1" stroke="#000" stroke-width="1.5"/>
<text class="sb" x="136.94" y="247.3" font-size="11.3" text-anchor="end" transform="rotate(-45 136.94 247.3)">DMSO</text>
<line x1="159.58" y1="236.1" x2="159.58" y2="241.1" stroke="#000" stroke-width="1.5"/>
<text class="sb" x="162.28" y="247.3" font-size="11.3" text-anchor="end" transform="rotate(-45 162.28 247.3)">5µM</text>
<line x1="184.92" y1="236.1" x2="184.92" y2="241.1" stroke="#000" stroke-width="1.5"/>
<text class="sb" x="187.62" y="247.3" font-size="11.3" text-anchor="end" transform="rotate(-45 187.62 247.3)">10µM</text>
<line x1="210.26" y1="236.1" x2="210.26" y2="241.1" stroke="#000" stroke-width="1.5"/>
<text class="sb" x="212.96" y="247.3" font-size="11.3" text-anchor="end" transform="rotate(-45 212.96 247.3)">20µM</text>
<line x1="235.6" y1="236.1" x2="235.6" y2="241.1" stroke="#000" stroke-width="1.5"/>
<text class="sb" x="238.3" y="247.3" font-size="11.3" text-anchor="end" transform="rotate(-45 238.3 247.3)">30µM</text>
<line x1="260.94" y1="236.1" x2="260.94" y2="241.1" stroke="#000" stroke-width="1.5"/>
<text class="sb" x="263.64" y="247.3" font-size="11.3" text-anchor="end" transform="rotate(-45 263.64 247.3)">40µM</text>
<line x1="286.28" y1="236.1" x2="286.28" y2="241.1" stroke="#000" stroke-width="1.5"/>
<text class="sb" x="288.98" y="247.3" font-size="11.3" text-anchor="end" transform="rotate(-45 288.98 247.3)">50µM</text>
<line x1="311.62" y1="236.1" x2="311.62" y2="241.1" stroke="#000" stroke-width="1.5"/>
<text class="sb" x="314.32" y="247.3" font-size="11.3" text-anchor="end" transform="rotate(-45 314.32 247.3)">60µM</text>
<polyline points="108.9,138.3 134.24,137.91 159.58,137.32 184.92,137.13 210.26,140.55 235.6,142.41 260.94,155.42 286.28,161.77 311.62,170.48" fill="none" stroke="#000" stroke-width="1.3"/>
<line x1="108.9" y1="131.45" x2="108.9" y2="145.15" stroke="#222" stroke-width="0.8"/>
<line x1="106.5" y1="131.45" x2="111.3" y2="131.45" stroke="#222" stroke-width="0.8"/>
<line x1="106.5" y1="145.15" x2="111.3" y2="145.15" stroke="#222" stroke-width="0.8"/>
<circle cx="108.9" cy="138.3" r="2.2"/>
<line x1="134.24" y1="132.04" x2="134.24" y2="143.78" stroke="#222" stroke-width="0.8"/>
<line x1="131.84" y1="132.04" x2="136.64" y2="132.04" stroke="#222" stroke-width="0.8"/>
<line x1="131.84" y1="143.78" x2="136.64" y2="143.78" stroke="#222" stroke-width="0.8"/>
<circle cx="134.24" cy="137.91" r="2.2"/>
<line x1="159.58" y1="135.37" x2="159.58" y2="139.28" stroke="#222" stroke-width="0.8"/>
<line x1="157.18" y1="135.37" x2="161.98" y2="135.37" stroke="#222" stroke-width="0.8"/>
<line x1="157.18" y1="139.28" x2="161.98" y2="139.28" stroke="#222" stroke-width="0.8"/>
<circle cx="159.58" cy="137.32" r="2.2"/>
<line x1="184.92" y1="132.73" x2="184.92" y2="141.53" stroke="#222" stroke-width="0.8"/>
<line x1="182.52" y1="132.73" x2="187.32" y2="132.73" stroke="#222" stroke-width="0.8"/>
<line x1="182.52" y1="141.53" x2="187.32" y2="141.53" stroke="#222" stroke-width="0.8"/>
<circle cx="184.92" cy="137.13" r="2.2"/>
<circle cx="210.26" cy="140.55" r="2.2"/>
<line x1="235.6" y1="139.47" x2="235.6" y2="145.34" stroke="#222" stroke-width="0.8"/>
<line x1="233.2" y1="139.47" x2="238" y2="139.47" stroke="#222" stroke-width="0.8"/>
<line x1="233.2" y1="145.34" x2="238" y2="145.34" stroke="#222" stroke-width="0.8"/>
<circle cx="235.6" cy="142.41" r="2.2"/>
<line x1="260.94" y1="152.68" x2="260.94" y2="158.15" stroke="#222" stroke-width="0.8"/>
<line x1="258.54" y1="152.68" x2="263.34" y2="152.68" stroke="#222" stroke-width="0.8"/>
<line x1="258.54" y1="158.15" x2="263.34" y2="158.15" stroke="#222" stroke-width="0.8"/>
<circle cx="260.94" cy="155.42" r="2.2"/>
<line x1="286.28" y1="158.84" x2="286.28" y2="164.71" stroke="#222" stroke-width="0.8"/>
<line x1="283.88" y1="158.84" x2="288.68" y2="158.84" stroke="#222" stroke-width="0.8"/>
<line x1="283.88" y1="164.71" x2="288.68" y2="164.71" stroke="#222" stroke-width="0.8"/>
<circle cx="286.28" cy="161.77" r="2.2"/>
<line x1="311.62" y1="167.05" x2="311.62" y2="173.9" stroke="#222" stroke-width="0.8"/>
<line x1="309.22" y1="167.05" x2="314.02" y2="167.05" stroke="#222" stroke-width="0.8"/>
<line x1="309.22" y1="173.9" x2="314.02" y2="173.9" stroke="#222" stroke-width="0.8"/>
<circle cx="311.62" cy="170.48" r="2.2"/>
<polyline points="108.9,138.69 134.24,139.28 159.58,136.05 184.92,140.55 210.26,146.42 235.6,152.97 260.94,163.34 286.28,173.51 311.62,182.9" fill="none" stroke="#000" stroke-width="1.3"/>
<line x1="108.9" y1="133.8" x2="108.9" y2="143.58" stroke="#222" stroke-width="0.8"/>
<line x1="106.5" y1="133.8" x2="111.3" y2="133.8" stroke="#222" stroke-width="0.8"/>
<line x1="106.5" y1="143.58" x2="111.3" y2="143.58" stroke="#222" stroke-width="0.8"/>
<rect x="106.7" y="136.49" width="4.4" height="4.4" fill="#000"/>
<line x1="134.24" y1="134.39" x2="134.24" y2="144.17" stroke="#222" stroke-width="0.8"/>
<line x1="131.84" y1="134.39" x2="136.64" y2="134.39" stroke="#222" stroke-width="0.8"/>
<line x1="131.84" y1="144.17" x2="136.64" y2="144.17" stroke="#222" stroke-width="0.8"/>
<rect x="132.04" y="137.08" width="4.4" height="4.4" fill="#000"/>
<line x1="159.58" y1="134.09" x2="159.58" y2="138.01" stroke="#222" stroke-width="0.8"/>
<line x1="157.18" y1="134.09" x2="161.98" y2="134.09" stroke="#222" stroke-width="0.8"/>
<line x1="157.18" y1="138.01" x2="161.98" y2="138.01" stroke="#222" stroke-width="0.8"/>
<rect x="157.38" y="133.85" width="4.4" height="4.4" fill="#000"/>
<line x1="184.92" y1="138.59" x2="184.92" y2="142.51" stroke="#222" stroke-width="0.8"/>
<line x1="182.52" y1="138.59" x2="187.32" y2="138.59" stroke="#222" stroke-width="0.8"/>
<line x1="182.52" y1="142.51" x2="187.32" y2="142.51" stroke="#222" stroke-width="0.8"/>
<rect x="182.72" y="138.35" width="4.4" height="4.4" fill="#000"/>
<line x1="210.26" y1="144.46" x2="210.26" y2="148.37" stroke="#222" stroke-width="0.8"/>
<line x1="207.86" y1="144.46" x2="212.66" y2="144.46" stroke="#222" stroke-width="0.8"/>
<line x1="207.86" y1="148.37" x2="212.66" y2="148.37" stroke="#222" stroke-width="0.8"/>
<rect x="208.06" y="144.22" width="4.4" height="4.4" fill="#000"/>
<line x1="235.6" y1="147.59" x2="235.6" y2="158.35" stroke="#222" stroke-width="0.8"/>
<line x1="233.2" y1="147.59" x2="238" y2="147.59" stroke="#222" stroke-width="0.8"/>
<line x1="233.2" y1="158.35" x2="238" y2="158.35" stroke="#222" stroke-width="0.8"/>
<rect x="233.4" y="150.77" width="4.4" height="4.4" fill="#000"/>
<rect x="258.74" y="161.14" width="4.4" height="4.4" fill="#000"/>
<rect x="284.08" y="171.31" width="4.4" height="4.4" fill="#000"/>
<rect x="309.42" y="180.7" width="4.4" height="4.4" fill="#000"/>
<polyline points="108.9,138.3 134.24,139.77 159.58,185.73 184.92,209.01 210.26,217.32 235.6,225.34 260.94,230.23 286.28,231.99 311.62,231.99" fill="none" stroke="#000" stroke-width="1.3"/>
<line x1="108.9" y1="131.45" x2="108.9" y2="145.15" stroke="#222" stroke-width="0.8"/>
<line x1="106.5" y1="131.45" x2="111.3" y2="131.45" stroke="#222" stroke-width="0.8"/>
<line x1="106.5" y1="145.15" x2="111.3" y2="145.15" stroke="#222" stroke-width="0.8"/>
<path d="M108.9 135.7L111.5 140.2L106.3 140.2Z"/>
<line x1="134.24" y1="130.97" x2="134.24" y2="148.57" stroke="#222" stroke-width="0.8"/>
<line x1="131.84" y1="130.97" x2="136.64" y2="130.97" stroke="#222" stroke-width="0.8"/>
<line x1="131.84" y1="148.57" x2="136.64" y2="148.57" stroke="#222" stroke-width="0.8"/>
<path d="M134.24 137.17L136.84 141.67L131.64 141.67Z"/>
<line x1="159.58" y1="182.8" x2="159.58" y2="188.67" stroke="#222" stroke-width="0.8"/>
<line x1="157.18" y1="182.8" x2="161.98" y2="182.8" stroke="#222" stroke-width="0.8"/>
<line x1="157.18" y1="188.67" x2="161.98" y2="188.67" stroke="#222" stroke-width="0.8"/>
<path d="M159.58 183.13L162.18 187.63L156.98 187.63Z"/>
<line x1="184.92" y1="203.14" x2="184.92" y2="214.88" stroke="#222" stroke-width="0.8"/>
<line x1="182.52" y1="203.14" x2="187.32" y2="203.14" stroke="#222" stroke-width="0.8"/>
<line x1="182.52" y1="214.88" x2="187.32" y2="214.88" stroke="#222" stroke-width="0.8"/>
<path d="M184.92 206.41L187.52 210.91L182.32 210.91Z"/>
<line x1="210.26" y1="215.17" x2="210.26" y2="219.47" stroke="#222" stroke-width="0.8"/>
<line x1="207.86" y1="215.17" x2="212.66" y2="215.17" stroke="#222" stroke-width="0.8"/>
<line x1="207.86" y1="219.47" x2="212.66" y2="219.47" stroke="#222" stroke-width="0.8"/>
<path d="M210.26 214.72L212.86 219.22L207.66 219.22Z"/>
<line x1="235.6" y1="221.92" x2="235.6" y2="228.76" stroke="#222" stroke-width="0.8"/>
<line x1="233.2" y1="221.92" x2="238" y2="221.92" stroke="#222" stroke-width="0.8"/>
<line x1="233.2" y1="228.76" x2="238" y2="228.76" stroke="#222" stroke-width="0.8"/>
<path d="M235.6 222.74L238.2 227.24L233 227.24Z"/>
<line x1="260.94" y1="228.86" x2="260.94" y2="231.6" stroke="#222" stroke-width="0.8"/>
<line x1="258.54" y1="228.86" x2="263.34" y2="228.86" stroke="#222" stroke-width="0.8"/>
<line x1="258.54" y1="231.6" x2="263.34" y2="231.6" stroke="#222" stroke-width="0.8"/>
<path d="M260.94 227.63L263.54 232.13L258.34 232.13Z"/>
<path d="M286.28 229.39L288.88 233.89L283.68 233.89Z"/>
<path d="M311.62 229.39L314.22 233.89L309.02 233.89Z"/>
<text class="tb" x="210" y="72.3" font-size="11.5" text-anchor="middle" letter-spacing="0.6">HGC27</text>
<text class="tb" x="67" y="162" font-size="13.6" text-anchor="middle" transform="rotate(-90 67 162)">cell viability(%)</text>
<text class="sb" x="210" y="295.2" font-size="12.2" text-anchor="middle">ISO µM/ml</text>
<line x1="359" y1="99.8" x2="375.5" y2="99.8" stroke="#000" stroke-width="1.3"/>
<path d="M367.25 97.2L369.85 101.7L364.65 101.7Z"/>
<text class="sn" x="384" y="104" font-size="12.6">36h</text>
<line x1="359" y1="116.6" x2="375.5" y2="116.6" stroke="#000" stroke-width="1.3"/>
<rect x="365.05" y="114.4" width="4.4" height="4.4" fill="#000"/>
<text class="sn" x="384" y="120.8" font-size="12.6">24h</text>
<line x1="359" y1="133.2" x2="375.5" y2="133.2" stroke="#000" stroke-width="1.3"/>
<circle cx="367.25" cy="133.2" r="2.2"/>
<text class="sn" x="384" y="137.4" font-size="12.6">12h</text>
<text class="sn" x="260.94" y="153.62" font-size="10" text-anchor="middle" fill="#222">***</text>
<text class="sn" x="286.28" y="159.97" font-size="10" text-anchor="middle" fill="#222">***</text>
<text class="sn" x="311.62" y="168.68" font-size="10" text-anchor="middle" fill="#222">***</text>
<text class="sn" x="209.46" y="157.92" font-size="8.3" text-anchor="middle" fill="#222" font-style="italic">#</text>
<text class="sn" x="235.6" y="167.47" font-size="8.3" text-anchor="middle" fill="#222" font-style="italic">###</text>
<text class="sn" x="260.94" y="174.84" font-size="8.3" text-anchor="middle" fill="#222" font-style="italic">###</text>
<text class="sn" x="286.28" y="185.01" font-size="8.3" text-anchor="middle" fill="#222" font-style="italic">###</text>
<text class="sn" x="311.62" y="194.4" font-size="8.3" text-anchor="middle" fill="#222" font-style="italic">###</text>
<line x1="502.3" y1="81.9" x2="502.3" y2="239.65" stroke="#000" stroke-width="1.5"/>
<line x1="501.55" y1="238.9" x2="737.3" y2="238.9" stroke="#000" stroke-width="1.5"/>
<line x1="497.8" y1="238.9" x2="502.3" y2="238.9" stroke="#000" stroke-width="1.5"/>
<text class="sb" x="496.3" y="242.6" font-size="11.5" text-anchor="end">0.0</text>
<line x1="497.8" y1="186.8" x2="502.3" y2="186.8" stroke="#000" stroke-width="1.5"/>
<text class="sb" x="496.3" y="190.5" font-size="11.5" text-anchor="end">0.5</text>
<line x1="497.8" y1="134.7" x2="502.3" y2="134.7" stroke="#000" stroke-width="1.5"/>
<text class="sb" x="496.3" y="138.4" font-size="11.5" text-anchor="end">1.0</text>
<line x1="497.8" y1="82.6" x2="502.3" y2="82.6" stroke="#000" stroke-width="1.5"/>
<text class="sb" x="496.3" y="86.3" font-size="11.5" text-anchor="end">1.5</text>
<line x1="515.1" y1="238.9" x2="515.1" y2="243.9" stroke="#000" stroke-width="1.5"/>
<text class="sb" x="517.7" y="251.3" font-size="11.8" text-anchor="end" transform="rotate(-45 517.7 251.3)">Control</text>
<line x1="541.12" y1="238.9" x2="541.12" y2="243.9" stroke="#000" stroke-width="1.5"/>
<text class="sb" x="543.72" y="251.3" font-size="11.8" text-anchor="end" transform="rotate(-45 543.72 251.3)">DMSO</text>
<line x1="567.14" y1="238.9" x2="567.14" y2="243.9" stroke="#000" stroke-width="1.5"/>
<text class="sb" x="569.74" y="251.3" font-size="11.8" text-anchor="end" transform="rotate(-45 569.74 251.3)">5µM</text>
<line x1="593.16" y1="238.9" x2="593.16" y2="243.9" stroke="#000" stroke-width="1.5"/>
<text class="sb" x="595.76" y="251.3" font-size="11.8" text-anchor="end" transform="rotate(-45 595.76 251.3)">10µM</text>
<line x1="619.18" y1="238.9" x2="619.18" y2="243.9" stroke="#000" stroke-width="1.5"/>
<text class="sb" x="621.78" y="251.3" font-size="11.8" text-anchor="end" transform="rotate(-45 621.78 251.3)">20µM</text>
<line x1="645.2" y1="238.9" x2="645.2" y2="243.9" stroke="#000" stroke-width="1.5"/>
<text class="sb" x="647.8" y="251.3" font-size="11.8" text-anchor="end" transform="rotate(-45 647.8 251.3)">30µM</text>
<line x1="671.22" y1="238.9" x2="671.22" y2="243.9" stroke="#000" stroke-width="1.5"/>
<text class="sb" x="673.82" y="251.3" font-size="11.8" text-anchor="end" transform="rotate(-45 673.82 251.3)">40µM</text>
<line x1="697.24" y1="238.9" x2="697.24" y2="243.9" stroke="#000" stroke-width="1.5"/>
<text class="sb" x="699.84" y="251.3" font-size="11.8" text-anchor="end" transform="rotate(-45 699.84 251.3)">50µM</text>
<line x1="723.26" y1="238.9" x2="723.26" y2="243.9" stroke="#000" stroke-width="1.5"/>
<text class="sb" x="725.86" y="251.3" font-size="11.8" text-anchor="end" transform="rotate(-45 725.86 251.3)">60µM</text>
<polyline points="515.1,134.7 541.12,133.45 567.14,131.57 593.16,137.62 619.18,144.39 645.2,152.1 671.22,164.19 697.24,175.86 723.26,186.8" fill="none" stroke="#000" stroke-width="1.3"/>
<line x1="515.1" y1="129.49" x2="515.1" y2="139.91" stroke="#222" stroke-width="0.8"/>
<line x1="512.7" y1="129.49" x2="517.5" y2="129.49" stroke="#222" stroke-width="0.8"/>
<line x1="512.7" y1="139.91" x2="517.5" y2="139.91" stroke="#222" stroke-width="0.8"/>
<circle cx="515.1" cy="134.7" r="2.2"/>
<line x1="541.12" y1="128.24" x2="541.12" y2="138.66" stroke="#222" stroke-width="0.8"/>
<line x1="538.72" y1="128.24" x2="543.52" y2="128.24" stroke="#222" stroke-width="0.8"/>
<line x1="538.72" y1="138.66" x2="543.52" y2="138.66" stroke="#222" stroke-width="0.8"/>
<circle cx="541.12" cy="133.45" r="2.2"/>
<line x1="567.14" y1="129.49" x2="567.14" y2="133.66" stroke="#222" stroke-width="0.8"/>
<line x1="564.74" y1="129.49" x2="569.54" y2="129.49" stroke="#222" stroke-width="0.8"/>
<line x1="564.74" y1="133.66" x2="569.54" y2="133.66" stroke="#222" stroke-width="0.8"/>
<circle cx="567.14" cy="131.57" r="2.2"/>
<line x1="593.16" y1="135.01" x2="593.16" y2="140.22" stroke="#222" stroke-width="0.8"/>
<line x1="590.76" y1="135.01" x2="595.56" y2="135.01" stroke="#222" stroke-width="0.8"/>
<line x1="590.76" y1="140.22" x2="595.56" y2="140.22" stroke="#222" stroke-width="0.8"/>
<circle cx="593.16" cy="137.62" r="2.2"/>
<line x1="619.18" y1="142.31" x2="619.18" y2="146.47" stroke="#222" stroke-width="0.8"/>
<line x1="616.78" y1="142.31" x2="621.58" y2="142.31" stroke="#222" stroke-width="0.8"/>
<line x1="616.78" y1="146.47" x2="621.58" y2="146.47" stroke="#222" stroke-width="0.8"/>
<circle cx="619.18" cy="144.39" r="2.2"/>
<line x1="645.2" y1="145.33" x2="645.2" y2="158.87" stroke="#222" stroke-width="0.8"/>
<line x1="642.8" y1="145.33" x2="647.6" y2="145.33" stroke="#222" stroke-width="0.8"/>
<line x1="642.8" y1="158.87" x2="647.6" y2="158.87" stroke="#222" stroke-width="0.8"/>
<circle cx="645.2" cy="152.1" r="2.2"/>
<circle cx="671.22" cy="164.19" r="2.2"/>
<line x1="697.24" y1="174.3" x2="697.24" y2="177.42" stroke="#222" stroke-width="0.8"/>
<line x1="694.84" y1="174.3" x2="699.64" y2="174.3" stroke="#222" stroke-width="0.8"/>
<line x1="694.84" y1="177.42" x2="699.64" y2="177.42" stroke="#222" stroke-width="0.8"/>
<circle cx="697.24" cy="175.86" r="2.2"/>
<circle cx="723.26" cy="186.8" r="2.2"/>
<polyline points="515.1,135.22 541.12,135.74 567.14,136.78 593.16,139.91 619.18,149.6 645.2,162.63 671.22,180.03 697.24,196.7 723.26,220.14" fill="none" stroke="#000" stroke-width="1.3"/>
<line x1="515.1" y1="131.05" x2="515.1" y2="139.39" stroke="#222" stroke-width="0.8"/>
<line x1="512.7" y1="131.05" x2="517.5" y2="131.05" stroke="#222" stroke-width="0.8"/>
<line x1="512.7" y1="139.39" x2="517.5" y2="139.39" stroke="#222" stroke-width="0.8"/>
<rect x="512.9" y="133.02" width="4.4" height="4.4" fill="#000"/>
<line x1="541.12" y1="132.62" x2="541.12" y2="138.87" stroke="#222" stroke-width="0.8"/>
<line x1="538.72" y1="132.62" x2="543.52" y2="132.62" stroke="#222" stroke-width="0.8"/>
<line x1="538.72" y1="138.87" x2="543.52" y2="138.87" stroke="#222" stroke-width="0.8"/>
<rect x="538.92" y="133.54" width="4.4" height="4.4" fill="#000"/>
<line x1="567.14" y1="134.7" x2="567.14" y2="138.87" stroke="#222" stroke-width="0.8"/>
<line x1="564.74" y1="134.7" x2="569.54" y2="134.7" stroke="#222" stroke-width="0.8"/>
<line x1="564.74" y1="138.87" x2="569.54" y2="138.87" stroke="#222" stroke-width="0.8"/>
<rect x="564.94" y="134.58" width="4.4" height="4.4" fill="#000"/>
<line x1="593.16" y1="136.78" x2="593.16" y2="143.04" stroke="#222" stroke-width="0.8"/>
<line x1="590.76" y1="136.78" x2="595.56" y2="136.78" stroke="#222" stroke-width="0.8"/>
<line x1="590.76" y1="143.04" x2="595.56" y2="143.04" stroke="#222" stroke-width="0.8"/>
<rect x="590.96" y="137.71" width="4.4" height="4.4" fill="#000"/>
<line x1="619.18" y1="145.95" x2="619.18" y2="153.25" stroke="#222" stroke-width="0.8"/>
<line x1="616.78" y1="145.95" x2="621.58" y2="145.95" stroke="#222" stroke-width="0.8"/>
<line x1="616.78" y1="153.25" x2="621.58" y2="153.25" stroke="#222" stroke-width="0.8"/>
<rect x="616.98" y="147.4" width="4.4" height="4.4" fill="#000"/>
<line x1="645.2" y1="157.42" x2="645.2" y2="167.84" stroke="#222" stroke-width="0.8"/>
<line x1="642.8" y1="157.42" x2="647.6" y2="157.42" stroke="#222" stroke-width="0.8"/>
<line x1="642.8" y1="167.84" x2="647.6" y2="167.84" stroke="#222" stroke-width="0.8"/>
<rect x="643" y="160.43" width="4.4" height="4.4" fill="#000"/>
<line x1="671.22" y1="178.46" x2="671.22" y2="181.59" stroke="#222" stroke-width="0.8"/>
<line x1="668.82" y1="178.46" x2="673.62" y2="178.46" stroke="#222" stroke-width="0.8"/>
<line x1="668.82" y1="181.59" x2="673.62" y2="181.59" stroke="#222" stroke-width="0.8"/>
<rect x="669.02" y="177.83" width="4.4" height="4.4" fill="#000"/>
<line x1="697.24" y1="190.45" x2="697.24" y2="202.95" stroke="#222" stroke-width="0.8"/>
<line x1="694.84" y1="190.45" x2="699.64" y2="190.45" stroke="#222" stroke-width="0.8"/>
<line x1="694.84" y1="202.95" x2="699.64" y2="202.95" stroke="#222" stroke-width="0.8"/>
<rect x="695.04" y="194.5" width="4.4" height="4.4" fill="#000"/>
<line x1="723.26" y1="214.93" x2="723.26" y2="225.35" stroke="#222" stroke-width="0.8"/>
<line x1="720.86" y1="214.93" x2="725.66" y2="214.93" stroke="#222" stroke-width="0.8"/>
<line x1="720.86" y1="225.35" x2="725.66" y2="225.35" stroke="#222" stroke-width="0.8"/>
<rect x="721.06" y="217.94" width="4.4" height="4.4" fill="#000"/>
<polyline points="515.1,134.7 541.12,134.7 567.14,190.76 593.16,214.1 619.18,223.27 645.2,224.42 671.22,227.85 697.24,229.21 723.26,229.94" fill="none" stroke="#000" stroke-width="1.3"/>
<line x1="515.1" y1="129.49" x2="515.1" y2="139.91" stroke="#222" stroke-width="0.8"/>
<line x1="512.7" y1="129.49" x2="517.5" y2="129.49" stroke="#222" stroke-width="0.8"/>
<line x1="512.7" y1="139.91" x2="517.5" y2="139.91" stroke="#222" stroke-width="0.8"/>
<path d="M515.1 132.1L517.7 136.6L512.5 136.6Z"/>
<line x1="541.12" y1="127.41" x2="541.12" y2="141.99" stroke="#222" stroke-width="0.8"/>
<line x1="538.72" y1="127.41" x2="543.52" y2="127.41" stroke="#222" stroke-width="0.8"/>
<line x1="538.72" y1="141.99" x2="543.52" y2="141.99" stroke="#222" stroke-width="0.8"/>
<path d="M541.12 132.1L543.72 136.6L538.52 136.6Z"/>
<line x1="567.14" y1="179.82" x2="567.14" y2="201.7" stroke="#222" stroke-width="0.8"/>
<line x1="564.74" y1="179.82" x2="569.54" y2="179.82" stroke="#222" stroke-width="0.8"/>
<line x1="564.74" y1="201.7" x2="569.54" y2="201.7" stroke="#222" stroke-width="0.8"/>
<path d="M567.14 188.16L569.74 192.66L564.54 192.66Z"/>
<line x1="593.16" y1="205.76" x2="593.16" y2="222.44" stroke="#222" stroke-width="0.8"/>
<line x1="590.76" y1="205.76" x2="595.56" y2="205.76" stroke="#222" stroke-width="0.8"/>
<line x1="590.76" y1="222.44" x2="595.56" y2="222.44" stroke="#222" stroke-width="0.8"/>
<path d="M593.16 211.5L595.76 216L590.56 216Z"/>
<path d="M619.18 220.67L621.78 225.17L616.58 225.17Z"/>
<path d="M645.2 221.82L647.8 226.32L642.6 226.32Z"/>
<path d="M671.22 225.25L673.82 229.75L668.62 229.75Z"/>
<path d="M697.24 226.61L699.84 231.11L694.64 231.11Z"/>
<path d="M723.26 227.34L725.86 231.84L720.66 231.84Z"/>
<text class="tb" x="619.3" y="63.6" font-size="11.5" text-anchor="middle" letter-spacing="0.6">AGS</text>
<text class="tb" x="470.8" y="160" font-size="14.3" text-anchor="middle" transform="rotate(-90 470.8 160)">cell viability(%)</text>
<text class="sb" x="618.6" y="302" font-size="12.5" text-anchor="middle">ISO µM/ml</text>
<line x1="771.4" y1="93.5" x2="788" y2="93.5" stroke="#000" stroke-width="1.3"/>
<path d="M779.7 90.9L782.3 95.4L777.1 95.4Z"/>
<text class="sn" x="797.7" y="97.7" font-size="12.9">36h</text>
<line x1="771.4" y1="111.5" x2="788" y2="111.5" stroke="#000" stroke-width="1.3"/>
<rect x="777.5" y="109.3" width="4.4" height="4.4" fill="#000"/>
<text class="sn" x="797.7" y="115.7" font-size="12.9">24h</text>
<line x1="771.4" y1="129.3" x2="788" y2="129.3" stroke="#000" stroke-width="1.3"/>
<circle cx="779.7" cy="129.3" r="2.2"/>
<text class="sn" x="797.7" y="133.5" font-size="12.9">12h</text>
<text class="sn" x="620.18" y="144.79" font-size="10" text-anchor="middle" fill="#222">*</text>
<text class="sn" x="645.2" y="146.5" font-size="10" text-anchor="middle" fill="#222">***</text>
<text class="sn" x="671.22" y="162.09" font-size="10" text-anchor="middle" fill="#222">***</text>
<text class="sn" x="697.24" y="174.26" font-size="10" text-anchor="middle" fill="#222">***</text>
<text class="sn" x="723.26" y="185.2" font-size="10" text-anchor="middle" fill="#222">***</text>
<text class="sn" x="618.18" y="161.6" font-size="8.3" text-anchor="middle" fill="#222" font-style="italic">#</text>
<text class="sn" x="645.2" y="177.63" font-size="8.3" text-anchor="middle" fill="#222" font-style="italic">###</text>
<text class="sn" x="671.22" y="190.03" font-size="8.3" text-anchor="middle" fill="#222" font-style="italic">###</text>
<text class="sn" x="697.24" y="211.2" font-size="8.3" text-anchor="middle" fill="#222" font-style="italic">###</text>
<text class="sn" x="723.26" y="211.14" font-size="8.3" text-anchor="middle" fill="#222" font-style="italic">###</text>
<line x1="1529.65" y1="143.75" x2="1529.65" y2="146.49" stroke="#d90000" stroke-width="0.8"/>
<line x1="1526.45" y1="143.75" x2="1532.85" y2="143.75" stroke="#d90000" stroke-width="0.8"/>
<rect x="1522.5" y="146.49" width="14.3" height="92.41" fill="#d90000"/>
<line x1="1547.15" y1="181.32" x2="1547.15" y2="183.79" stroke="#6cba2e" stroke-width="0.8"/>
<line x1="1543.95" y1="181.32" x2="1550.35" y2="181.32" stroke="#6cba2e" stroke-width="0.8"/>
<rect x="1540" y="183.79" width="14.3" height="55.11" fill="#6cba2e"/>
<line x1="1564.85" y1="194.21" x2="1564.85" y2="195.03" stroke="#6f9ff5" stroke-width="0.8"/>
<line x1="1561.65" y1="194.21" x2="1568.05" y2="194.21" stroke="#6f9ff5" stroke-width="0.8"/>
<rect x="1557.7" y="195.03" width="14.3" height="43.87" fill="#6f9ff5"/>
<line x1="1582.15" y1="208.46" x2="1582.15" y2="211.21" stroke="#e2801f" stroke-width="0.8"/>
<line x1="1578.95" y1="208.46" x2="1585.35" y2="208.46" stroke="#e2801f" stroke-width="0.8"/>
<rect x="1575" y="211.21" width="14.3" height="27.69" fill="#e2801f"/>
<line x1="1599.75" y1="212.3" x2="1599.75" y2="220.53" stroke="#d845d2" stroke-width="0.8"/>
<line x1="1596.55" y1="212.3" x2="1602.95" y2="212.3" stroke="#d845d2" stroke-width="0.8"/>
<rect x="1592.6" y="220.53" width="14.3" height="18.37" fill="#d845d2"/>
<line x1="1632.25" y1="118.53" x2="1632.25" y2="122.64" stroke="#d90000" stroke-width="0.8"/>
<line x1="1629.05" y1="118.53" x2="1635.45" y2="118.53" stroke="#d90000" stroke-width="0.8"/>
<rect x="1625.1" y="122.64" width="14.3" height="116.26" fill="#d90000"/>
<line x1="1649.65" y1="166.24" x2="1649.65" y2="177.75" stroke="#6cba2e" stroke-width="0.8"/>
<line x1="1646.45" y1="166.24" x2="1652.85" y2="166.24" stroke="#6cba2e" stroke-width="0.8"/>
<rect x="1642.5" y="177.75" width="14.3" height="61.15" fill="#6cba2e"/>
<line x1="1667.15" y1="189.27" x2="1667.15" y2="192.29" stroke="#6f9ff5" stroke-width="0.8"/>
<line x1="1663.95" y1="189.27" x2="1670.35" y2="189.27" stroke="#6f9ff5" stroke-width="0.8"/>
<rect x="1660" y="192.29" width="14.3" height="46.61" fill="#6f9ff5"/>
<line x1="1684.85" y1="198.87" x2="1684.85" y2="201.06" stroke="#e2801f" stroke-width="0.8"/>
<line x1="1681.65" y1="198.87" x2="1688.05" y2="198.87" stroke="#e2801f" stroke-width="0.8"/>
<rect x="1677.7" y="201.06" width="14.3" height="37.84" fill="#e2801f"/>
<line x1="1702.35" y1="221.35" x2="1702.35" y2="225.74" stroke="#d845d2" stroke-width="0.8"/>
<line x1="1699.15" y1="221.35" x2="1705.55" y2="221.35" stroke="#d845d2" stroke-width="0.8"/>
<rect x="1695.2" y="225.74" width="14.3" height="13.16" fill="#d845d2"/>
<line x1="1512.3" y1="101.1" x2="1512.3" y2="239.65" stroke="#000" stroke-width="1.5"/>
<line x1="1511.55" y1="238.9" x2="1718.5" y2="238.9" stroke="#000" stroke-width="1.5"/>
<line x1="1507.8" y1="238.9" x2="1512.3" y2="238.9" stroke="#000" stroke-width="1.5"/>
<text class="sb" x="1508" y="242.4" font-size="10" text-anchor="end">0</text>
<line x1="1507.8" y1="211.48" x2="1512.3" y2="211.48" stroke="#000" stroke-width="1.5"/>
<text class="sb" x="1508" y="214.98" font-size="10" text-anchor="end">100</text>
<line x1="1507.8" y1="184.06" x2="1512.3" y2="184.06" stroke="#000" stroke-width="1.5"/>
<text class="sb" x="1508" y="187.56" font-size="10" text-anchor="end">200</text>
<line x1="1507.8" y1="156.64" x2="1512.3" y2="156.64" stroke="#000" stroke-width="1.5"/>
<text class="sb" x="1508" y="160.14" font-size="10" text-anchor="end">300</text>
<line x1="1507.8" y1="129.22" x2="1512.3" y2="129.22" stroke="#000" stroke-width="1.5"/>
<text class="sb" x="1508" y="132.72" font-size="10" text-anchor="end">400</text>
<line x1="1507.8" y1="101.8" x2="1512.3" y2="101.8" stroke="#000" stroke-width="1.5"/>
<text class="sb" x="1508" y="105.3" font-size="10" text-anchor="end">500</text>
<line x1="1564.5" y1="238.9" x2="1564.5" y2="243.4" stroke="#000" stroke-width="1.5"/>
<text class="sb" x="1564.5" y="253.9" font-size="10.5" text-anchor="middle">HGC27</text>
<line x1="1667" y1="238.9" x2="1667" y2="243.4" stroke="#000" stroke-width="1.5"/>
<text class="sb" x="1667" y="253.9" font-size="10.5" text-anchor="middle">AGS</text>
<text class="tb" x="1485.3" y="170" font-size="9.7" text-anchor="middle" transform="rotate(-90 1485.3 170)">Number of colonies</text>
<rect x="1714.3" y="79.45" width="14.3" height="6.7" fill="#d90000"/>
<text class="sb" x="1737" y="86.6" font-size="10.8">DMSO</text>
<rect x="1714.3" y="95.15" width="14.3" height="6.7" fill="#6cba2e"/>
<text class="sb" x="1737" y="102.3" font-size="10.8">1µM</text>
<rect x="1714.3" y="110.85" width="14.3" height="6.7" fill="#6f9ff5"/>
<text class="sb" x="1737" y="118" font-size="10.8">2µM</text>
<rect x="1714.3" y="125.35" width="14.3" height="6.7" fill="#e2801f"/>
<text class="sb" x="1737" y="132.5" font-size="10.8">4µM</text>
<rect x="1714.3" y="139.55" width="14.3" height="6.7" fill="#d845d2"/>
<text class="sb" x="1737" y="146.7" font-size="10.8">8µM</text>
<text class="sn" x="1547.6" y="182.92" font-size="11.6" text-anchor="middle" fill="#222">***</text>
<text class="sn" x="1565.3" y="195.81" font-size="11.6" text-anchor="middle" fill="#222">***</text>
<text class="sn" x="1582.6" y="210.06" font-size="11.6" text-anchor="middle" fill="#222">***</text>
<text class="sn" x="1600.2" y="213.9" font-size="11.6" text-anchor="middle" fill="#222">***</text>
<text class="sn" x="1650.1" y="167.84" font-size="11.6" text-anchor="middle" fill="#222">***</text>
<text class="sn" x="1667.6" y="190.87" font-size="11.6" text-anchor="middle" fill="#222">***</text>
<text class="sn" x="1685.3" y="200.47" font-size="11.6" text-anchor="middle" fill="#222">***</text>
<text class="sn" x="1702.8" y="222.95" font-size="11.6" text-anchor="middle" fill="#222">***</text>
<line x1="538.25" y1="552.61" x2="538.25" y2="557.23" stroke="#d90000" stroke-width="0.8"/>
<line x1="535.05" y1="552.61" x2="541.45" y2="552.61" stroke="#d90000" stroke-width="0.8"/>
<rect x="530.1" y="557.23" width="16.3" height="18.97" fill="#d90000"/>
<line x1="558.35" y1="552.93" x2="558.35" y2="558.83" stroke="#6cba2e" stroke-width="0.8"/>
<line x1="555.15" y1="552.93" x2="561.55" y2="552.93" stroke="#6cba2e" stroke-width="0.8"/>
<rect x="550.2" y="558.83" width="16.3" height="17.37" fill="#6cba2e"/>
<line x1="578.15" y1="460.16" x2="578.15" y2="471.95" stroke="#6f9ff5" stroke-width="0.8"/>
<line x1="574.95" y1="460.16" x2="581.35" y2="460.16" stroke="#6f9ff5" stroke-width="0.8"/>
<rect x="570" y="471.95" width="16.3" height="104.25" fill="#6f9ff5"/>
<line x1="597.95" y1="557.39" x2="597.95" y2="562.33" stroke="#e2801f" stroke-width="0.8"/>
<line x1="594.75" y1="557.39" x2="601.15" y2="557.39" stroke="#e2801f" stroke-width="0.8"/>
<rect x="589.8" y="562.33" width="16.3" height="13.87" fill="#e2801f"/>
<line x1="634.15" y1="560.26" x2="634.15" y2="564.09" stroke="#d90000" stroke-width="0.8"/>
<line x1="630.95" y1="560.26" x2="637.35" y2="560.26" stroke="#d90000" stroke-width="0.8"/>
<rect x="626" y="564.09" width="16.3" height="12.11" fill="#d90000"/>
<line x1="653.95" y1="561.38" x2="653.95" y2="564.56" stroke="#6cba2e" stroke-width="0.8"/>
<line x1="650.75" y1="561.38" x2="657.15" y2="561.38" stroke="#6cba2e" stroke-width="0.8"/>
<rect x="645.8" y="564.56" width="16.3" height="11.64" fill="#6cba2e"/>
<line x1="673.95" y1="492.36" x2="673.95" y2="503.04" stroke="#6f9ff5" stroke-width="0.8"/>
<line x1="670.75" y1="492.36" x2="677.15" y2="492.36" stroke="#6f9ff5" stroke-width="0.8"/>
<rect x="665.8" y="503.04" width="16.3" height="73.16" fill="#6f9ff5"/>
<line x1="693.55" y1="559.62" x2="693.55" y2="563.45" stroke="#e2801f" stroke-width="0.8"/>
<line x1="690.35" y1="559.62" x2="696.75" y2="559.62" stroke="#e2801f" stroke-width="0.8"/>
<rect x="685.4" y="563.45" width="16.3" height="12.75" fill="#e2801f"/>
<line x1="519.4" y1="447.98" x2="519.4" y2="576.95" stroke="#000" stroke-width="1.5"/>
<line x1="518.65" y1="576.2" x2="712.3" y2="576.2" stroke="#000" stroke-width="1.5"/>
<line x1="514.9" y1="576.2" x2="519.4" y2="576.2" stroke="#000" stroke-width="1.5"/>
<text class="sb" x="514.1" y="579.7" font-size="9.6" text-anchor="end">0</text>
<line x1="514.9" y1="544.32" x2="519.4" y2="544.32" stroke="#000" stroke-width="1.5"/>
<text class="sb" x="514.1" y="547.82" font-size="9.6" text-anchor="end">20</text>
<line x1="514.9" y1="512.44" x2="519.4" y2="512.44" stroke="#000" stroke-width="1.5"/>
<text class="sb" x="514.1" y="515.94" font-size="9.6" text-anchor="end">40</text>
<line x1="514.9" y1="480.56" x2="519.4" y2="480.56" stroke="#000" stroke-width="1.5"/>
<text class="sb" x="514.1" y="484.06" font-size="9.6" text-anchor="end">60</text>
<line x1="514.9" y1="448.68" x2="519.4" y2="448.68" stroke="#000" stroke-width="1.5"/>
<text class="sb" x="514.1" y="452.18" font-size="9.6" text-anchor="end">80</text>
<line x1="568" y1="576.2" x2="568" y2="580.7" stroke="#000" stroke-width="1.5"/>
<text class="sb" x="568" y="590.1" font-size="9.7" text-anchor="middle">HGC27</text>
<line x1="664" y1="576.2" x2="664" y2="580.7" stroke="#000" stroke-width="1.5"/>
<text class="sb" x="664" y="590.1" font-size="9.7" text-anchor="middle">AGS</text>
<text class="tb" x="499.2" y="513" font-size="9.1" text-anchor="middle" transform="rotate(-90 499.2 513)">Migration number of cells/view</text>
<rect x="709.6" y="422.95" width="13.7" height="6.1" fill="#d90000"/>
<text class="sb" x="731.2" y="429.8" font-size="10.6">Control</text>
<rect x="709.6" y="437.45" width="13.7" height="6.1" fill="#6cba2e"/>
<text class="sb" x="731.2" y="444.3" font-size="10.6">ISO</text>
<rect x="709.6" y="452.55" width="13.7" height="6.1" fill="#6f9ff5"/>
<text class="sb" x="731.2" y="459.4" font-size="10.6">TGF-β</text>
<rect x="709.6" y="467.05" width="13.7" height="6.1" fill="#e2801f"/>
<text class="sb" x="731.2" y="473.9" font-size="10.6">TGF-β+ISO</text>
<line x1="536" y1="546.4" x2="560.7" y2="546.4" stroke="#333" stroke-width="0.9"/>
<text class="tn" x="549.5" y="544.2" font-size="9.5" text-anchor="middle" fill="#333">ns</text>
<line x1="632.8" y1="552.1" x2="657.7" y2="552.1" stroke="#333" stroke-width="0.9"/>
<text class="tn" x="645.8" y="549.9" font-size="9.5" text-anchor="middle" fill="#333">ns</text>
<text class="sn" x="578.9" y="462" font-size="11.6" text-anchor="middle" fill="#222">***</text>
<text class="sn" x="674.3" y="493.7" font-size="11.6" text-anchor="middle" fill="#222">***</text>
<text class="sn" x="598.5" y="556.2" font-size="7.2" text-anchor="middle" fill="#111" font-style="italic">###</text>
<text class="sn" x="694.3" y="557.1" font-size="7.2" text-anchor="middle" fill="#111" font-style="italic">###</text>
<line x1="1356" y1="549.41" x2="1356" y2="552.98" stroke="#d90000" stroke-width="0.8"/>
<line x1="1352.8" y1="549.41" x2="1359.2" y2="549.41" stroke="#d90000" stroke-width="0.8"/>
<rect x="1347.9" y="552.98" width="16.2" height="11.22" fill="#d90000"/>
<line x1="1375.8" y1="548.13" x2="1375.8" y2="552.98" stroke="#6cba2e" stroke-width="0.8"/>
<line x1="1372.6" y1="548.13" x2="1379" y2="548.13" stroke="#6cba2e" stroke-width="0.8"/>
<rect x="1367.7" y="552.98" width="16.2" height="11.22" fill="#6cba2e"/>
<line x1="1395.6" y1="466.28" x2="1395.6" y2="476.99" stroke="#6f9ff5" stroke-width="0.8"/>
<line x1="1392.4" y1="466.28" x2="1398.8" y2="466.28" stroke="#6f9ff5" stroke-width="0.8"/>
<rect x="1387.5" y="476.99" width="16.2" height="87.21" fill="#6f9ff5"/>
<line x1="1415.1" y1="550.94" x2="1415.1" y2="555.53" stroke="#e2801f" stroke-width="0.8"/>
<line x1="1411.9" y1="550.94" x2="1418.3" y2="550.94" stroke="#e2801f" stroke-width="0.8"/>
<rect x="1407" y="555.53" width="16.2" height="8.67" fill="#e2801f"/>
<line x1="1451.6" y1="552.34" x2="1451.6" y2="555.53" stroke="#d90000" stroke-width="0.8"/>
<line x1="1448.4" y1="552.34" x2="1454.8" y2="552.34" stroke="#d90000" stroke-width="0.8"/>
<rect x="1443.5" y="555.53" width="16.2" height="8.67" fill="#d90000"/>
<line x1="1471.4" y1="552.22" x2="1471.4" y2="556.81" stroke="#6cba2e" stroke-width="0.8"/>
<line x1="1468.2" y1="552.22" x2="1474.6" y2="552.22" stroke="#6cba2e" stroke-width="0.8"/>
<rect x="1463.3" y="556.81" width="16.2" height="7.39" fill="#6cba2e"/>
<line x1="1491.2" y1="485.41" x2="1491.2" y2="491.78" stroke="#6f9ff5" stroke-width="0.8"/>
<line x1="1488" y1="485.41" x2="1494.4" y2="485.41" stroke="#6f9ff5" stroke-width="0.8"/>
<rect x="1483.1" y="491.78" width="16.2" height="72.42" fill="#6f9ff5"/>
<line x1="1511" y1="551.2" x2="1511" y2="556.81" stroke="#e2801f" stroke-width="0.8"/>
<line x1="1507.8" y1="551.2" x2="1514.2" y2="551.2" stroke="#e2801f" stroke-width="0.8"/>
<rect x="1502.9" y="556.81" width="16.2" height="7.39" fill="#e2801f"/>
<line x1="1336.9" y1="436" x2="1336.9" y2="564.95" stroke="#000" stroke-width="1.5"/>
<line x1="1336.15" y1="564.2" x2="1530" y2="564.2" stroke="#000" stroke-width="1.5"/>
<line x1="1332.4" y1="564.2" x2="1336.9" y2="564.2" stroke="#000" stroke-width="1.5"/>
<text class="sb" x="1331.6" y="567.7" font-size="9.6" text-anchor="end">0</text>
<line x1="1332.4" y1="538.7" x2="1336.9" y2="538.7" stroke="#000" stroke-width="1.5"/>
<text class="sb" x="1331.6" y="542.2" font-size="9.6" text-anchor="end">10</text>
<line x1="1332.4" y1="513.2" x2="1336.9" y2="513.2" stroke="#000" stroke-width="1.5"/>
<text class="sb" x="1331.6" y="516.7" font-size="9.6" text-anchor="end">20</text>
<line x1="1332.4" y1="487.7" x2="1336.9" y2="487.7" stroke="#000" stroke-width="1.5"/>
<text class="sb" x="1331.6" y="491.2" font-size="9.6" text-anchor="end">30</text>
<line x1="1332.4" y1="462.2" x2="1336.9" y2="462.2" stroke="#000" stroke-width="1.5"/>
<text class="sb" x="1331.6" y="465.7" font-size="9.6" text-anchor="end">40</text>
<line x1="1332.4" y1="436.7" x2="1336.9" y2="436.7" stroke="#000" stroke-width="1.5"/>
<text class="sb" x="1331.6" y="440.2" font-size="9.6" text-anchor="end">50</text>
<line x1="1385.4" y1="564.2" x2="1385.4" y2="568.7" stroke="#000" stroke-width="1.5"/>
<text class="sb" x="1385.4" y="578.5" font-size="9.7" text-anchor="middle">HGC27</text>
<line x1="1481.3" y1="564.2" x2="1481.3" y2="568.7" stroke="#000" stroke-width="1.5"/>
<text class="sb" x="1481.3" y="578.5" font-size="9.7" text-anchor="middle">AGS</text>
<text class="tb" x="1316.7" y="500.4" font-size="9.1" text-anchor="middle" transform="rotate(-90 1316.7 500.4)">Invasion number of cells/view</text>
<rect x="1527" y="410.85" width="13.7" height="6.1" fill="#d90000"/>
<text class="sb" x="1548.7" y="417.7" font-size="10.6">Control</text>
<rect x="1527" y="425.65" width="13.7" height="6.1" fill="#6cba2e"/>
<text class="sb" x="1548.7" y="432.5" font-size="10.6">ISO</text>
<rect x="1527" y="440.45" width="13.7" height="6.1" fill="#6f9ff5"/>
<text class="sb" x="1548.7" y="447.3" font-size="10.6">TGF-β</text>
<rect x="1527" y="454.85" width="13.7" height="6.1" fill="#e2801f"/>
<text class="sb" x="1548.7" y="461.7" font-size="10.6">TGF-β+ISO</text>
<line x1="1353.5" y1="544.1" x2="1377.9" y2="544.1" stroke="#333" stroke-width="0.9"/>
<text class="tn" x="1366.7" y="541.9" font-size="9.5" text-anchor="middle" fill="#333">ns</text>
<line x1="1450.3" y1="545.3" x2="1474.9" y2="545.3" stroke="#333" stroke-width="0.9"/>
<text class="tn" x="1463" y="543.1" font-size="9.5" text-anchor="middle" fill="#333">ns</text>
<text class="sn" x="1396.3" y="467.7" font-size="11.6" text-anchor="middle" fill="#222">***</text>
<text class="sn" x="1491.5" y="487.5" font-size="11.6" text-anchor="middle" fill="#222">***</text>
<text class="sn" x="1416" y="549.3" font-size="7.2" text-anchor="middle" fill="#111" font-style="italic">###</text>
<text class="sn" x="1511.8" y="549.8" font-size="7.2" text-anchor="middle" fill="#111" font-style="italic">###</text>
<line x1="528.4" y1="946.38" x2="528.4" y2="954.33" stroke="#d90000" stroke-width="0.8"/>
<line x1="525.2" y1="946.38" x2="531.6" y2="946.38" stroke="#d90000" stroke-width="0.8"/>
<rect x="520.3" y="954.33" width="16.2" height="23.37" fill="#d90000"/>
<line x1="548.2" y1="949.72" x2="548.2" y2="957.19" stroke="#6cba2e" stroke-width="0.8"/>
<line x1="545" y1="949.72" x2="551.4" y2="949.72" stroke="#6cba2e" stroke-width="0.8"/>
<rect x="540.1" y="957.19" width="16.2" height="20.51" fill="#6cba2e"/>
<line x1="568.1" y1="911.24" x2="568.1" y2="914.26" stroke="#6f9ff5" stroke-width="0.8"/>
<line x1="564.9" y1="911.24" x2="571.3" y2="911.24" stroke="#6f9ff5" stroke-width="0.8"/>
<rect x="560" y="914.26" width="16.2" height="63.44" fill="#6f9ff5"/>
<line x1="587.7" y1="952.26" x2="587.7" y2="960.05" stroke="#e2801f" stroke-width="0.8"/>
<line x1="584.5" y1="952.26" x2="590.9" y2="952.26" stroke="#e2801f" stroke-width="0.8"/>
<rect x="579.6" y="960.05" width="16.2" height="17.65" fill="#e2801f"/>
<line x1="623.6" y1="942.4" x2="623.6" y2="944.31" stroke="#d90000" stroke-width="0.8"/>
<line x1="620.4" y1="942.4" x2="626.8" y2="942.4" stroke="#d90000" stroke-width="0.8"/>
<rect x="615.5" y="944.31" width="16.2" height="33.39" fill="#d90000"/>
<line x1="643.4" y1="936.36" x2="643.4" y2="945.9" stroke="#6cba2e" stroke-width="0.8"/>
<line x1="640.2" y1="936.36" x2="646.6" y2="936.36" stroke="#6cba2e" stroke-width="0.8"/>
<rect x="635.3" y="945.9" width="16.2" height="31.8" fill="#6cba2e"/>
<line x1="663" y1="875.46" x2="663" y2="882.14" stroke="#6f9ff5" stroke-width="0.8"/>
<line x1="659.8" y1="875.46" x2="666.2" y2="875.46" stroke="#6f9ff5" stroke-width="0.8"/>
<rect x="654.9" y="882.14" width="16.2" height="95.56" fill="#6f9ff5"/>
<line x1="682.8" y1="942.08" x2="682.8" y2="947.49" stroke="#e2801f" stroke-width="0.8"/>
<line x1="679.6" y1="942.08" x2="686" y2="942.08" stroke="#e2801f" stroke-width="0.8"/>
<rect x="674.7" y="947.49" width="16.2" height="30.21" fill="#e2801f"/>
<line x1="510.5" y1="849.8" x2="510.5" y2="978.45" stroke="#000" stroke-width="1.5"/>
<line x1="509.75" y1="977.7" x2="701.3" y2="977.7" stroke="#000" stroke-width="1.5"/>
<line x1="506" y1="977.7" x2="510.5" y2="977.7" stroke="#000" stroke-width="1.5"/>
<text class="sb" x="505.2" y="981.2" font-size="9.6" text-anchor="end">0.0</text>
<line x1="506" y1="945.9" x2="510.5" y2="945.9" stroke="#000" stroke-width="1.5"/>
<text class="sb" x="505.2" y="949.4" font-size="9.6" text-anchor="end">0.2</text>
<line x1="506" y1="914.1" x2="510.5" y2="914.1" stroke="#000" stroke-width="1.5"/>
<text class="sb" x="505.2" y="917.6" font-size="9.6" text-anchor="end">0.4</text>
<line x1="506" y1="882.3" x2="510.5" y2="882.3" stroke="#000" stroke-width="1.5"/>
<text class="sb" x="505.2" y="885.8" font-size="9.6" text-anchor="end">0.6</text>
<line x1="506" y1="850.5" x2="510.5" y2="850.5" stroke="#000" stroke-width="1.5"/>
<text class="sb" x="505.2" y="854" font-size="9.6" text-anchor="end">0.8</text>
<line x1="558" y1="977.7" x2="558" y2="982.2" stroke="#000" stroke-width="1.5"/>
<text class="sb" x="558" y="992.2" font-size="9.7" text-anchor="middle">10h</text>
<line x1="653.2" y1="977.7" x2="653.2" y2="982.2" stroke="#000" stroke-width="1.5"/>
<text class="sb" x="653.2" y="992.2" font-size="9.7" text-anchor="middle">24h</text>
<text class="tb" x="488.8" y="914.1" font-size="10.9" text-anchor="middle" transform="rotate(-90 488.8 914.1)">%of wounded closed</text>
<rect x="698.5" y="825.25" width="13.7" height="6.1" fill="#d90000"/>
<text class="sb" x="719.8" y="832.1" font-size="10.6">Control</text>
<rect x="698.5" y="839.85" width="13.7" height="6.1" fill="#6cba2e"/>
<text class="sb" x="719.8" y="846.7" font-size="10.6">ISO</text>
<rect x="698.5" y="854.45" width="13.7" height="6.1" fill="#6f9ff5"/>
<text class="sb" x="719.8" y="861.3" font-size="10.6">TGF-β</text>
<rect x="698.5" y="869.05" width="13.7" height="6.1" fill="#e2801f"/>
<text class="sb" x="719.8" y="875.9" font-size="10.6">TGF-β+ISO</text>
<line x1="526.2" y1="943.1" x2="550.6" y2="943.1" stroke="#333" stroke-width="0.9"/>
<text class="tn" x="538.4" y="940.9" font-size="9.5" text-anchor="middle" fill="#333">ns</text>
<line x1="620.5" y1="928.9" x2="644.9" y2="928.9" stroke="#333" stroke-width="0.9"/>
<text class="tn" x="633.1" y="926.7" font-size="9.5" text-anchor="middle" fill="#333">ns</text>
<text class="sn" x="568.4" y="912.9" font-size="11.6" text-anchor="middle" fill="#222">***</text>
<text class="sn" x="663.2" y="877" font-size="11.6" text-anchor="middle" fill="#222">***</text>
<text class="sn" x="588" y="950.1" font-size="7.2" text-anchor="middle" fill="#111" font-style="italic">###</text>
<text class="sn" x="683.2" y="940.3" font-size="7.2" text-anchor="middle" fill="#111" font-style="italic">###</text>
<text class="tb" x="593.9" y="847.3" font-size="10.5" text-anchor="middle" letter-spacing="0.5">HGC27</text>
<line x1="1368.4" y1="961.32" x2="1368.4" y2="963.55" stroke="#d90000" stroke-width="0.8"/>
<line x1="1365.2" y1="961.32" x2="1371.6" y2="961.32" stroke="#d90000" stroke-width="0.8"/>
<rect x="1360.3" y="963.55" width="16.2" height="14.15" fill="#d90000"/>
<line x1="1388.2" y1="960.69" x2="1388.2" y2="964.19" stroke="#6cba2e" stroke-width="0.8"/>
<line x1="1385" y1="960.69" x2="1391.4" y2="960.69" stroke="#6cba2e" stroke-width="0.8"/>
<rect x="1380.1" y="964.19" width="16.2" height="13.52" fill="#6cba2e"/>
<line x1="1408.1" y1="912.99" x2="1408.1" y2="920.94" stroke="#6f9ff5" stroke-width="0.8"/>
<line x1="1404.9" y1="912.99" x2="1411.3" y2="912.99" stroke="#6f9ff5" stroke-width="0.8"/>
<rect x="1400" y="920.94" width="16.2" height="56.76" fill="#6f9ff5"/>
<line x1="1427.7" y1="958.14" x2="1427.7" y2="964.19" stroke="#e2801f" stroke-width="0.8"/>
<line x1="1424.5" y1="958.14" x2="1430.9" y2="958.14" stroke="#e2801f" stroke-width="0.8"/>
<rect x="1419.6" y="964.19" width="16.2" height="13.52" fill="#e2801f"/>
<line x1="1463.6" y1="955.44" x2="1463.6" y2="957.83" stroke="#d90000" stroke-width="0.8"/>
<line x1="1460.4" y1="955.44" x2="1466.8" y2="955.44" stroke="#d90000" stroke-width="0.8"/>
<rect x="1455.5" y="957.83" width="16.2" height="19.88" fill="#d90000"/>
<line x1="1483.4" y1="956.87" x2="1483.4" y2="960.05" stroke="#6cba2e" stroke-width="0.8"/>
<line x1="1480.2" y1="956.87" x2="1486.6" y2="956.87" stroke="#6cba2e" stroke-width="0.8"/>
<rect x="1475.3" y="960.05" width="16.2" height="17.65" fill="#6cba2e"/>
<line x1="1503" y1="882.62" x2="1503" y2="889.14" stroke="#6f9ff5" stroke-width="0.8"/>
<line x1="1499.8" y1="882.62" x2="1506.2" y2="882.62" stroke="#6f9ff5" stroke-width="0.8"/>
<rect x="1494.9" y="889.14" width="16.2" height="88.56" fill="#6f9ff5"/>
<line x1="1522.8" y1="956.24" x2="1522.8" y2="958.14" stroke="#e2801f" stroke-width="0.8"/>
<line x1="1519.6" y1="956.24" x2="1526" y2="956.24" stroke="#e2801f" stroke-width="0.8"/>
<rect x="1514.7" y="958.14" width="16.2" height="19.56" fill="#e2801f"/>
<line x1="1350.5" y1="849.8" x2="1350.5" y2="978.45" stroke="#000" stroke-width="1.5"/>
<line x1="1349.75" y1="977.7" x2="1541.3" y2="977.7" stroke="#000" stroke-width="1.5"/>
<line x1="1346" y1="977.7" x2="1350.5" y2="977.7" stroke="#000" stroke-width="1.5"/>
<text class="sb" x="1345.2" y="981.2" font-size="9.6" text-anchor="end">0.0</text>
<line x1="1346" y1="945.9" x2="1350.5" y2="945.9" stroke="#000" stroke-width="1.5"/>
<text class="sb" x="1345.2" y="949.4" font-size="9.6" text-anchor="end">0.2</text>
<line x1="1346" y1="914.1" x2="1350.5" y2="914.1" stroke="#000" stroke-width="1.5"/>
<text class="sb" x="1345.2" y="917.6" font-size="9.6" text-anchor="end">0.4</text>
<line x1="1346" y1="882.3" x2="1350.5" y2="882.3" stroke="#000" stroke-width="1.5"/>
<text class="sb" x="1345.2" y="885.8" font-size="9.6" text-anchor="end">0.6</text>
<line x1="1346" y1="850.5" x2="1350.5" y2="850.5" stroke="#000" stroke-width="1.5"/>
<text class="sb" x="1345.2" y="854" font-size="9.6" text-anchor="end">0.8</text>
<line x1="1398" y1="977.7" x2="1398" y2="982.2" stroke="#000" stroke-width="1.5"/>
<text class="sb" x="1398" y="992.2" font-size="9.7" text-anchor="middle">10h</text>
<line x1="1493.2" y1="977.7" x2="1493.2" y2="982.2" stroke="#000" stroke-width="1.5"/>
<text class="sb" x="1493.2" y="992.2" font-size="9.7" text-anchor="middle">24h</text>
<text class="tb" x="1328.8" y="914.1" font-size="10.9" text-anchor="middle" transform="rotate(-90 1328.8 914.1)">%of wounded closed</text>
<rect x="1538.5" y="825.25" width="13.7" height="6.1" fill="#d90000"/>
<text class="sb" x="1559.8" y="832.1" font-size="10.6">Control</text>
<rect x="1538.5" y="839.85" width="13.7" height="6.1" fill="#6cba2e"/>
<text class="sb" x="1559.8" y="846.7" font-size="10.6">ISO</text>
<rect x="1538.5" y="854.45" width="13.7" height="6.1" fill="#6f9ff5"/>
<text class="sb" x="1559.8" y="861.3" font-size="10.6">TGF-β</text>
<rect x="1538.5" y="869.05" width="13.7" height="6.1" fill="#e2801f"/>
<text class="sb" x="1559.8" y="875.9" font-size="10.6">TGF-β+ISO</text>
<line x1="1366.2" y1="950.7" x2="1390.6" y2="950.7" stroke="#333" stroke-width="0.9"/>
<text class="tn" x="1378.4" y="948.5" font-size="9.5" text-anchor="middle" fill="#333">ns</text>
<line x1="1460.5" y1="946.8" x2="1484.9" y2="946.8" stroke="#333" stroke-width="0.9"/>
<text class="tn" x="1473.1" y="944.6" font-size="9.5" text-anchor="middle" fill="#333">ns</text>
<text class="sn" x="1408.4" y="914.6" font-size="11.6" text-anchor="middle" fill="#222">***</text>
<text class="sn" x="1503.2" y="883.9" font-size="11.6" text-anchor="middle" fill="#222">***</text>
<text class="sn" x="1428" y="956" font-size="7.2" text-anchor="middle" fill="#111" font-style="italic">###</text>
<text class="sn" x="1523.2" y="953.8" font-size="7.2" text-anchor="middle" fill="#111" font-style="italic">###</text>
<text class="tb" x="1427" y="847.3" font-size="10.5" text-anchor="middle" letter-spacing="0.5">AGS</text>
</svg>
</body></html>
